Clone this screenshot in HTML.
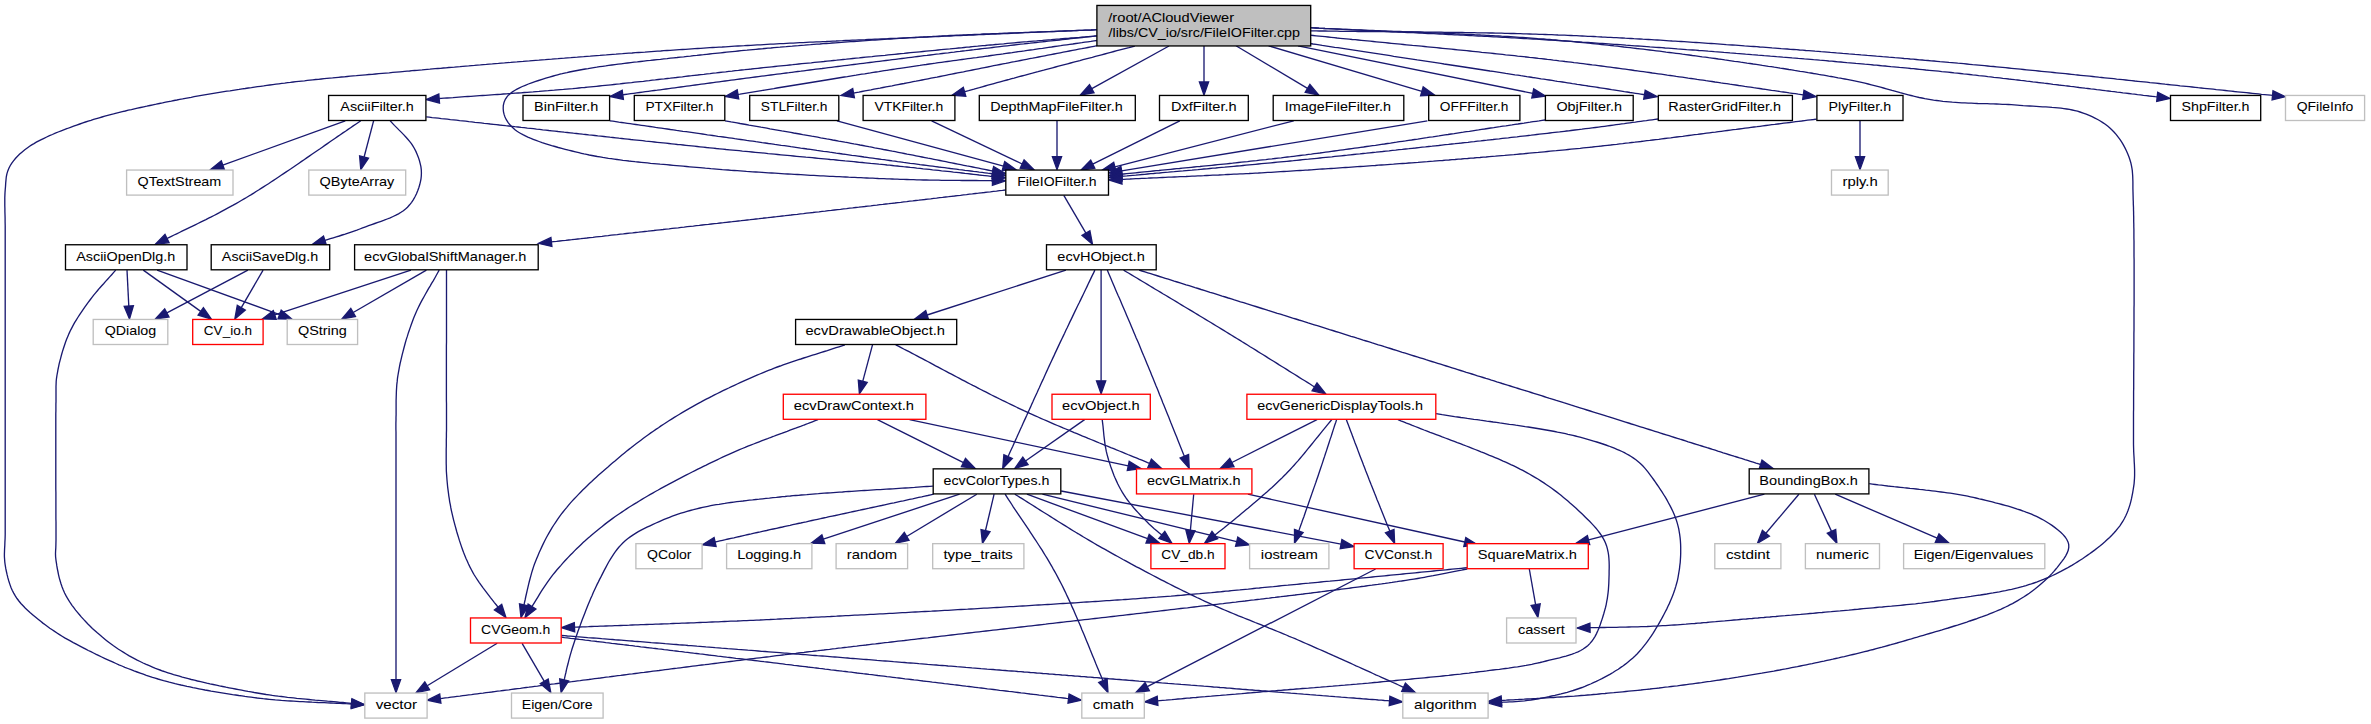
<!DOCTYPE html>
<html><head><meta charset="utf-8"><style>
html,body{margin:0;padding:0;background:#fff;}
body{width:2371px;height:724px;overflow:hidden;}
svg{display:block;}
.e path{fill:none;stroke:#191970;stroke-width:1.33;}
.e polygon{fill:#191970;stroke:#191970;stroke-width:1.33;stroke-linejoin:miter;}
.n rect{fill:#fff;stroke-width:1.33;}
.t text{font-family:"Liberation Sans",sans-serif;font-size:13.30px;fill:#000;stroke:#000;stroke-width:0.05px;}
</style></head><body>
<svg width="2371" height="724" viewBox="0 0 2371 724">
<g class="e">
<path d="M1097.0,29.7 L1094.0,29.8 L1091.0,30.0 L1088.1,30.1 L1085.2,30.2 L1082.4,30.3 L1079.6,30.4 L1076.8,30.5 L1074.0,30.7 L1071.2,30.8 L1068.4,30.9 L1065.7,31.0 L1062.9,31.1 L1060.2,31.2 L1057.4,31.3 L1054.6,31.5 L1051.8,31.6 L1048.9,31.7 L1046.1,31.8 L1043.2,31.9 L1040.2,32.0 L1037.2,32.2 L1034.2,32.3 L1031.1,32.4 L1027.9,32.6 L1024.7,32.7 L1021.4,32.9 L1018.1,33.0 L1014.6,33.1 L1011.1,33.3 L1007.5,33.5 L1003.8,33.6 L1000.0,33.8 L997.8,33.9 L995.5,34.0 L993.2,34.1 L990.9,34.2 L988.6,34.3 L986.2,34.4 L983.8,34.5 L981.3,34.6 L978.9,34.7 L976.4,34.8 L973.8,35.0 L971.3,35.1 L968.7,35.2 L966.1,35.3 L963.5,35.4 L960.8,35.5 L958.1,35.6 L955.4,35.7 L952.7,35.9 L949.9,36.0 L947.1,36.1 L944.3,36.2 L941.5,36.3 L938.7,36.5 L935.8,36.6 L932.9,36.7 L930.0,36.8 L927.1,37.0 L924.1,37.1 L921.2,37.2 L918.2,37.3 L915.2,37.5 L912.2,37.6 L909.1,37.7 L906.1,37.9 L903.0,38.0 L900.0,38.1 L896.9,38.3 L893.8,38.4 L890.6,38.5 L887.5,38.7 L884.4,38.8 L881.2,38.9 L878.0,39.1 L874.8,39.2 L871.7,39.4 L868.5,39.5 L865.2,39.7 L862.0,39.8 L858.8,39.9 L855.6,40.1 L852.3,40.2 L849.1,40.4 L845.8,40.5 L842.5,40.7 L839.3,40.8 L836.0,41.0 L832.7,41.1 L829.4,41.3 L826.2,41.5 L822.9,41.6 L819.6,41.8 L816.3,41.9 L813.0,42.1 L809.7,42.2 L806.4,42.4 L803.1,42.6 L799.8,42.7 L796.5,42.9 L793.2,43.1 L789.9,43.2 L786.6,43.4 L783.4,43.6 L780.1,43.7 L776.8,43.9 L773.5,44.1 L770.3,44.2 L767.0,44.4 L763.7,44.6 L760.5,44.8 L757.2,44.9 L754.0,45.1 L750.8,45.3 L747.6,45.5 L744.3,45.7 L741.1,45.8 L738.0,46.0 L734.8,46.2 L731.6,46.4 L728.4,46.6 L725.3,46.8 L722.2,47.0 L719.0,47.1 L715.9,47.3 L712.8,47.5 L709.8,47.7 L706.7,47.9 L703.7,48.1 L700.7,48.3 L697.7,48.5 L694.7,48.7 L691.7,48.9 L688.6,49.1 L685.5,49.3 L682.5,49.5 L679.4,49.7 L676.3,49.9 L673.2,50.1 L670.1,50.3 L667.0,50.5 L663.8,50.7 L660.7,51.0 L657.5,51.2 L654.4,51.4 L651.2,51.6 L648.0,51.8 L644.9,52.1 L641.7,52.3 L638.5,52.5 L635.3,52.7 L632.1,53.0 L628.9,53.2 L625.7,53.4 L622.5,53.7 L619.2,53.9 L616.0,54.2 L612.8,54.4 L609.6,54.6 L606.3,54.9 L603.1,55.1 L599.9,55.4 L596.7,55.6 L593.4,55.8 L590.2,56.1 L587.0,56.3 L583.7,56.6 L580.5,56.8 L577.3,57.1 L574.1,57.3 L570.8,57.6 L567.6,57.8 L564.4,58.1 L561.2,58.3 L558.0,58.6 L554.8,58.8 L551.6,59.1 L548.4,59.3 L545.2,59.6 L542.0,59.8 L538.9,60.1 L535.7,60.3 L532.5,60.6 L529.4,60.9 L526.2,61.1 L523.1,61.4 L520.0,61.6 L516.9,61.9 L513.8,62.1 L510.7,62.4 L507.6,62.6 L504.5,62.9 L501.5,63.1 L498.4,63.4 L495.4,63.6 L492.3,63.9 L489.3,64.1 L486.3,64.4 L483.4,64.6 L480.4,64.9 L477.4,65.1 L474.5,65.4 L471.6,65.6 L468.7,65.9 L465.8,66.1 L462.9,66.3 L460.0,66.6 L457.2,66.8 L454.4,67.1 L451.6,67.3 L448.8,67.5 L446.0,67.8 L443.3,68.0 L440.6,68.3 L437.8,68.5 L435.2,68.7 L432.5,68.9 L429.9,69.2 L427.2,69.4 L424.6,69.6 L422.1,69.9 L419.5,70.1 L417.0,70.3 L414.5,70.5 L412.0,70.7 L409.6,71.0 L407.1,71.2 L404.7,71.4 L402.4,71.6 L400.0,71.8 L396.3,72.1 L392.7,72.4 L389.2,72.8 L385.7,73.1 L382.2,73.4 L378.8,73.7 L375.5,74.0 L372.2,74.3 L368.9,74.5 L365.7,74.8 L362.6,75.1 L359.4,75.4 L356.3,75.7 L353.3,75.9 L350.2,76.2 L347.2,76.5 L344.3,76.8 L341.3,77.0 L338.4,77.3 L335.5,77.6 L332.6,77.9 L329.8,78.1 L326.9,78.4 L324.1,78.7 L321.3,79.0 L318.4,79.3 L315.6,79.5 L312.8,79.8 L310.0,80.1 L307.3,80.4 L304.5,80.8 L301.7,81.1 L298.9,81.4 L296.0,81.7 L293.2,82.0 L290.4,82.4 L287.6,82.7 L284.7,83.1 L281.8,83.4 L278.9,83.8 L276.0,84.2 L272.9,84.6 L269.8,85.0 L266.8,85.4 L263.7,85.9 L260.6,86.3 L257.5,86.7 L254.5,87.1 L251.4,87.6 L248.3,88.0 L245.2,88.5 L242.2,88.9 L239.1,89.4 L236.1,89.8 L233.0,90.3 L230.0,90.8 L226.9,91.2 L223.9,91.7 L220.9,92.2 L217.9,92.7 L214.9,93.2 L211.9,93.7 L208.9,94.2 L205.9,94.7 L202.9,95.2 L200.0,95.7 L197.1,96.2 L194.1,96.7 L191.2,97.3 L188.3,97.8 L185.4,98.3 L182.6,98.9 L179.7,99.4 L176.9,100.0 L174.1,100.5 L171.3,101.1 L168.5,101.6 L165.7,102.2 L162.5,102.9 L159.4,103.5 L156.2,104.2 L153.0,104.8 L149.9,105.5 L146.8,106.2 L143.7,106.8 L140.6,107.5 L137.5,108.2 L134.4,108.9 L131.4,109.6 L128.3,110.2 L125.3,111.0 L122.3,111.7 L119.4,112.4 L116.4,113.1 L113.5,113.9 L110.6,114.6 L107.7,115.4 L104.8,116.2 L102.0,117.0 L99.2,117.8 L96.4,118.6 L93.6,119.4 L90.9,120.3 L88.2,121.1 L85.5,122.0 L82.9,122.9 L79.8,124.0 L76.7,125.1 L73.6,126.2 L70.5,127.3 L67.4,128.5 L64.3,129.6 L61.2,130.8 L58.2,132.0 L55.3,133.2 L52.4,134.5 L49.5,135.7 L46.7,137.0 L44.0,138.3 L41.3,139.6 L38.8,140.9 L36.3,142.2 L34.0,143.6 L31.7,144.9 L29.6,146.3 L27.6,147.7 L24.8,149.8 L22.2,151.9 L19.7,154.1 L17.5,156.3 L15.4,158.5 L13.5,160.8 L11.8,163.1 L10.3,165.5 L9.0,168.0 L7.8,170.9 L6.9,173.8 L6.3,176.8 L6.0,179.9 L5.7,183.1 L5.5,186.5 L5.2,190.0 L5.0,192.6 L4.9,195.1 L4.8,197.6 L4.8,200.2 L4.8,202.8 L4.8,205.5 L4.9,208.4 L4.9,211.4 L5.0,214.6 L5.1,218.0 L5.1,221.7 L5.2,225.7 L5.2,230.0 L5.2,231.6 L5.2,233.4 L5.2,235.2 L5.2,237.1 L5.2,239.1 L5.2,241.1 L5.2,243.2 L5.2,245.4 L5.2,247.7 L5.2,250.0 L5.2,252.4 L5.2,254.9 L5.2,257.4 L5.2,260.0 L5.2,262.7 L5.2,265.4 L5.2,268.2 L5.2,271.0 L5.2,273.9 L5.2,276.9 L5.2,279.8 L5.2,282.9 L5.2,286.0 L5.2,289.1 L5.2,292.3 L5.2,295.5 L5.2,298.8 L5.2,302.1 L5.2,305.4 L5.2,308.8 L5.2,312.2 L5.2,315.6 L5.2,319.1 L5.2,322.6 L5.2,326.1 L5.2,329.6 L5.2,333.2 L5.2,336.8 L5.2,340.4 L5.2,344.0 L5.2,347.7 L5.2,351.4 L5.2,355.0 L5.2,358.7 L5.2,362.4 L5.2,366.1 L5.2,369.8 L5.2,373.5 L5.2,377.2 L5.2,381.0 L5.2,384.7 L5.2,388.4 L5.2,392.1 L5.2,395.8 L5.2,399.5 L5.2,403.2 L5.2,406.9 L5.2,410.5 L5.2,414.2 L5.2,417.8 L5.2,421.4 L5.2,425.0 L5.2,428.6 L5.2,432.1 L5.2,435.7 L5.2,439.2 L5.2,442.6 L5.2,446.1 L5.2,449.5 L5.2,452.9 L5.2,456.2 L5.2,459.5 L5.2,462.8 L5.2,466.0 L5.2,469.2 L5.2,472.3 L5.2,475.4 L5.2,478.4 L5.2,481.4 L5.2,484.4 L5.2,487.3 L5.2,490.1 L5.2,492.9 L5.2,495.6 L5.2,498.3 L5.2,500.9 L5.2,503.4 L5.2,505.9 L5.2,508.3 L5.2,510.7 L5.2,512.9 L5.2,515.1 L5.2,517.3 L5.2,519.3 L5.2,521.3 L5.2,523.2 L5.2,525.0 L5.2,526.8 L5.2,528.4 L5.2,530.0 L5.2,534.5 L5.1,538.5 L4.9,542.1 L4.8,545.4 L4.6,548.4 L4.5,551.2 L4.4,553.9 L4.4,556.6 L4.6,559.3 L4.8,562.1 L5.2,565.0 L5.7,568.2 L6.4,571.5 L7.1,574.7 L7.9,577.9 L8.8,581.0 L9.8,584.1 L10.9,587.2 L12.2,590.2 L13.7,593.1 L15.3,595.9 L17.0,598.5 L18.9,601.0 L20.9,603.5 L23.1,605.8 L25.4,608.2 L27.8,610.4 L30.3,612.7 L32.9,614.9 L35.4,617.0 L38.1,619.2 L40.7,621.3 L42.9,623.1 L45.2,624.8 L47.5,626.5 L49.8,628.2 L52.2,629.8 L54.6,631.4 L57.0,633.0 L59.5,634.6 L62.1,636.2 L64.7,637.8 L67.5,639.3 L70.3,640.9 L73.3,642.6 L76.3,644.2 L78.6,645.4 L80.9,646.6 L83.3,647.9 L85.8,649.2 L88.3,650.5 L90.9,651.7 L93.5,653.0 L96.2,654.4 L98.9,655.7 L101.7,657.0 L104.5,658.3 L107.3,659.6 L110.2,660.9 L113.1,662.2 L116.0,663.5 L118.9,664.8 L121.9,666.0 L124.9,667.3 L127.9,668.5 L131.0,669.7 L134.0,670.9 L137.1,672.0 L140.2,673.1 L143.3,674.2 L146.3,675.3 L149.4,676.3 L152.5,677.3 L155.2,678.1 L158.0,679.0 L160.8,679.8 L163.6,680.6 L166.5,681.3 L169.3,682.1 L172.2,682.8 L175.1,683.6 L178.0,684.3 L181.0,685.0 L183.9,685.6 L186.9,686.3 L189.9,686.9 L192.9,687.6 L195.9,688.2 L198.9,688.8 L201.9,689.4 L205.0,690.0 L208.0,690.5 L211.1,691.1 L214.2,691.6 L217.2,692.1 L220.3,692.6 L223.4,693.1 L226.5,693.6 L229.6,694.1 L232.6,694.6 L235.7,695.0 L238.8,695.5 L241.9,695.9 L245.0,696.4 L248.1,696.8 L251.1,697.2 L254.2,697.6 L257.2,698.0 L260.2,698.3 L263.2,698.7 L266.2,699.0 L269.2,699.3 L272.3,699.6 L275.3,699.9 L278.3,700.1 L281.4,700.4 L284.4,700.6 L287.5,700.8 L290.6,701.0 L293.6,701.2 L296.7,701.4 L299.8,701.6 L302.9,701.7 L305.9,701.9 L309.0,702.0 L312.1,702.2 L315.2,702.3 L318.3,702.5 L321.4,702.6 L324.4,702.7 L327.5,702.9 L330.6,703.0 L333.7,703.1 L336.8,703.3 L339.9,703.4 L343.0,703.5 L346.1,703.7 L349.1,703.8 L351.5,704.0"/>
<path d="M1097.0,29.7 L1094.0,29.8 L1091.0,30.0 L1088.0,30.1 L1085.0,30.2 L1082.0,30.3 L1079.0,30.4 L1076.0,30.6 L1073.1,30.7 L1070.1,30.8 L1067.1,30.9 L1064.1,31.0 L1061.1,31.1 L1058.1,31.2 L1055.2,31.4 L1052.2,31.5 L1049.2,31.6 L1046.2,31.7 L1043.3,31.8 L1040.3,31.9 L1037.3,32.0 L1034.3,32.1 L1031.3,32.2 L1028.4,32.3 L1025.4,32.4 L1022.4,32.6 L1019.4,32.7 L1016.5,32.8 L1013.5,32.9 L1010.5,33.0 L1007.5,33.1 L1004.5,33.2 L1001.5,33.3 L998.6,33.5 L995.6,33.6 L992.6,33.7 L989.6,33.8 L986.6,33.9 L983.6,34.0 L980.6,34.2 L977.6,34.3 L974.6,34.4 L971.6,34.6 L968.6,34.7 L965.6,34.8 L962.6,35.0 L959.6,35.1 L956.6,35.2 L953.6,35.4 L950.6,35.5 L947.5,35.7 L944.5,35.8 L941.5,36.0 L938.5,36.1 L935.4,36.3 L932.4,36.5 L929.3,36.6 L926.3,36.8 L923.2,37.0 L920.2,37.1 L917.1,37.3 L914.1,37.5 L911.0,37.7 L908.1,37.9 L905.1,38.1 L902.1,38.3 L899.2,38.4 L896.2,38.6 L893.2,38.8 L890.2,39.0 L887.2,39.2 L884.2,39.4 L881.2,39.6 L878.2,39.8 L875.1,40.0 L872.1,40.2 L869.0,40.4 L866.0,40.6 L862.9,40.8 L859.9,41.0 L856.8,41.3 L853.8,41.5 L850.7,41.7 L847.6,41.9 L844.5,42.1 L841.5,42.4 L838.4,42.6 L835.3,42.8 L832.2,43.0 L829.1,43.3 L826.1,43.5 L823.0,43.7 L819.9,44.0 L816.8,44.2 L813.7,44.4 L810.6,44.7 L807.6,44.9 L804.5,45.2 L801.4,45.4 L798.4,45.7 L795.3,45.9 L792.2,46.2 L789.2,46.4 L786.1,46.7 L783.1,46.9 L780.0,47.2 L777.0,47.4 L773.9,47.7 L770.9,48.0 L767.9,48.2 L764.9,48.5 L761.9,48.8 L758.9,49.0 L755.9,49.3 L752.9,49.6 L749.9,49.9 L747.0,50.2 L744.0,50.4 L741.1,50.7 L738.2,51.0 L735.2,51.3 L732.3,51.6 L729.4,51.9 L726.5,52.2 L723.7,52.5 L720.8,52.8 L718.0,53.1 L715.1,53.4 L712.3,53.7 L709.5,54.0 L706.7,54.3 L703.5,54.7 L700.2,55.0 L696.9,55.4 L693.7,55.7 L690.4,56.1 L687.1,56.4 L683.7,56.8 L680.4,57.1 L677.1,57.5 L673.8,57.8 L670.4,58.2 L667.1,58.6 L663.8,58.9 L660.4,59.3 L657.1,59.6 L653.8,60.0 L650.5,60.4 L647.2,60.7 L643.9,61.1 L640.6,61.5 L637.3,61.9 L634.1,62.2 L630.8,62.6 L627.6,63.0 L624.4,63.4 L621.2,63.8 L618.1,64.2 L614.9,64.6 L611.8,65.0 L608.7,65.4 L605.7,65.9 L602.7,66.3 L599.7,66.7 L596.7,67.2 L593.8,67.6 L590.9,68.1 L588.1,68.6 L585.3,69.0 L582.5,69.5 L579.8,70.0 L577.2,70.5 L574.5,71.0 L572.0,71.5 L569.4,72.0 L567.0,72.6 L564.5,73.1 L562.2,73.7 L559.9,74.2 L557.6,74.8 L555.4,75.4 L553.3,76.0 L549.5,77.1 L545.8,78.2 L542.1,79.3 L538.5,80.5 L535.0,81.6 L531.6,82.8 L528.4,84.0 L525.3,85.3 L522.3,86.5 L519.5,87.8 L517.0,89.2 L514.6,90.5 L512.4,91.9 L510.4,93.4 L508.7,94.9 L507.3,96.4 L505.3,99.3 L504.0,102.4 L503.3,105.5 L503.2,108.7 L503.5,111.8 L504.1,114.4 L505.0,117.0 L506.3,119.7 L508.0,122.3 L509.9,124.8 L512.3,127.3 L515.0,129.7 L516.7,131.0 L518.6,132.3 L520.7,133.5 L522.9,134.7 L525.3,135.9 L527.8,137.1 L530.4,138.2 L533.2,139.3 L536.1,140.4 L539.0,141.5 L542.1,142.6 L545.2,143.6 L548.4,144.6 L551.7,145.6 L555.0,146.5 L558.3,147.5 L561.7,148.4 L565.2,149.3 L568.6,150.2 L572.0,151.0 L575.5,151.9 L578.9,152.7 L581.4,153.3 L584.0,153.9 L586.6,154.4 L589.2,155.0 L591.9,155.5 L594.6,156.0 L597.3,156.5 L600.0,156.9 L602.8,157.4 L605.6,157.8 L608.4,158.3 L611.3,158.7 L614.2,159.1 L617.1,159.5 L620.0,159.9 L622.9,160.3 L625.9,160.6 L628.9,161.0 L631.9,161.3 L635.0,161.7 L638.1,162.0 L641.2,162.3 L644.3,162.6 L647.4,162.9 L650.6,163.3 L653.7,163.6 L656.9,163.9 L660.1,164.2 L663.4,164.4 L666.6,164.7 L669.9,165.0 L673.2,165.3 L676.5,165.6 L679.8,165.9 L683.1,166.2 L686.5,166.5 L689.8,166.8 L693.2,167.1 L696.6,167.4 L700.0,167.7 L702.7,167.9 L705.4,168.2 L708.1,168.4 L710.9,168.7 L713.7,168.9 L716.5,169.1 L719.4,169.3 L722.3,169.6 L725.2,169.8 L728.2,170.0 L731.2,170.3 L734.2,170.5 L737.2,170.7 L740.2,170.9 L743.3,171.1 L746.4,171.4 L749.5,171.6 L752.6,171.8 L755.8,172.0 L758.9,172.2 L762.1,172.4 L765.3,172.6 L768.5,172.8 L771.7,173.0 L774.9,173.2 L778.1,173.4 L781.4,173.6 L784.6,173.8 L787.8,174.0 L791.1,174.2 L794.3,174.4 L797.6,174.5 L800.8,174.7 L804.1,174.9 L807.3,175.1 L810.5,175.3 L813.8,175.4 L817.0,175.6 L820.2,175.8 L823.4,175.9 L826.6,176.1 L829.8,176.3 L833.0,176.4 L836.2,176.6 L839.3,176.7 L842.4,176.9 L845.6,177.0 L848.7,177.2 L851.7,177.3 L854.8,177.4 L857.8,177.6 L860.9,177.7 L863.8,177.9 L866.8,178.0 L869.7,178.1 L872.7,178.2 L875.5,178.3 L878.4,178.5 L881.2,178.6 L884.0,178.7 L886.8,178.8 L889.5,178.9 L892.2,179.0 L894.8,179.1 L897.4,179.2 L900.0,179.3 L903.5,179.4 L906.9,179.5 L910.2,179.6 L913.6,179.7 L916.8,179.8 L920.0,179.9 L923.2,180.0 L926.4,180.0 L929.5,180.1 L932.6,180.2 L935.6,180.2 L938.6,180.2 L941.6,180.3 L944.6,180.3 L947.5,180.4 L950.5,180.4 L953.4,180.4 L956.3,180.4 L959.2,180.4 L962.0,180.5 L964.9,180.5 L967.8,180.5 L970.6,180.5 L973.5,180.5 L976.3,180.5 L979.2,180.6 L982.1,180.6 L984.9,180.6 L987.8,180.6 L990.7,180.6 L992.5,180.7"/>
<path d="M1097.0,35.9 L1094.0,36.2 L1091.0,36.4 L1088.1,36.6 L1085.2,36.9 L1082.3,37.1 L1079.4,37.4 L1076.6,37.6 L1073.8,37.8 L1071.0,38.0 L1068.1,38.3 L1065.3,38.5 L1062.5,38.7 L1059.7,39.0 L1056.9,39.2 L1054.1,39.4 L1051.2,39.7 L1048.3,39.9 L1045.4,40.1 L1042.5,40.4 L1039.6,40.6 L1036.6,40.9 L1033.5,41.1 L1030.4,41.4 L1027.3,41.7 L1024.1,41.9 L1020.9,42.2 L1017.6,42.5 L1014.2,42.8 L1010.8,43.1 L1007.3,43.4 L1003.7,43.8 L1000.0,44.1 L997.7,44.3 L995.3,44.5 L992.9,44.8 L990.4,45.0 L987.9,45.2 L985.4,45.5 L982.9,45.7 L980.3,45.9 L977.7,46.2 L975.0,46.4 L972.3,46.7 L969.6,47.0 L966.9,47.2 L964.1,47.5 L961.3,47.8 L958.5,48.0 L955.7,48.3 L952.8,48.6 L949.9,48.9 L947.0,49.1 L944.0,49.4 L941.1,49.7 L938.1,50.0 L935.1,50.3 L932.1,50.6 L929.0,50.9 L926.0,51.2 L922.9,51.5 L919.8,51.8 L916.7,52.1 L913.6,52.4 L910.4,52.7 L907.3,53.0 L904.1,53.4 L901.0,53.7 L897.8,54.0 L894.6,54.3 L891.4,54.6 L888.2,54.9 L885.0,55.3 L881.8,55.6 L878.6,55.9 L875.4,56.2 L872.1,56.6 L868.9,56.9 L865.7,57.2 L862.4,57.5 L859.2,57.9 L856.0,58.2 L852.7,58.5 L849.5,58.8 L846.3,59.2 L843.1,59.5 L839.8,59.8 L836.6,60.2 L833.4,60.5 L830.2,60.8 L827.0,61.1 L823.9,61.5 L820.7,61.8 L817.5,62.1 L814.4,62.4 L811.2,62.8 L808.1,63.1 L805.0,63.4 L801.9,63.7 L798.8,64.0 L795.8,64.3 L792.7,64.7 L789.7,65.0 L786.7,65.3 L783.7,65.6 L780.7,65.9 L777.8,66.2 L774.9,66.5 L771.9,66.8 L769.1,67.1 L766.2,67.4 L763.4,67.7 L760.6,68.0 L757.8,68.3 L754.5,68.6 L751.3,69.0 L748.1,69.3 L744.8,69.7 L741.6,70.0 L738.4,70.4 L735.2,70.7 L732.1,71.1 L728.9,71.4 L725.7,71.8 L722.6,72.1 L719.4,72.5 L716.3,72.9 L713.2,73.2 L710.1,73.6 L707.0,73.9 L703.9,74.3 L700.8,74.6 L697.7,75.0 L694.6,75.3 L691.6,75.7 L688.5,76.0 L685.4,76.4 L682.4,76.8 L679.4,77.1 L676.3,77.5 L673.3,77.8 L670.3,78.2 L667.3,78.5 L664.3,78.9 L661.3,79.2 L658.3,79.5 L655.3,79.9 L652.3,80.2 L649.3,80.6 L646.4,80.9 L643.4,81.3 L640.4,81.6 L637.5,81.9 L634.5,82.2 L631.6,82.6 L628.6,82.9 L625.7,83.2 L622.7,83.5 L619.8,83.9 L616.9,84.2 L613.9,84.5 L611.0,84.8 L608.1,85.1 L605.2,85.4 L602.2,85.7 L599.3,86.0 L596.4,86.3 L593.5,86.6 L590.6,86.9 L587.6,87.2 L584.7,87.5 L581.8,87.7 L578.9,88.0 L575.8,88.3 L572.7,88.6 L569.6,88.8 L566.5,89.1 L563.5,89.4 L560.4,89.6 L557.3,89.9 L554.3,90.2 L551.2,90.4 L548.2,90.7 L545.2,90.9 L542.2,91.1 L539.1,91.4 L536.1,91.6 L533.1,91.9 L530.1,92.1 L527.1,92.3 L524.1,92.5 L521.1,92.8 L518.2,93.0 L515.2,93.2 L512.2,93.4 L509.2,93.6 L506.3,93.8 L503.3,94.0 L500.3,94.3 L497.4,94.5 L494.4,94.7 L491.4,94.9 L488.5,95.1 L485.5,95.3 L482.6,95.5 L479.6,95.7 L476.7,95.9 L473.7,96.1 L470.8,96.3 L467.8,96.5 L464.8,96.7 L461.9,96.9 L458.9,97.1 L456.0,97.3 L453.0,97.6 L450.0,97.8 L447.1,98.0 L444.1,98.2 L441.1,98.4 L439.2,98.5"/>
<path d="M1097.0,35.9 L1094.0,36.2 L1091.0,36.6 L1088.1,36.9 L1085.1,37.2 L1082.2,37.5 L1079.4,37.8 L1076.5,38.1 L1073.6,38.4 L1070.8,38.7 L1068.0,39.0 L1065.1,39.4 L1062.3,39.7 L1059.5,40.0 L1056.6,40.3 L1053.8,40.6 L1050.9,40.9 L1048.0,41.2 L1045.1,41.5 L1042.2,41.8 L1039.2,42.2 L1036.2,42.5 L1033.1,42.8 L1030.1,43.2 L1026.9,43.5 L1023.8,43.9 L1020.6,44.2 L1017.3,44.6 L1014.0,45.0 L1010.6,45.4 L1007.1,45.8 L1003.6,46.2 L1000.0,46.6 L997.6,46.9 L995.1,47.2 L992.6,47.5 L990.1,47.8 L987.5,48.1 L984.9,48.4 L982.2,48.7 L979.6,49.0 L976.9,49.3 L974.1,49.7 L971.4,50.0 L968.6,50.3 L965.8,50.7 L962.9,51.0 L960.0,51.4 L957.1,51.7 L954.2,52.1 L951.3,52.4 L948.3,52.8 L945.3,53.1 L942.3,53.5 L939.3,53.9 L936.3,54.2 L933.2,54.6 L930.2,55.0 L927.1,55.4 L924.0,55.7 L920.8,56.1 L917.7,56.5 L914.6,56.9 L911.4,57.3 L908.2,57.7 L905.1,58.1 L901.9,58.5 L898.7,58.9 L895.5,59.3 L892.3,59.7 L889.1,60.1 L885.9,60.5 L882.7,60.9 L879.4,61.3 L876.2,61.7 L873.0,62.1 L869.8,62.5 L866.6,62.9 L863.3,63.3 L860.1,63.7 L856.9,64.1 L853.7,64.5 L850.5,64.9 L847.3,65.3 L844.1,65.7 L841.0,66.1 L837.8,66.5 L834.6,66.9 L831.5,67.3 L828.3,67.7 L825.2,68.1 L822.1,68.5 L819.0,68.8 L815.9,69.2 L812.9,69.6 L809.8,70.0 L806.8,70.4 L803.8,70.8 L800.8,71.2 L797.8,71.5 L794.9,71.9 L791.9,72.3 L789.0,72.7 L786.2,73.0 L783.3,73.4 L780.1,73.8 L777.0,74.2 L773.9,74.6 L770.8,75.0 L767.7,75.4 L764.6,75.8 L761.5,76.2 L758.4,76.6 L755.3,77.0 L752.3,77.4 L749.2,77.8 L746.2,78.2 L743.1,78.6 L740.1,79.0 L737.1,79.4 L734.1,79.8 L731.1,80.2 L728.1,80.6 L725.1,81.0 L722.1,81.4 L719.1,81.8 L716.1,82.2 L713.1,82.6 L710.2,83.0 L707.2,83.4 L704.2,83.8 L701.3,84.2 L698.3,84.6 L695.4,85.0 L692.4,85.4 L689.5,85.8 L686.6,86.2 L683.6,86.6 L680.7,87.0 L677.7,87.4 L674.8,87.8 L671.9,88.2 L668.9,88.6 L666.0,89.0 L663.1,89.4 L660.1,89.8 L657.2,90.2 L654.3,90.5 L651.3,90.9 L648.4,91.3 L645.4,91.7 L642.5,92.1 L639.6,92.5 L636.6,92.9 L633.7,93.3 L630.7,93.7 L627.7,94.1 L624.8,94.5 L622.8,94.8"/>
<path d="M1097.0,40.5 L1094.0,40.9 L1090.9,41.4 L1087.9,41.8 L1084.9,42.2 L1081.9,42.7 L1078.8,43.1 L1075.8,43.5 L1072.8,44.0 L1069.8,44.4 L1066.7,44.8 L1063.7,45.2 L1060.7,45.7 L1057.7,46.1 L1054.6,46.5 L1051.6,47.0 L1048.6,47.4 L1045.6,47.8 L1042.5,48.3 L1039.5,48.7 L1036.5,49.1 L1033.5,49.6 L1030.4,50.0 L1027.4,50.4 L1024.4,50.9 L1021.3,51.3 L1018.3,51.7 L1015.2,52.1 L1012.2,52.6 L1009.2,53.0 L1006.1,53.4 L1003.1,53.9 L1000.0,54.3 L997.0,54.7 L994.0,55.1 L991.1,55.5 L988.1,56.0 L985.2,56.4 L982.3,56.8 L979.4,57.2 L976.5,57.6 L973.6,57.9 L970.7,58.3 L967.8,58.7 L964.9,59.1 L962.0,59.5 L959.1,59.9 L956.2,60.3 L953.3,60.7 L950.4,61.1 L947.4,61.5 L944.4,61.9 L941.5,62.3 L938.5,62.7 L935.4,63.2 L932.4,63.6 L929.3,64.0 L926.2,64.5 L923.1,64.9 L919.9,65.4 L916.7,65.8 L913.4,66.3 L910.1,66.8 L906.8,67.3 L903.4,67.8 L900.0,68.3 L897.4,68.7 L894.8,69.1 L892.2,69.5 L889.6,69.9 L886.9,70.3 L884.2,70.7 L881.5,71.1 L878.7,71.6 L876.0,72.0 L873.2,72.4 L870.4,72.9 L867.5,73.3 L864.7,73.8 L861.8,74.2 L859.0,74.7 L856.1,75.2 L853.1,75.6 L850.2,76.1 L847.3,76.6 L844.3,77.0 L841.3,77.5 L838.3,78.0 L835.3,78.5 L832.3,79.0 L829.3,79.5 L826.3,80.0 L823.2,80.5 L820.2,81.0 L817.1,81.5 L814.0,82.0 L811.0,82.5 L807.9,83.0 L804.8,83.5 L801.7,84.0 L798.6,84.5 L795.5,85.0 L792.4,85.5 L789.3,86.0 L786.2,86.5 L783.1,87.0 L780.0,87.5 L776.9,88.0 L773.8,88.6 L770.7,89.1 L767.6,89.6 L764.6,90.1 L761.5,90.6 L758.4,91.1 L755.3,91.6 L752.3,92.1 L749.2,92.6 L746.2,93.1 L743.1,93.6 L740.1,94.1 L737.9,94.4"/>
<path d="M1097.0,45.7 L1094.0,46.3 L1090.9,46.9 L1087.9,47.5 L1084.8,48.1 L1081.7,48.7 L1078.7,49.2 L1075.6,49.8 L1072.5,50.4 L1069.4,51.0 L1066.3,51.6 L1063.2,52.2 L1060.2,52.8 L1057.1,53.4 L1054.0,54.0 L1050.9,54.6 L1047.8,55.2 L1044.8,55.8 L1041.7,56.4 L1038.6,57.0 L1035.6,57.6 L1032.6,58.2 L1029.5,58.7 L1026.5,59.3 L1023.5,59.9 L1020.5,60.5 L1017.5,61.1 L1014.6,61.7 L1011.6,62.2 L1008.7,62.8 L1005.8,63.4 L1002.9,63.9 L1000.0,64.5 L996.8,65.1 L993.7,65.7 L990.6,66.3 L987.5,67.0 L984.5,67.6 L981.5,68.2 L978.4,68.8 L975.4,69.4 L972.4,70.0 L969.5,70.6 L966.5,71.2 L963.5,71.8 L960.6,72.3 L957.6,72.9 L954.7,73.5 L951.7,74.1 L948.8,74.7 L945.8,75.3 L942.9,75.9 L939.9,76.5 L937.0,77.1 L934.0,77.6 L931.0,78.2 L928.0,78.8 L925.0,79.4 L922.0,80.0 L919.0,80.6 L916.0,81.2 L913.1,81.7 L910.1,82.3 L907.1,82.9 L904.1,83.5 L901.1,84.0 L898.1,84.6 L895.1,85.2 L892.1,85.8 L889.0,86.3 L886.0,86.9 L883.0,87.5 L880.0,88.1 L877.0,88.6 L874.0,89.2 L870.9,89.8 L867.9,90.3 L864.9,90.9 L861.9,91.5 L858.9,92.1 L855.9,92.6 L853.6,93.1"/>
<path d="M1134.8,46.0 L1131.9,46.8 L1128.9,47.6 L1126.0,48.3 L1123.0,49.1 L1120.0,49.9 L1116.9,50.7 L1113.9,51.5 L1110.8,52.4 L1107.8,53.2 L1104.7,54.0 L1101.6,54.8 L1098.5,55.6 L1095.4,56.4 L1092.3,57.3 L1089.2,58.1 L1086.1,58.9 L1083.0,59.7 L1079.9,60.6 L1076.8,61.4 L1073.7,62.2 L1070.6,63.0 L1067.6,63.8 L1064.5,64.6 L1061.5,65.4 L1058.5,66.2 L1055.5,67.0 L1052.5,67.8 L1049.6,68.6 L1046.6,69.4 L1043.7,70.2 L1040.9,70.9 L1038.0,71.7 L1035.2,72.4 L1032.4,73.2 L1029.7,73.9 L1027.0,74.6 L1024.3,75.3 L1021.7,76.0 L1019.1,76.7 L1016.6,77.4 L1014.1,78.1 L1011.7,78.7 L1009.3,79.4 L1007.0,80.0 L1003.6,80.9 L1000.2,81.8 L997.0,82.7 L993.9,83.6 L990.9,84.4 L987.9,85.2 L985.1,86.0 L982.2,86.8 L979.4,87.6 L976.7,88.3 L974.0,89.1 L971.3,89.8 L968.6,90.6 L965.9,91.3 L964.5,91.7"/>
<path d="M1169.0,46.0 L1091.8,88.7"/>
<path d="M1204.0,45.8 L1204.0,82.0"/>
<path d="M1236.0,45.8 L1307.5,88.4"/>
<path d="M1268.6,45.8 L1421.9,91.3"/>
<path d="M1298.0,45.8 L1532.8,93.4"/>
<path d="M1310.1,43.5 L1313.1,44.0 L1316.1,44.4 L1319.2,44.9 L1322.2,45.4 L1325.3,45.8 L1328.4,46.3 L1331.6,46.8 L1334.7,47.3 L1337.9,47.7 L1341.0,48.2 L1344.2,48.7 L1347.5,49.2 L1350.7,49.7 L1353.9,50.2 L1357.2,50.7 L1360.5,51.2 L1363.7,51.7 L1367.0,52.2 L1370.3,52.7 L1373.6,53.2 L1377.0,53.7 L1380.3,54.2 L1383.6,54.7 L1387.0,55.2 L1390.3,55.7 L1393.7,56.3 L1397.0,56.8 L1400.4,57.3 L1403.8,57.8 L1407.1,58.3 L1410.5,58.8 L1413.9,59.3 L1417.2,59.9 L1420.6,60.4 L1424.0,60.9 L1427.3,61.4 L1430.7,61.9 L1434.1,62.4 L1437.4,62.9 L1440.8,63.4 L1444.1,64.0 L1447.5,64.5 L1450.8,65.0 L1454.1,65.5 L1457.5,66.0 L1460.8,66.5 L1464.1,67.0 L1467.3,67.5 L1470.6,68.0 L1473.9,68.5 L1477.1,69.0 L1480.4,69.5 L1483.6,70.0 L1486.8,70.5 L1490.0,71.0 L1493.2,71.4 L1496.3,71.9 L1499.5,72.4 L1502.6,72.9 L1505.7,73.4 L1508.8,73.8 L1511.8,74.3 L1514.9,74.8 L1517.9,75.2 L1520.9,75.7 L1523.8,76.1 L1526.8,76.6 L1529.7,77.0 L1532.6,77.5 L1535.5,77.9 L1538.3,78.3 L1541.1,78.8 L1543.9,79.2 L1546.6,79.6 L1549.4,80.0 L1552.1,80.4 L1554.7,80.9 L1557.3,81.3 L1559.9,81.6 L1562.5,82.0 L1565.0,82.4 L1567.5,82.8 L1569.9,83.2 L1572.4,83.6 L1574.7,83.9 L1577.1,84.3 L1579.4,84.6 L1581.6,85.0 L1583.8,85.3 L1586.0,85.6 L1588.1,86.0 L1590.2,86.3 L1592.3,86.6 L1594.3,86.9 L1596.2,87.2 L1598.1,87.5 L1600.0,87.8 L1604.1,88.4 L1607.9,89.0 L1611.5,89.6 L1615.0,90.1 L1618.2,90.6 L1621.4,91.1 L1624.3,91.6 L1627.2,92.0 L1630.0,92.5 L1632.8,92.9 L1635.4,93.3 L1638.1,93.7 L1640.7,94.1 L1643.3,94.5 L1644.5,94.7"/>
<path d="M1310.1,35.2 L1313.1,35.5 L1316.1,35.8 L1319.1,36.1 L1322.1,36.4 L1325.1,36.7 L1328.1,37.0 L1331.1,37.3 L1334.1,37.6 L1337.1,38.0 L1340.1,38.3 L1343.1,38.6 L1346.2,38.9 L1349.2,39.2 L1352.2,39.5 L1355.2,39.7 L1358.2,40.0 L1361.2,40.3 L1364.2,40.6 L1367.2,40.9 L1370.3,41.2 L1373.3,41.5 L1376.3,41.8 L1379.3,42.1 L1382.3,42.4 L1385.3,42.7 L1388.3,43.0 L1391.4,43.3 L1394.4,43.6 L1397.4,43.9 L1400.4,44.2 L1403.4,44.5 L1406.4,44.8 L1409.4,45.1 L1412.5,45.4 L1415.5,45.6 L1418.5,45.9 L1421.5,46.2 L1424.5,46.5 L1427.5,46.8 L1430.5,47.1 L1433.6,47.4 L1436.6,47.7 L1439.6,48.0 L1442.6,48.3 L1445.6,48.6 L1448.6,48.9 L1451.6,49.2 L1454.6,49.5 L1457.6,49.8 L1460.7,50.1 L1463.7,50.4 L1466.7,50.7 L1469.7,51.0 L1472.7,51.3 L1475.7,51.6 L1478.7,51.9 L1481.7,52.3 L1484.7,52.6 L1487.7,52.9 L1490.7,53.2 L1493.7,53.5 L1496.7,53.8 L1499.7,54.1 L1502.6,54.4 L1505.6,54.8 L1508.6,55.1 L1511.6,55.4 L1514.6,55.7 L1517.6,56.1 L1520.6,56.4 L1523.5,56.7 L1526.5,57.0 L1529.5,57.4 L1532.5,57.7 L1535.5,58.0 L1538.4,58.4 L1541.4,58.7 L1544.4,59.0 L1547.3,59.4 L1550.3,59.7 L1553.3,60.1 L1556.2,60.4 L1559.2,60.8 L1562.1,61.1 L1565.1,61.5 L1568.0,61.8 L1571.0,62.2 L1574.0,62.6 L1577.1,62.9 L1580.1,63.3 L1583.1,63.7 L1586.2,64.1 L1589.2,64.5 L1592.2,64.9 L1595.2,65.2 L1598.3,65.6 L1601.3,66.0 L1604.3,66.4 L1607.3,66.8 L1610.3,67.2 L1613.3,67.6 L1616.4,68.0 L1619.4,68.4 L1622.4,68.8 L1625.4,69.2 L1628.4,69.6 L1631.4,70.0 L1634.4,70.5 L1637.4,70.9 L1640.4,71.3 L1643.4,71.7 L1646.4,72.1 L1649.4,72.5 L1652.3,73.0 L1655.3,73.4 L1658.3,73.8 L1661.3,74.2 L1664.3,74.6 L1667.3,75.1 L1670.3,75.5 L1673.2,75.9 L1676.2,76.4 L1679.2,76.8 L1682.2,77.2 L1685.2,77.6 L1688.2,78.1 L1691.1,78.5 L1694.1,78.9 L1697.1,79.4 L1700.1,79.8 L1703.0,80.2 L1706.0,80.7 L1709.0,81.1 L1712.0,81.5 L1714.9,82.0 L1717.9,82.4 L1720.9,82.9 L1723.9,83.3 L1726.8,83.7 L1729.8,84.2 L1732.8,84.6 L1735.8,85.0 L1738.7,85.5 L1741.7,85.9 L1744.7,86.4 L1747.7,86.8 L1750.6,87.2 L1753.6,87.7 L1756.6,88.1 L1759.6,88.5 L1762.5,89.0 L1765.5,89.4 L1768.5,89.8 L1771.5,90.3 L1774.4,90.7 L1777.4,91.1 L1780.4,91.6 L1783.4,92.0 L1786.4,92.4 L1789.3,92.9 L1792.3,93.3 L1795.3,93.7 L1798.3,94.2 L1801.3,94.6 L1803.3,94.9"/>
<path d="M1310.1,27.7 L1313.1,27.9 L1316.1,28.0 L1319.1,28.2 L1322.1,28.3 L1325.0,28.5 L1328.0,28.6 L1331.0,28.8 L1334.0,28.9 L1336.9,29.1 L1339.9,29.2 L1342.8,29.4 L1345.8,29.5 L1348.7,29.7 L1351.7,29.8 L1354.6,29.9 L1357.6,30.1 L1360.5,30.2 L1363.5,30.4 L1366.4,30.5 L1369.3,30.7 L1372.3,30.8 L1375.2,30.9 L1378.1,31.1 L1381.1,31.2 L1384.0,31.4 L1386.9,31.5 L1389.9,31.6 L1392.8,31.8 L1395.7,31.9 L1398.7,32.1 L1401.6,32.2 L1404.5,32.3 L1407.4,32.5 L1410.4,32.6 L1413.3,32.7 L1416.2,32.9 L1419.2,33.0 L1422.1,33.2 L1425.0,33.3 L1428.0,33.5 L1430.9,33.6 L1433.9,33.7 L1436.8,33.9 L1439.8,34.0 L1442.7,34.2 L1445.7,34.3 L1448.6,34.5 L1451.6,34.6 L1454.5,34.8 L1457.5,34.9 L1460.5,35.1 L1463.4,35.2 L1466.4,35.4 L1469.4,35.5 L1472.4,35.7 L1475.4,35.8 L1478.4,36.0 L1481.3,36.1 L1484.4,36.3 L1487.4,36.4 L1490.4,36.6 L1493.4,36.8 L1496.4,36.9 L1499.4,37.1 L1502.5,37.3 L1505.5,37.4 L1508.6,37.6 L1511.6,37.8 L1514.7,37.9 L1517.7,38.1 L1520.8,38.3 L1523.9,38.5 L1527.0,38.7 L1530.1,38.8 L1533.2,39.0 L1536.3,39.2 L1539.4,39.4 L1542.5,39.6 L1545.6,39.8 L1548.8,40.0 L1551.9,40.2 L1555.1,40.4 L1558.2,40.6 L1561.4,40.8 L1564.6,41.0 L1567.8,41.2 L1571.0,41.4 L1573.8,41.6 L1576.6,41.8 L1579.4,42.0 L1582.3,42.2 L1585.1,42.3 L1588.0,42.5 L1590.8,42.7 L1593.7,42.9 L1596.6,43.1 L1599.5,43.3 L1602.4,43.5 L1605.3,43.7 L1608.2,43.9 L1611.1,44.1 L1614.1,44.3 L1617.0,44.5 L1620.0,44.7 L1622.9,44.9 L1625.9,45.2 L1628.9,45.4 L1631.9,45.6 L1634.8,45.8 L1637.8,46.0 L1640.8,46.2 L1643.9,46.4 L1646.9,46.6 L1649.9,46.9 L1652.9,47.1 L1656.0,47.3 L1659.0,47.5 L1662.0,47.7 L1665.1,48.0 L1668.2,48.2 L1671.2,48.4 L1674.3,48.6 L1677.3,48.9 L1680.4,49.1 L1683.5,49.3 L1686.6,49.6 L1689.7,49.8 L1692.8,50.0 L1695.8,50.2 L1698.9,50.5 L1702.0,50.7 L1705.1,50.9 L1708.2,51.2 L1711.3,51.4 L1714.4,51.7 L1717.5,51.9 L1720.7,52.1 L1723.8,52.4 L1726.9,52.6 L1730.0,52.9 L1733.1,53.1 L1736.2,53.4 L1739.3,53.6 L1742.4,53.8 L1745.6,54.1 L1748.7,54.3 L1751.8,54.6 L1754.9,54.8 L1758.0,55.1 L1761.1,55.3 L1764.2,55.6 L1767.3,55.8 L1770.4,56.1 L1773.5,56.3 L1776.6,56.6 L1779.7,56.8 L1782.8,57.1 L1785.9,57.3 L1789.0,57.6 L1792.1,57.9 L1795.2,58.1 L1798.3,58.4 L1801.3,58.6 L1804.4,58.9 L1807.5,59.1 L1810.5,59.4 L1813.6,59.7 L1816.7,59.9 L1819.7,60.2 L1822.8,60.4 L1825.8,60.7 L1828.8,61.0 L1831.9,61.2 L1834.9,61.5 L1837.9,61.8 L1840.9,62.0 L1843.9,62.3 L1846.9,62.6 L1849.9,62.8 L1852.9,63.1 L1855.9,63.4 L1858.8,63.6 L1861.8,63.9 L1864.7,64.2 L1867.7,64.4 L1870.6,64.7 L1873.5,65.0 L1876.5,65.2 L1879.4,65.5 L1882.3,65.8 L1885.2,66.0 L1888.0,66.3 L1890.9,66.6 L1893.8,66.8 L1896.6,67.1 L1899.5,67.4 L1902.3,67.6 L1905.1,67.9 L1907.9,68.2 L1910.7,68.5 L1913.5,68.7 L1916.3,69.0 L1919.5,69.3 L1922.7,69.6 L1925.9,70.0 L1929.1,70.3 L1932.3,70.6 L1935.4,70.9 L1938.6,71.2 L1941.7,71.6 L1944.8,71.9 L1948.0,72.2 L1951.1,72.5 L1954.2,72.9 L1957.3,73.2 L1960.4,73.5 L1963.5,73.9 L1966.5,74.2 L1969.6,74.5 L1972.6,74.9 L1975.7,75.2 L1978.7,75.6 L1981.8,75.9 L1984.8,76.2 L1987.8,76.6 L1990.8,76.9 L1993.8,77.3 L1996.8,77.6 L1999.8,77.9 L2002.8,78.3 L2005.8,78.6 L2008.8,79.0 L2011.8,79.3 L2014.7,79.7 L2017.7,80.0 L2020.7,80.4 L2023.6,80.7 L2026.6,81.1 L2029.5,81.4 L2032.5,81.8 L2035.4,82.1 L2038.3,82.5 L2041.3,82.8 L2044.2,83.2 L2047.1,83.5 L2050.1,83.9 L2053.0,84.3 L2055.9,84.6 L2058.8,85.0 L2061.7,85.3 L2064.7,85.7 L2067.6,86.0 L2070.5,86.4 L2073.4,86.7 L2076.3,87.1 L2079.2,87.5 L2082.1,87.8 L2085.0,88.2 L2087.9,88.5 L2090.8,88.9 L2093.7,89.2 L2096.7,89.6 L2099.6,89.9 L2102.5,90.3 L2105.4,90.7 L2108.3,91.0 L2111.2,91.4 L2114.1,91.7 L2117.1,92.1 L2120.0,92.4 L2122.9,92.8 L2125.8,93.1 L2128.7,93.5 L2131.7,93.9 L2134.6,94.2 L2137.5,94.6 L2140.5,94.9 L2143.4,95.3 L2146.4,95.6 L2149.3,96.0 L2152.3,96.3 L2155.2,96.7 L2157.2,96.9"/>
<path d="M1310.1,30.8 L1313.1,30.9 L1316.2,30.9 L1319.2,31.0 L1322.2,31.0 L1325.2,31.0 L1328.2,31.1 L1331.2,31.1 L1334.2,31.2 L1337.2,31.2 L1340.2,31.3 L1343.2,31.3 L1346.2,31.3 L1349.2,31.4 L1352.2,31.4 L1355.2,31.4 L1358.1,31.5 L1361.1,31.5 L1364.1,31.5 L1367.1,31.6 L1370.0,31.6 L1373.0,31.6 L1376.0,31.6 L1378.9,31.7 L1381.9,31.7 L1384.9,31.7 L1387.8,31.7 L1390.8,31.8 L1393.8,31.8 L1396.7,31.8 L1399.7,31.8 L1402.6,31.9 L1405.6,31.9 L1408.6,31.9 L1411.5,31.9 L1414.5,32.0 L1417.5,32.0 L1420.4,32.0 L1423.4,32.1 L1426.4,32.1 L1429.4,32.1 L1432.3,32.1 L1435.3,32.2 L1438.3,32.2 L1441.3,32.2 L1444.3,32.3 L1447.2,32.3 L1450.2,32.4 L1453.2,32.4 L1456.2,32.4 L1459.2,32.5 L1462.2,32.5 L1465.2,32.6 L1468.3,32.6 L1471.3,32.7 L1474.3,32.7 L1477.3,32.8 L1480.3,32.8 L1483.4,32.9 L1486.4,32.9 L1489.5,33.0 L1492.5,33.0 L1495.6,33.1 L1498.6,33.2 L1501.7,33.2 L1504.8,33.3 L1507.8,33.4 L1510.9,33.5 L1514.0,33.5 L1517.1,33.6 L1520.2,33.7 L1523.3,33.8 L1526.5,33.9 L1529.6,34.0 L1532.7,34.1 L1535.9,34.2 L1539.0,34.3 L1542.2,34.4 L1545.3,34.5 L1548.5,34.6 L1551.7,34.7 L1554.9,34.8 L1558.1,35.0 L1561.3,35.1 L1564.5,35.2 L1567.8,35.4 L1571.0,35.5 L1573.8,35.6 L1576.6,35.7 L1579.4,35.9 L1582.2,36.0 L1585.0,36.1 L1587.9,36.3 L1590.7,36.4 L1593.6,36.5 L1596.4,36.7 L1599.2,36.8 L1602.1,37.0 L1605.0,37.1 L1607.8,37.3 L1610.7,37.4 L1613.6,37.6 L1616.5,37.7 L1619.4,37.9 L1622.3,38.0 L1625.2,38.2 L1628.1,38.3 L1631.0,38.5 L1633.9,38.7 L1636.8,38.8 L1639.7,39.0 L1642.7,39.2 L1645.6,39.3 L1648.5,39.5 L1651.5,39.7 L1654.4,39.9 L1657.4,40.0 L1660.3,40.2 L1663.3,40.4 L1666.3,40.6 L1669.2,40.8 L1672.2,41.0 L1675.2,41.1 L1678.2,41.3 L1681.1,41.5 L1684.1,41.7 L1687.1,41.9 L1690.1,42.1 L1693.1,42.3 L1696.1,42.5 L1699.1,42.7 L1702.1,42.9 L1705.1,43.1 L1708.1,43.3 L1711.2,43.5 L1714.2,43.7 L1717.2,43.9 L1720.2,44.1 L1723.3,44.3 L1726.3,44.6 L1729.3,44.8 L1732.4,45.0 L1735.4,45.2 L1738.4,45.4 L1741.5,45.6 L1744.5,45.9 L1747.6,46.1 L1750.6,46.3 L1753.7,46.5 L1756.7,46.7 L1759.8,47.0 L1762.8,47.2 L1765.9,47.4 L1769.0,47.6 L1772.0,47.9 L1775.1,48.1 L1778.1,48.3 L1781.2,48.6 L1784.3,48.8 L1787.3,49.0 L1790.4,49.3 L1793.5,49.5 L1796.6,49.7 L1799.6,50.0 L1802.7,50.2 L1805.8,50.5 L1808.8,50.7 L1811.9,50.9 L1815.0,51.2 L1818.1,51.4 L1821.1,51.7 L1824.2,51.9 L1827.3,52.1 L1830.4,52.4 L1833.5,52.6 L1836.5,52.9 L1839.6,53.1 L1842.7,53.4 L1845.8,53.6 L1848.8,53.9 L1851.9,54.1 L1855.0,54.4 L1858.1,54.6 L1861.1,54.9 L1864.2,55.1 L1867.3,55.4 L1870.4,55.6 L1873.4,55.9 L1876.5,56.2 L1879.6,56.4 L1882.6,56.7 L1885.7,56.9 L1888.8,57.2 L1891.8,57.4 L1894.9,57.7 L1898.0,57.9 L1901.0,58.2 L1904.1,58.5 L1907.1,58.7 L1910.2,59.0 L1913.2,59.2 L1916.3,59.5 L1919.3,59.8 L1922.2,60.0 L1925.2,60.3 L1928.1,60.5 L1931.1,60.8 L1934.0,61.0 L1937.0,61.3 L1940.0,61.6 L1942.9,61.8 L1945.9,62.1 L1948.9,62.4 L1951.8,62.6 L1954.8,62.9 L1957.8,63.2 L1960.8,63.4 L1963.7,63.7 L1966.7,64.0 L1969.7,64.3 L1972.7,64.6 L1975.7,64.8 L1978.6,65.1 L1981.6,65.4 L1984.6,65.7 L1987.6,66.0 L1990.6,66.3 L1993.6,66.5 L1996.5,66.8 L1999.5,67.1 L2002.5,67.4 L2005.5,67.7 L2008.5,68.0 L2011.5,68.3 L2014.5,68.6 L2017.5,68.9 L2020.5,69.2 L2023.5,69.5 L2026.5,69.8 L2029.5,70.1 L2032.5,70.4 L2035.5,70.7 L2038.5,71.0 L2041.5,71.3 L2044.5,71.6 L2047.5,71.9 L2050.5,72.2 L2053.5,72.5 L2056.5,72.8 L2059.5,73.1 L2062.5,73.4 L2065.5,73.7 L2068.5,74.0 L2071.5,74.3 L2074.6,74.7 L2077.6,75.0 L2080.6,75.3 L2083.6,75.6 L2086.6,75.9 L2089.6,76.2 L2092.6,76.5 L2095.6,76.8 L2098.7,77.2 L2101.7,77.5 L2104.7,77.8 L2107.7,78.1 L2110.7,78.4 L2113.7,78.7 L2116.7,79.1 L2119.8,79.4 L2122.8,79.7 L2125.8,80.0 L2128.8,80.3 L2131.8,80.6 L2134.8,81.0 L2137.9,81.3 L2140.9,81.6 L2143.9,81.9 L2146.9,82.2 L2149.9,82.6 L2152.9,82.9 L2156.0,83.2 L2159.0,83.5 L2162.0,83.8 L2165.0,84.2 L2168.0,84.5 L2171.0,84.8 L2174.1,85.1 L2177.1,85.4 L2180.1,85.8 L2183.1,86.1 L2186.1,86.4 L2189.2,86.7 L2192.2,87.0 L2195.2,87.3 L2198.2,87.7 L2201.2,88.0 L2204.2,88.3 L2207.2,88.6 L2210.3,88.9 L2213.3,89.2 L2216.3,89.6 L2219.3,89.9 L2222.3,90.2 L2225.3,90.5 L2228.3,90.8 L2231.4,91.1 L2234.4,91.5 L2237.4,91.8 L2240.4,92.1 L2243.4,92.4 L2246.4,92.7 L2249.4,93.0 L2252.4,93.3 L2255.4,93.6 L2258.5,93.9 L2261.5,94.3 L2264.5,94.6 L2267.5,94.9 L2270.5,95.2 L2272.6,95.4"/>
<path d="M1310.1,27.7 L1313.1,27.9 L1316.1,28.0 L1319.1,28.2 L1322.1,28.3 L1325.1,28.5 L1328.1,28.6 L1331.1,28.7 L1334.1,28.9 L1337.1,29.0 L1340.1,29.1 L1343.0,29.3 L1346.0,29.4 L1349.0,29.5 L1352.0,29.7 L1355.0,29.8 L1358.0,29.9 L1361.0,30.0 L1364.0,30.1 L1367.0,30.3 L1369.9,30.4 L1372.9,30.5 L1375.9,30.6 L1378.9,30.7 L1381.9,30.9 L1384.9,31.0 L1387.9,31.1 L1390.9,31.2 L1393.8,31.3 L1396.8,31.4 L1399.8,31.5 L1402.8,31.7 L1405.8,31.8 L1408.8,31.9 L1411.8,32.0 L1414.8,32.1 L1417.7,32.2 L1420.7,32.3 L1423.7,32.5 L1426.7,32.6 L1429.7,32.7 L1432.7,32.8 L1435.7,32.9 L1438.7,33.1 L1441.7,33.2 L1444.6,33.3 L1447.6,33.4 L1450.6,33.6 L1453.6,33.7 L1456.6,33.8 L1459.6,34.0 L1462.6,34.1 L1465.6,34.3 L1468.6,34.4 L1471.6,34.5 L1474.6,34.7 L1477.6,34.8 L1480.6,35.0 L1483.6,35.1 L1486.6,35.3 L1489.6,35.5 L1492.6,35.6 L1495.6,35.8 L1498.6,36.0 L1501.6,36.2 L1504.6,36.3 L1507.6,36.5 L1510.6,36.7 L1513.6,36.9 L1516.6,37.1 L1519.6,37.3 L1522.6,37.5 L1525.6,37.7 L1528.7,37.9 L1531.7,38.1 L1534.7,38.3 L1537.7,38.6 L1540.7,38.8 L1543.7,39.0 L1546.8,39.3 L1549.8,39.5 L1552.8,39.8 L1555.8,40.0 L1558.9,40.3 L1561.9,40.6 L1564.9,40.8 L1568.0,41.1 L1571.0,41.4 L1574.0,41.7 L1577.0,42.0 L1580.0,42.3 L1583.0,42.6 L1586.1,42.9 L1589.1,43.2 L1592.2,43.5 L1595.3,43.8 L1598.4,44.2 L1601.5,44.5 L1604.7,44.8 L1607.8,45.2 L1611.0,45.5 L1614.2,45.9 L1617.4,46.2 L1620.6,46.6 L1623.8,47.0 L1627.0,47.3 L1630.2,47.7 L1633.5,48.1 L1636.7,48.5 L1640.0,48.8 L1643.2,49.2 L1646.5,49.6 L1649.7,50.0 L1653.0,50.4 L1656.3,50.8 L1659.6,51.2 L1662.8,51.6 L1666.1,52.1 L1669.4,52.5 L1672.7,52.9 L1676.0,53.3 L1679.3,53.7 L1682.5,54.2 L1685.8,54.6 L1689.1,55.0 L1692.4,55.5 L1695.7,55.9 L1698.9,56.3 L1702.2,56.8 L1705.4,57.2 L1708.7,57.7 L1711.9,58.1 L1715.2,58.5 L1718.4,59.0 L1721.6,59.4 L1724.8,59.9 L1728.0,60.3 L1731.2,60.8 L1734.4,61.3 L1737.5,61.7 L1740.7,62.2 L1743.8,62.6 L1747.0,63.1 L1750.1,63.5 L1753.2,64.0 L1756.2,64.4 L1759.3,64.9 L1762.3,65.4 L1765.4,65.8 L1768.4,66.3 L1771.4,66.7 L1774.3,67.2 L1777.3,67.6 L1780.2,68.1 L1783.1,68.5 L1786.0,69.0 L1788.9,69.5 L1791.7,69.9 L1794.5,70.4 L1797.3,70.8 L1800.1,71.3 L1802.8,71.7 L1805.5,72.1 L1808.2,72.6 L1810.9,73.0 L1813.5,73.5 L1816.1,73.9 L1818.7,74.4 L1821.2,74.8 L1823.7,75.2 L1826.2,75.6 L1828.7,76.1 L1831.1,76.5 L1833.5,76.9 L1835.8,77.3 L1838.1,77.8 L1840.4,78.2 L1842.6,78.6 L1844.8,79.0 L1847.0,79.4 L1850.8,80.1 L1854.5,80.9 L1858.0,81.6 L1861.5,82.4 L1864.9,83.2 L1868.2,84.0 L1871.4,84.8 L1874.5,85.6 L1877.5,86.4 L1880.5,87.2 L1883.5,88.0 L1886.4,88.8 L1889.2,89.6 L1892.0,90.4 L1894.8,91.1 L1897.5,91.9 L1900.2,92.7 L1902.9,93.4 L1905.6,94.1 L1908.3,94.8 L1911.0,95.5 L1913.7,96.2 L1916.5,96.8 L1919.2,97.5 L1922.0,98.0 L1924.8,98.6 L1927.7,99.1 L1930.6,99.6 L1933.6,100.1 L1936.7,100.5 L1939.8,100.9 L1942.9,101.3 L1946.0,101.6 L1949.2,101.9 L1952.3,102.2 L1955.5,102.4 L1958.6,102.6 L1961.8,102.8 L1965.0,102.9 L1968.2,103.1 L1971.3,103.2 L1974.5,103.3 L1977.7,103.5 L1980.8,103.6 L1984.0,103.6 L1987.1,103.7 L1990.2,103.8 L1993.3,103.9 L1996.4,104.0 L1999.4,104.1 L2002.4,104.3 L2005.4,104.4 L2008.4,104.5 L2011.3,104.7 L2014.2,104.9 L2017.1,105.1 L2019.9,105.3 L2023.2,105.6 L2026.5,105.8 L2029.7,106.0 L2033.0,106.2 L2036.2,106.4 L2039.4,106.6 L2042.6,106.8 L2045.8,106.9 L2048.9,107.1 L2052.0,107.4 L2055.0,107.6 L2058.0,107.9 L2061.0,108.2 L2063.9,108.6 L2066.7,109.0 L2069.5,109.4 L2072.2,110.0 L2074.9,110.6 L2077.5,111.2 L2080.0,112.0 L2083.2,113.1 L2086.2,114.2 L2089.2,115.4 L2092.1,116.7 L2094.9,118.1 L2097.7,119.5 L2100.3,121.0 L2102.8,122.6 L2105.3,124.3 L2107.6,126.1 L2109.9,128.0 L2112.0,130.0 L2114.2,132.2 L2116.3,134.6 L2118.2,137.1 L2120.1,139.7 L2121.9,142.4 L2123.5,145.2 L2125.1,148.1 L2126.5,151.0 L2127.8,153.9 L2129.0,157.0 L2130.0,160.0 L2130.8,162.7 L2131.4,165.4 L2131.9,168.0 L2132.3,170.6 L2132.5,173.3 L2132.7,176.0 L2132.8,178.8 L2132.9,181.8 L2132.9,184.9 L2132.9,188.3 L2133.0,191.9 L2133.1,195.8 L2133.2,200.0 L2133.3,201.8 L2133.3,203.7 L2133.4,205.6 L2133.5,207.7 L2133.5,209.8 L2133.6,212.0 L2133.6,214.3 L2133.7,216.7 L2133.7,219.1 L2133.7,221.6 L2133.8,224.2 L2133.8,226.8 L2133.9,229.6 L2133.9,232.3 L2133.9,235.2 L2133.9,238.1 L2134.0,241.0 L2134.0,244.0 L2134.0,247.1 L2134.0,250.2 L2134.0,253.3 L2134.0,256.5 L2134.1,259.8 L2134.1,263.1 L2134.1,266.4 L2134.1,269.7 L2134.1,273.1 L2134.1,276.5 L2134.1,280.0 L2134.1,283.4 L2134.1,286.9 L2134.1,290.4 L2134.1,294.0 L2134.1,297.5 L2134.1,301.1 L2134.1,304.7 L2134.0,308.3 L2134.0,311.9 L2134.0,315.5 L2134.0,319.1 L2134.0,322.7 L2134.0,326.3 L2134.0,329.9 L2133.9,333.5 L2133.9,337.1 L2133.9,340.6 L2133.9,344.2 L2133.9,347.8 L2133.9,351.3 L2133.8,354.8 L2133.8,358.3 L2133.8,361.8 L2133.8,365.2 L2133.8,368.6 L2133.7,372.0 L2133.7,375.4 L2133.7,378.7 L2133.7,382.0 L2133.7,385.2 L2133.7,388.4 L2133.6,391.6 L2133.6,394.7 L2133.6,397.7 L2133.6,400.7 L2133.6,403.7 L2133.6,406.6 L2133.6,409.4 L2133.5,412.2 L2133.5,414.9 L2133.5,417.6 L2133.5,420.1 L2133.5,422.7 L2133.5,425.1 L2133.5,427.5 L2133.5,429.8 L2133.5,432.0 L2133.5,434.1 L2133.5,436.2 L2133.5,438.1 L2133.5,440.0 L2133.5,444.2 L2133.6,448.1 L2133.7,451.7 L2133.9,455.2 L2134.1,458.4 L2134.2,461.5 L2134.4,464.5 L2134.5,467.3 L2134.6,470.1 L2134.6,472.8 L2134.6,475.5 L2134.5,478.2 L2134.3,480.9 L2134.1,483.6 L2133.7,486.4 L2133.2,489.5 L2132.7,492.6 L2132.1,495.7 L2131.5,498.7 L2130.8,501.6 L2130.0,504.6 L2129.1,507.4 L2128.1,510.3 L2127.0,513.1 L2125.8,515.8 L2124.4,518.5 L2122.9,521.2 L2121.3,523.7 L2119.7,526.1 L2117.8,528.4 L2115.9,530.7 L2113.9,533.0 L2111.8,535.2 L2109.6,537.4 L2107.3,539.6 L2104.9,541.8 L2102.4,543.9 L2099.9,546.0 L2097.3,548.0 L2094.6,550.1 L2091.9,552.1 L2089.6,553.8 L2087.3,555.4 L2084.9,557.0 L2082.5,558.7 L2080.0,560.3 L2077.5,561.9 L2074.9,563.5 L2072.3,565.1 L2069.6,566.6 L2066.9,568.2 L2064.1,569.7 L2061.3,571.2 L2058.4,572.6 L2055.5,574.1 L2052.6,575.5 L2049.6,576.8 L2046.5,578.1 L2043.5,579.4 L2040.3,580.7 L2037.2,581.9 L2034.0,583.0 L2031.4,583.9 L2028.7,584.7 L2026.0,585.6 L2023.2,586.4 L2020.4,587.1 L2017.5,587.9 L2014.6,588.6 L2011.6,589.3 L2008.6,589.9 L2005.5,590.6 L2002.5,591.2 L1999.4,591.8 L1996.2,592.3 L1993.1,592.9 L1990.0,593.4 L1986.8,594.0 L1983.6,594.5 L1980.4,595.0 L1977.2,595.4 L1974.1,595.9 L1970.9,596.4 L1967.7,596.8 L1964.6,597.3 L1961.4,597.7 L1958.3,598.1 L1955.2,598.5 L1952.1,598.9 L1949.1,599.4 L1946.1,599.8 L1943.1,600.2 L1940.2,600.6 L1937.3,601.0 L1934.1,601.5 L1930.9,601.9 L1927.7,602.3 L1924.6,602.7 L1921.5,603.1 L1918.5,603.4 L1915.5,603.8 L1912.4,604.1 L1909.4,604.4 L1906.5,604.7 L1903.5,605.0 L1900.5,605.3 L1897.5,605.6 L1894.5,605.9 L1891.5,606.2 L1888.5,606.4 L1885.5,606.7 L1882.4,607.0 L1879.3,607.2 L1876.2,607.5 L1873.1,607.8 L1869.9,608.1 L1866.6,608.4 L1863.3,608.7 L1860.0,609.0 L1857.3,609.3 L1854.5,609.5 L1851.7,609.8 L1848.8,610.1 L1846.0,610.3 L1843.1,610.6 L1840.1,610.9 L1837.2,611.1 L1834.2,611.4 L1831.2,611.7 L1828.2,611.9 L1825.2,612.2 L1822.1,612.5 L1819.1,612.7 L1816.0,613.0 L1812.9,613.3 L1809.9,613.5 L1806.8,613.8 L1803.7,614.1 L1800.6,614.4 L1797.5,614.6 L1794.4,614.9 L1791.3,615.2 L1788.2,615.4 L1785.1,615.7 L1782.1,615.9 L1779.0,616.2 L1775.9,616.5 L1772.9,616.7 L1769.9,617.0 L1766.9,617.2 L1763.9,617.5 L1761.0,617.7 L1758.0,618.0 L1755.1,618.2 L1752.2,618.5 L1749.4,618.7 L1746.3,619.0 L1743.1,619.2 L1740.0,619.5 L1736.9,619.8 L1733.9,620.0 L1730.8,620.3 L1727.7,620.6 L1724.7,620.9 L1721.7,621.1 L1718.6,621.4 L1715.6,621.7 L1712.6,621.9 L1709.6,622.2 L1706.7,622.5 L1703.7,622.7 L1700.7,623.0 L1697.8,623.2 L1694.8,623.5 L1691.9,623.7 L1688.9,623.9 L1686.0,624.2 L1683.0,624.4 L1680.1,624.6 L1677.2,624.8 L1674.2,625.0 L1671.3,625.2 L1668.4,625.4 L1665.5,625.6 L1662.5,625.7 L1659.6,625.9 L1656.5,626.1 L1653.4,626.2 L1650.3,626.3 L1647.2,626.5 L1644.1,626.6 L1641.0,626.7 L1637.9,626.8 L1634.9,626.9 L1631.8,626.9 L1628.8,627.0 L1625.7,627.1 L1622.7,627.2 L1619.6,627.2 L1616.6,627.3 L1613.5,627.3 L1610.5,627.4 L1607.4,627.4 L1604.4,627.5 L1601.4,627.5 L1598.3,627.6 L1595.3,627.6 L1592.2,627.7 L1590.0,627.7"/>
<path d="M426.2,116.9 L429.2,117.2 L432.2,117.6 L435.2,117.9 L438.3,118.2 L441.3,118.6 L444.3,118.9 L447.4,119.2 L450.4,119.6 L453.5,119.9 L456.5,120.2 L459.6,120.6 L462.6,120.9 L465.7,121.2 L468.8,121.6 L471.8,121.9 L474.9,122.3 L478.0,122.6 L481.0,122.9 L484.1,123.3 L487.2,123.6 L490.3,124.0 L493.3,124.3 L496.4,124.6 L499.5,125.0 L502.6,125.3 L505.7,125.7 L508.8,126.0 L511.8,126.3 L514.9,126.7 L518.0,127.0 L521.1,127.4 L524.2,127.7 L527.3,128.1 L530.4,128.4 L533.5,128.7 L536.5,129.1 L539.6,129.4 L542.7,129.8 L545.8,130.1 L548.9,130.5 L551.9,130.8 L555.0,131.1 L558.1,131.5 L561.2,131.8 L564.2,132.2 L567.3,132.5 L570.4,132.8 L573.4,133.2 L576.5,133.5 L579.5,133.8 L582.6,134.2 L585.6,134.5 L588.7,134.9 L591.7,135.2 L594.8,135.5 L597.8,135.9 L600.8,136.2 L603.9,136.5 L606.9,136.8 L609.9,137.2 L612.9,137.5 L615.9,137.8 L618.9,138.2 L621.9,138.5 L624.9,138.8 L627.9,139.1 L630.8,139.5 L633.8,139.8 L636.8,140.1 L639.7,140.4 L642.7,140.7 L645.6,141.1 L648.6,141.4 L651.5,141.7 L654.4,142.0 L657.3,142.3 L660.2,142.6 L663.1,142.9 L666.0,143.2 L668.9,143.5 L671.8,143.8 L674.6,144.1 L677.5,144.5 L680.3,144.7 L683.2,145.0 L686.0,145.3 L688.8,145.6 L691.6,145.9 L694.4,146.2 L697.2,146.5 L700.0,146.8 L703.3,147.1 L706.5,147.5 L709.8,147.8 L713.1,148.1 L716.3,148.5 L719.6,148.8 L722.9,149.1 L726.1,149.5 L729.4,149.8 L732.6,150.1 L735.9,150.4 L739.1,150.7 L742.4,151.1 L745.6,151.4 L748.8,151.7 L752.1,152.0 L755.3,152.3 L758.5,152.6 L761.7,152.9 L764.9,153.2 L768.1,153.6 L771.3,153.9 L774.5,154.2 L777.7,154.5 L780.9,154.8 L784.0,155.1 L787.2,155.4 L790.3,155.7 L793.5,156.0 L796.6,156.3 L799.7,156.6 L802.8,156.9 L805.9,157.2 L809.0,157.4 L812.1,157.7 L815.1,158.0 L818.2,158.3 L821.2,158.6 L824.3,158.9 L827.3,159.2 L830.3,159.5 L833.3,159.7 L836.2,160.0 L839.2,160.3 L842.1,160.6 L845.1,160.9 L848.0,161.1 L850.9,161.4 L853.8,161.7 L856.6,162.0 L859.5,162.3 L862.3,162.5 L865.1,162.8 L867.9,163.1 L870.7,163.4 L873.5,163.6 L876.2,163.9 L878.9,164.2 L881.6,164.4 L884.3,164.7 L887.0,165.0 L889.6,165.2 L892.3,165.5 L894.9,165.8 L897.4,166.0 L900.0,166.3 L903.5,166.7 L906.9,167.0 L910.2,167.4 L913.6,167.7 L916.8,168.1 L920.1,168.4 L923.2,168.8 L926.4,169.1 L929.5,169.4 L932.6,169.8 L935.6,170.1 L938.7,170.4 L941.6,170.8 L944.6,171.1 L947.6,171.4 L950.5,171.7 L953.4,172.1 L956.3,172.4 L959.2,172.7 L962.0,173.0 L964.9,173.4 L967.8,173.7 L970.6,174.0 L973.5,174.3 L976.3,174.6 L979.2,175.0 L982.1,175.3 L984.9,175.6 L987.8,175.9 L990.7,176.3 L992.6,176.5"/>
<path d="M345.3,120.8 L222.8,165.2"/>
<path d="M360.8,120.8 L358.3,122.5 L355.7,124.2 L353.2,125.9 L350.6,127.7 L348.1,129.4 L345.5,131.2 L342.9,132.9 L340.3,134.7 L337.8,136.4 L335.2,138.2 L332.6,140.0 L330.0,141.8 L327.4,143.6 L324.8,145.4 L322.3,147.2 L319.7,149.0 L317.1,150.7 L314.5,152.5 L311.9,154.3 L309.3,156.1 L306.7,157.9 L304.1,159.7 L301.6,161.4 L299.0,163.2 L296.4,165.0 L293.9,166.7 L291.3,168.5 L288.7,170.2 L286.2,171.9 L283.6,173.6 L281.1,175.3 L278.6,177.0 L276.0,178.7 L273.5,180.4 L271.0,182.0 L268.5,183.7 L266.0,185.3 L263.5,186.9 L261.1,188.4 L258.6,190.0 L256.1,191.5 L253.7,193.1 L251.3,194.6 L248.9,196.0 L246.5,197.5 L244.1,198.9 L241.7,200.3 L238.8,202.0 L236.0,203.6 L233.2,205.2 L230.4,206.7 L227.6,208.2 L224.9,209.7 L222.1,211.2 L219.4,212.7 L216.7,214.1 L214.0,215.5 L211.3,216.9 L208.6,218.2 L205.9,219.6 L203.2,220.9 L200.6,222.2 L197.9,223.5 L195.2,224.8 L192.6,226.1 L189.9,227.4 L187.3,228.6 L184.7,229.9 L182.0,231.2 L179.4,232.5 L176.7,233.8 L174.1,235.0 L171.4,236.3 L168.8,237.6 L167.0,238.5"/>
<path d="M373.6,120.8 L364.1,157.0"/>
<path d="M390.2,120.8 L392.3,123.1 L394.4,125.4 L396.7,127.6 L398.9,129.9 L401.2,132.1 L403.4,134.4 L405.6,136.7 L407.6,139.0 L409.6,141.3 L411.4,143.7 L413.0,146.1 L414.4,148.5 L415.9,151.4 L417.2,154.4 L418.4,157.4 L419.4,160.5 L420.2,163.6 L420.9,166.7 L421.3,169.8 L421.4,172.9 L421.3,176.0 L421.0,178.8 L420.4,181.8 L419.7,184.8 L418.8,187.8 L417.7,190.8 L416.5,193.8 L415.0,196.7 L413.4,199.6 L411.6,202.3 L409.6,204.8 L407.5,207.2 L405.5,209.0 L403.4,210.7 L401.0,212.3 L398.5,213.8 L395.9,215.2 L393.1,216.5 L390.2,217.8 L387.2,219.0 L384.2,220.2 L381.1,221.3 L377.9,222.4 L374.8,223.5 L371.7,224.6 L368.6,225.7 L365.6,226.8 L362.6,227.9 L359.8,229.0 L356.9,230.1 L354.0,231.1 L351.1,232.1 L348.1,233.1 L345.2,234.1 L342.2,235.0 L339.3,236.0 L336.3,236.9 L333.3,237.8 L330.3,238.7 L327.4,239.6 L324.9,240.4"/>
<path d="M609.9,120.8 L612.9,121.2 L615.8,121.6 L618.8,122.1 L621.6,122.5 L624.5,122.9 L627.4,123.3 L630.2,123.7 L633.0,124.1 L635.8,124.5 L638.6,124.9 L641.4,125.3 L644.2,125.7 L647.1,126.1 L649.9,126.5 L652.7,126.9 L655.6,127.4 L658.5,127.8 L661.4,128.2 L664.4,128.6 L667.3,129.0 L670.4,129.5 L673.4,129.9 L676.5,130.4 L679.7,130.8 L682.9,131.3 L686.2,131.7 L689.6,132.2 L693.0,132.7 L696.4,133.2 L700.0,133.7 L702.4,134.0 L704.9,134.4 L707.4,134.8 L710.0,135.1 L712.6,135.5 L715.2,135.9 L717.9,136.3 L720.6,136.6 L723.4,137.0 L726.2,137.4 L729.0,137.8 L731.9,138.2 L734.8,138.7 L737.7,139.1 L740.7,139.5 L743.7,139.9 L746.7,140.4 L749.7,140.8 L752.8,141.2 L755.9,141.7 L759.0,142.1 L762.1,142.6 L765.3,143.0 L768.4,143.5 L771.6,143.9 L774.8,144.4 L778.0,144.8 L781.2,145.3 L784.4,145.7 L787.7,146.2 L790.9,146.7 L794.2,147.1 L797.4,147.6 L800.7,148.1 L803.9,148.5 L807.2,149.0 L810.4,149.4 L813.7,149.9 L816.9,150.4 L820.1,150.8 L823.4,151.3 L826.6,151.7 L829.8,152.2 L833.0,152.6 L836.2,153.1 L839.3,153.5 L842.5,154.0 L845.6,154.4 L848.7,154.8 L851.8,155.3 L854.9,155.7 L858.0,156.1 L861.0,156.5 L864.0,157.0 L867.0,157.4 L869.9,157.8 L872.8,158.2 L875.7,158.6 L878.6,159.0 L881.4,159.4 L884.2,159.7 L886.9,160.1 L889.6,160.5 L892.3,160.9 L894.9,161.2 L897.5,161.6 L900.0,161.9 L903.5,162.4 L906.9,162.8 L910.2,163.3 L913.6,163.7 L916.8,164.1 L920.0,164.6 L923.2,165.0 L926.4,165.4 L929.5,165.8 L932.6,166.2 L935.6,166.6 L938.6,167.0 L941.6,167.3 L944.6,167.7 L947.5,168.1 L950.5,168.5 L953.4,168.8 L956.3,169.2 L959.2,169.6 L962.0,169.9 L964.9,170.3 L967.8,170.6 L970.6,171.0 L973.5,171.4 L976.3,171.7 L979.2,172.1 L982.1,172.4 L984.9,172.8 L987.8,173.2 L990.7,173.5 L992.6,173.8"/>
<path d="M725.1,120.8 L728.1,121.3 L731.1,121.9 L734.1,122.4 L737.1,122.9 L740.1,123.5 L743.0,124.0 L746.0,124.5 L749.0,125.1 L752.0,125.6 L755.0,126.1 L758.0,126.6 L760.9,127.2 L763.9,127.7 L766.9,128.2 L769.9,128.8 L772.9,129.3 L775.8,129.8 L778.8,130.3 L781.8,130.9 L784.8,131.4 L787.8,131.9 L790.8,132.4 L793.7,133.0 L796.7,133.5 L799.7,134.0 L802.7,134.6 L805.7,135.1 L808.7,135.6 L811.7,136.2 L814.7,136.7 L817.7,137.2 L820.7,137.8 L823.7,138.3 L826.7,138.9 L829.7,139.4 L832.7,140.0 L835.7,140.5 L838.7,141.1 L841.8,141.6 L844.8,142.2 L847.8,142.7 L850.9,143.3 L853.9,143.9 L857.0,144.4 L860.0,145.0 L862.9,145.5 L865.8,146.1 L868.8,146.7 L871.7,147.2 L874.6,147.8 L877.6,148.3 L880.5,148.9 L883.5,149.5 L886.4,150.0 L889.4,150.6 L892.3,151.2 L895.3,151.7 L898.2,152.3 L901.2,152.9 L904.2,153.5 L907.1,154.1 L910.1,154.6 L913.1,155.2 L916.0,155.8 L919.0,156.4 L922.0,157.0 L925.0,157.6 L927.9,158.2 L930.9,158.7 L933.9,159.3 L936.9,159.9 L939.9,160.5 L942.9,161.1 L945.9,161.7 L948.8,162.3 L951.8,162.9 L954.8,163.5 L957.8,164.1 L960.8,164.7 L963.8,165.3 L966.8,165.9 L969.7,166.4 L972.7,167.0 L975.7,167.6 L978.7,168.2 L981.7,168.8 L984.7,169.4 L987.6,170.0 L990.6,170.6 L992.7,171.0"/>
<path d="M837.0,120.8 L1003.5,166.2"/>
<path d="M931.6,120.8 L1022.2,164.0"/>
<path d="M1057.0,120.8 L1057.0,156.6"/>
<path d="M1179.8,120.8 L1092.7,164.2"/>
<path d="M1293.7,120.8 L1114.9,166.8"/>
<path d="M1427.4,120.8 L1121.6,170.9"/>
<path d="M1545.1,120.0 L1542.1,120.4 L1539.1,120.9 L1536.1,121.3 L1533.1,121.7 L1530.1,122.2 L1527.1,122.6 L1524.1,123.1 L1521.1,123.5 L1518.0,124.0 L1515.0,124.4 L1512.0,124.9 L1509.0,125.3 L1505.9,125.8 L1502.9,126.2 L1499.9,126.7 L1496.8,127.1 L1493.8,127.6 L1490.7,128.0 L1487.7,128.5 L1484.6,129.0 L1481.6,129.4 L1478.6,129.9 L1475.5,130.3 L1472.5,130.8 L1469.4,131.3 L1466.4,131.7 L1463.3,132.2 L1460.3,132.6 L1457.2,133.1 L1454.2,133.6 L1451.1,134.0 L1448.1,134.5 L1445.0,134.9 L1442.0,135.4 L1438.9,135.9 L1435.9,136.3 L1432.8,136.8 L1429.8,137.2 L1426.8,137.7 L1423.7,138.1 L1420.7,138.6 L1417.7,139.1 L1414.6,139.5 L1411.6,140.0 L1408.6,140.4 L1405.5,140.9 L1402.5,141.3 L1399.5,141.7 L1396.5,142.2 L1393.5,142.6 L1390.5,143.1 L1387.5,143.5 L1384.5,144.0 L1381.5,144.4 L1378.5,144.8 L1375.5,145.3 L1372.5,145.7 L1369.6,146.1 L1366.6,146.5 L1363.6,147.0 L1360.7,147.4 L1357.7,147.8 L1354.7,148.2 L1351.8,148.6 L1348.9,149.0 L1345.9,149.4 L1343.0,149.8 L1340.1,150.2 L1337.2,150.6 L1334.3,151.0 L1331.4,151.4 L1328.5,151.8 L1325.6,152.2 L1322.7,152.6 L1319.9,153.0 L1317.0,153.3 L1314.1,153.7 L1311.3,154.1 L1308.5,154.4 L1305.6,154.8 L1302.8,155.1 L1300.0,155.5 L1296.8,155.9 L1293.7,156.3 L1290.5,156.7 L1287.4,157.0 L1284.3,157.4 L1281.2,157.8 L1278.1,158.1 L1275.0,158.5 L1271.9,158.9 L1268.8,159.2 L1265.8,159.6 L1262.7,159.9 L1259.7,160.2 L1256.6,160.6 L1253.6,160.9 L1250.6,161.2 L1247.6,161.6 L1244.5,161.9 L1241.5,162.2 L1238.5,162.5 L1235.5,162.8 L1232.6,163.2 L1229.6,163.5 L1226.6,163.8 L1223.6,164.1 L1220.7,164.4 L1217.7,164.7 L1214.7,165.0 L1211.8,165.3 L1208.8,165.6 L1205.9,165.9 L1203.0,166.2 L1200.0,166.5 L1197.1,166.7 L1194.1,167.0 L1191.2,167.3 L1188.3,167.6 L1185.3,167.9 L1182.4,168.2 L1179.5,168.5 L1176.6,168.7 L1173.6,169.0 L1170.7,169.3 L1167.8,169.6 L1164.8,169.9 L1161.9,170.2 L1159.0,170.5 L1156.1,170.7 L1153.1,171.0 L1150.2,171.3 L1147.3,171.6 L1144.3,171.9 L1141.4,172.2 L1138.4,172.5 L1135.5,172.8 L1132.5,173.1 L1129.6,173.4 L1126.6,173.7 L1123.7,174.0 L1121.7,174.2"/>
<path d="M1658.0,119.0 L1655.0,119.4 L1652.1,119.8 L1649.2,120.2 L1646.4,120.6 L1643.6,120.9 L1640.8,121.3 L1638.1,121.7 L1635.3,122.1 L1632.6,122.4 L1629.9,122.8 L1627.2,123.2 L1624.4,123.6 L1621.7,123.9 L1618.9,124.3 L1616.1,124.7 L1613.3,125.1 L1610.4,125.5 L1607.5,125.9 L1604.6,126.3 L1601.6,126.7 L1598.5,127.1 L1595.4,127.5 L1592.1,127.9 L1588.9,128.3 L1585.5,128.7 L1582.0,129.2 L1578.4,129.6 L1574.8,130.0 L1571.0,130.5 L1568.8,130.8 L1566.6,131.0 L1564.3,131.3 L1562.0,131.6 L1559.6,131.9 L1557.2,132.1 L1554.8,132.4 L1552.3,132.7 L1549.8,133.0 L1547.2,133.3 L1544.6,133.6 L1542.0,133.9 L1539.4,134.2 L1536.7,134.5 L1534.0,134.8 L1531.2,135.2 L1528.5,135.5 L1525.7,135.8 L1522.8,136.1 L1520.0,136.4 L1517.1,136.8 L1514.2,137.1 L1511.2,137.4 L1508.3,137.8 L1505.3,138.1 L1502.3,138.4 L1499.3,138.8 L1496.2,139.1 L1493.1,139.5 L1490.0,139.8 L1486.9,140.2 L1483.8,140.5 L1480.7,140.9 L1477.5,141.2 L1474.3,141.6 L1471.2,141.9 L1468.0,142.3 L1464.7,142.6 L1461.5,143.0 L1458.3,143.3 L1455.0,143.7 L1451.8,144.0 L1448.5,144.4 L1445.2,144.7 L1441.9,145.1 L1438.7,145.5 L1435.4,145.8 L1432.1,146.2 L1428.8,146.5 L1425.5,146.9 L1422.2,147.2 L1418.8,147.6 L1415.5,148.0 L1412.2,148.3 L1408.9,148.7 L1405.6,149.0 L1402.3,149.4 L1399.0,149.7 L1395.7,150.1 L1392.4,150.4 L1389.1,150.8 L1385.9,151.1 L1382.6,151.5 L1379.3,151.8 L1376.1,152.2 L1372.8,152.5 L1369.6,152.8 L1366.4,153.2 L1363.1,153.5 L1359.9,153.9 L1356.8,154.2 L1353.6,154.5 L1350.4,154.8 L1347.3,155.2 L1344.2,155.5 L1341.1,155.8 L1338.0,156.1 L1334.9,156.4 L1331.9,156.8 L1328.9,157.1 L1325.9,157.4 L1322.9,157.7 L1319.9,158.0 L1317.0,158.3 L1314.1,158.6 L1311.2,158.9 L1308.4,159.2 L1305.6,159.4 L1302.8,159.7 L1300.0,160.0 L1296.7,160.3 L1293.4,160.7 L1290.2,161.0 L1286.9,161.3 L1283.7,161.6 L1280.5,161.9 L1277.3,162.2 L1274.1,162.5 L1271.0,162.8 L1267.8,163.1 L1264.6,163.4 L1261.5,163.7 L1258.4,164.0 L1255.3,164.3 L1252.2,164.6 L1249.1,164.9 L1246.0,165.2 L1243.0,165.5 L1239.9,165.8 L1236.9,166.0 L1233.8,166.3 L1230.8,166.6 L1227.8,166.9 L1224.7,167.2 L1221.7,167.4 L1218.7,167.7 L1215.7,168.0 L1212.8,168.2 L1209.8,168.5 L1206.8,168.8 L1203.8,169.0 L1200.8,169.3 L1197.9,169.6 L1194.9,169.8 L1192.0,170.1 L1189.0,170.3 L1186.1,170.6 L1183.1,170.9 L1180.2,171.1 L1177.2,171.4 L1174.3,171.7 L1171.3,171.9 L1168.4,172.2 L1165.4,172.4 L1162.5,172.7 L1159.5,173.0 L1156.6,173.2 L1153.6,173.5 L1150.7,173.7 L1147.7,174.0 L1144.7,174.3 L1141.8,174.5 L1138.8,174.8 L1135.8,175.1 L1132.8,175.3 L1129.9,175.6 L1126.9,175.9 L1123.9,176.1 L1121.7,176.3"/>
<path d="M1816.6,119.1 L1813.6,119.5 L1810.6,119.8 L1807.6,120.2 L1804.6,120.6 L1801.6,121.0 L1798.7,121.3 L1795.7,121.7 L1792.7,122.1 L1789.7,122.5 L1786.7,122.8 L1783.8,123.2 L1780.8,123.6 L1777.8,124.0 L1774.8,124.4 L1771.8,124.7 L1768.9,125.1 L1765.9,125.5 L1762.9,125.9 L1760.0,126.3 L1757.0,126.7 L1754.0,127.0 L1751.0,127.4 L1748.1,127.8 L1745.1,128.2 L1742.1,128.6 L1739.2,129.0 L1736.2,129.4 L1733.2,129.7 L1730.3,130.1 L1727.3,130.5 L1724.3,130.9 L1721.3,131.3 L1718.4,131.7 L1715.4,132.1 L1712.4,132.4 L1709.5,132.8 L1706.5,133.2 L1703.5,133.6 L1700.5,134.0 L1697.6,134.4 L1694.6,134.7 L1691.6,135.1 L1688.6,135.5 L1685.7,135.9 L1682.7,136.3 L1679.7,136.6 L1676.7,137.0 L1673.7,137.4 L1670.7,137.8 L1667.8,138.1 L1664.8,138.5 L1661.8,138.9 L1658.8,139.3 L1655.8,139.6 L1652.8,140.0 L1649.8,140.4 L1646.8,140.7 L1643.8,141.1 L1640.8,141.5 L1637.8,141.8 L1634.8,142.2 L1631.8,142.5 L1628.8,142.9 L1625.8,143.2 L1622.7,143.6 L1619.7,143.9 L1616.7,144.3 L1613.7,144.6 L1610.6,145.0 L1607.6,145.3 L1604.6,145.6 L1601.5,146.0 L1598.5,146.3 L1595.5,146.6 L1592.4,147.0 L1589.4,147.3 L1586.3,147.6 L1583.3,147.9 L1580.2,148.3 L1577.1,148.6 L1574.1,148.9 L1571.0,149.2 L1568.1,149.5 L1565.1,149.8 L1562.2,150.1 L1559.2,150.4 L1556.2,150.7 L1553.2,150.9 L1550.3,151.2 L1547.3,151.5 L1544.3,151.8 L1541.2,152.1 L1538.2,152.4 L1535.2,152.6 L1532.2,152.9 L1529.1,153.2 L1526.1,153.5 L1523.0,153.8 L1520.0,154.0 L1516.9,154.3 L1513.9,154.6 L1510.8,154.8 L1507.7,155.1 L1504.7,155.4 L1501.6,155.6 L1498.5,155.9 L1495.4,156.2 L1492.3,156.4 L1489.2,156.7 L1486.1,157.0 L1483.1,157.2 L1480.0,157.5 L1476.9,157.7 L1473.8,158.0 L1470.7,158.2 L1467.6,158.5 L1464.5,158.7 L1461.3,159.0 L1458.2,159.2 L1455.1,159.5 L1452.0,159.7 L1448.9,160.0 L1445.8,160.2 L1442.7,160.5 L1439.6,160.7 L1436.5,160.9 L1433.4,161.2 L1430.3,161.4 L1427.2,161.7 L1424.2,161.9 L1421.1,162.1 L1418.0,162.4 L1414.9,162.6 L1411.8,162.8 L1408.8,163.0 L1405.7,163.3 L1402.6,163.5 L1399.6,163.7 L1396.5,163.9 L1393.5,164.2 L1390.4,164.4 L1387.4,164.6 L1384.3,164.8 L1381.3,165.0 L1378.3,165.2 L1375.3,165.5 L1372.3,165.7 L1369.3,165.9 L1366.3,166.1 L1363.3,166.3 L1360.3,166.5 L1357.3,166.7 L1354.4,166.9 L1351.4,167.1 L1348.5,167.3 L1345.5,167.5 L1342.6,167.7 L1339.7,167.9 L1336.8,168.1 L1333.9,168.3 L1331.0,168.5 L1328.1,168.7 L1325.3,168.9 L1322.4,169.0 L1319.6,169.2 L1316.7,169.4 L1313.9,169.6 L1311.1,169.8 L1308.3,170.0 L1305.5,170.1 L1302.8,170.3 L1300.0,170.5 L1296.7,170.7 L1293.4,170.9 L1290.2,171.1 L1286.9,171.3 L1283.7,171.5 L1280.5,171.7 L1277.3,171.9 L1274.1,172.1 L1271.0,172.3 L1267.8,172.4 L1264.7,172.6 L1261.5,172.8 L1258.4,173.0 L1255.3,173.1 L1252.2,173.3 L1249.1,173.5 L1246.0,173.6 L1243.0,173.8 L1239.9,173.9 L1236.9,174.1 L1233.8,174.2 L1230.8,174.4 L1227.8,174.5 L1224.7,174.7 L1221.7,174.8 L1218.7,175.0 L1215.7,175.1 L1212.8,175.2 L1209.8,175.4 L1206.8,175.5 L1203.8,175.7 L1200.9,175.8 L1197.9,175.9 L1194.9,176.1 L1192.0,176.2 L1189.0,176.3 L1186.1,176.5 L1183.1,176.6 L1180.2,176.7 L1177.2,176.9 L1174.3,177.0 L1171.3,177.1 L1168.4,177.2 L1165.4,177.4 L1162.5,177.5 L1159.5,177.6 L1156.6,177.8 L1153.6,177.9 L1150.7,178.0 L1147.7,178.2 L1144.7,178.3 L1141.8,178.4 L1138.8,178.6 L1135.8,178.7 L1132.8,178.8 L1129.9,179.0 L1126.9,179.1 L1123.9,179.3 L1121.8,179.4"/>
<path d="M1860.0,120.8 L1860.0,156.6"/>
<path d="M1005.5,190.0 L1002.5,190.4 L999.5,190.7 L996.5,191.1 L993.4,191.4 L990.4,191.8 L987.4,192.1 L984.4,192.5 L981.4,192.8 L978.4,193.2 L975.4,193.5 L972.4,193.9 L969.5,194.2 L966.5,194.6 L963.5,194.9 L960.5,195.3 L957.5,195.6 L954.5,196.0 L951.5,196.3 L948.6,196.7 L945.6,197.0 L942.6,197.4 L939.6,197.7 L936.6,198.1 L933.7,198.4 L930.7,198.8 L927.7,199.1 L924.7,199.5 L921.7,199.8 L918.8,200.2 L915.8,200.5 L912.8,200.9 L909.8,201.2 L906.8,201.6 L903.8,201.9 L900.8,202.3 L897.9,202.6 L894.9,203.0 L891.9,203.3 L888.9,203.7 L885.9,204.0 L882.9,204.4 L879.9,204.7 L876.9,205.1 L873.9,205.4 L870.8,205.8 L867.8,206.1 L864.8,206.5 L861.8,206.8 L858.8,207.2 L855.7,207.5 L852.7,207.9 L849.7,208.2 L846.6,208.6 L843.6,208.9 L840.5,209.3 L837.5,209.6 L834.4,210.0 L831.3,210.4 L828.3,210.7 L825.2,211.1 L822.1,211.4 L819.0,211.8 L815.9,212.1 L812.9,212.5 L809.7,212.8 L806.6,213.2 L803.5,213.6 L800.4,213.9 L797.3,214.3 L794.1,214.6 L791.0,215.0 L788.1,215.3 L785.2,215.7 L782.3,216.0 L779.4,216.3 L776.5,216.7 L773.6,217.0 L770.7,217.3 L767.8,217.7 L764.8,218.0 L761.9,218.3 L759.0,218.7 L756.0,219.0 L753.1,219.3 L750.1,219.7 L747.2,220.0 L744.2,220.3 L741.2,220.7 L738.3,221.0 L735.3,221.3 L732.3,221.7 L729.3,222.0 L726.3,222.3 L723.4,222.7 L720.4,223.0 L717.4,223.4 L714.4,223.7 L711.4,224.0 L708.4,224.4 L705.4,224.7 L702.3,225.0 L699.3,225.4 L696.3,225.7 L693.3,226.1 L690.3,226.4 L687.3,226.7 L684.2,227.1 L681.2,227.4 L678.2,227.8 L675.1,228.1 L672.1,228.4 L669.1,228.8 L666.0,229.1 L663.0,229.5 L660.0,229.8 L656.9,230.1 L653.9,230.5 L650.8,230.8 L647.8,231.2 L644.8,231.5 L641.7,231.8 L638.7,232.2 L635.6,232.5 L632.6,232.9 L629.5,233.2 L626.5,233.5 L623.4,233.9 L620.4,234.2 L617.3,234.6 L614.3,234.9 L611.2,235.2 L608.2,235.6 L605.2,235.9 L602.1,236.3 L599.1,236.6 L596.0,236.9 L593.0,237.3 L589.9,237.6 L586.9,238.0 L583.9,238.3 L580.8,238.7 L577.8,239.0 L574.8,239.3 L571.7,239.7 L568.7,240.0 L565.7,240.4 L562.6,240.7 L559.6,241.0 L556.6,241.4 L553.6,241.7 L551.4,241.9"/>
<path d="M1063.8,195.4 L1085.9,233.1"/>
<path d="M115.7,270.1 L113.7,272.4 L111.7,274.7 L109.7,276.9 L107.6,279.2 L105.6,281.4 L103.6,283.7 L101.5,286.0 L99.5,288.2 L97.6,290.5 L95.6,292.9 L93.7,295.2 L91.8,297.6 L90.0,300.0 L88.2,302.4 L86.4,304.9 L84.6,307.4 L82.9,309.9 L81.2,312.4 L79.5,314.9 L77.8,317.5 L76.2,320.1 L74.6,322.7 L73.1,325.4 L71.7,328.1 L70.3,330.8 L69.0,333.6 L67.8,336.4 L66.6,339.3 L65.5,342.2 L64.5,345.2 L63.5,348.3 L62.5,351.4 L61.6,354.5 L60.8,357.6 L60.0,360.7 L59.2,363.7 L58.6,366.7 L58.0,369.5 L57.5,372.3 L57.0,375.0 L56.5,378.3 L56.2,381.2 L56.1,383.9 L56.0,386.6 L56.0,389.4 L56.0,392.5 L56.0,395.9 L56.0,400.0 L56.0,401.9 L55.9,403.9 L55.9,406.1 L55.9,408.5 L55.9,411.0 L55.8,413.6 L55.8,416.3 L55.8,419.2 L55.8,422.1 L55.8,425.2 L55.8,428.3 L55.8,431.6 L55.8,434.9 L55.8,438.3 L55.8,441.7 L55.8,445.2 L55.8,448.8 L55.8,452.4 L55.8,456.0 L55.8,459.7 L55.8,463.4 L55.8,467.0 L55.8,470.7 L55.8,474.4 L55.8,478.1 L55.8,481.8 L55.8,485.4 L55.8,489.0 L55.9,492.6 L55.9,496.1 L55.9,499.6 L55.9,503.0 L55.9,506.3 L55.9,509.6 L55.9,512.7 L55.9,515.8 L55.9,518.8 L56.0,521.7 L56.0,524.4 L56.0,527.1 L56.0,529.6 L56.0,532.0 L56.0,534.2 L56.0,536.3 L56.0,538.2 L56.0,540.0 L55.9,544.4 L55.8,547.9 L55.6,551.0 L55.5,553.8 L55.6,556.8 L56.0,560.3 L56.4,562.9 L56.8,565.7 L57.3,568.6 L57.9,571.5 L58.5,574.6 L59.2,577.6 L60.1,580.7 L61.0,583.8 L62.1,586.9 L63.3,590.0 L64.6,593.0 L66.1,595.9 L67.4,598.2 L68.9,600.6 L70.4,603.0 L72.0,605.3 L73.8,607.7 L75.6,610.1 L77.5,612.4 L79.5,614.8 L81.5,617.1 L83.6,619.4 L85.8,621.7 L87.9,624.0 L90.2,626.2 L92.4,628.4 L94.7,630.5 L97.0,632.6 L99.4,634.6 L101.7,636.6 L104.0,638.5 L106.4,640.4 L108.7,642.2 L111.1,644.0 L113.5,645.8 L116.0,647.5 L118.5,649.2 L121.0,650.8 L123.6,652.4 L126.2,654.0 L128.8,655.6 L131.6,657.1 L134.4,658.6 L137.2,660.1 L140.1,661.5 L143.1,663.0 L146.2,664.4 L149.3,665.7 L152.5,667.1 L154.9,668.1 L157.5,669.1 L160.0,670.0 L162.6,671.0 L165.3,671.9 L168.0,672.8 L170.8,673.7 L173.6,674.6 L176.5,675.4 L179.4,676.2 L182.3,677.1 L185.3,677.9 L188.3,678.7 L191.3,679.5 L194.4,680.2 L197.5,681.0 L200.6,681.7 L203.7,682.4 L206.8,683.2 L210.0,683.9 L213.2,684.5 L216.3,685.2 L219.5,685.9 L222.7,686.5 L225.9,687.2 L229.1,687.8 L232.3,688.4 L235.4,689.0 L238.6,689.6 L241.7,690.2 L244.9,690.8 L248.0,691.4 L251.1,691.9 L254.2,692.5 L257.2,693.0 L260.2,693.5 L263.2,694.0 L266.2,694.5 L269.2,694.9 L272.3,695.4 L275.3,695.8 L278.3,696.2 L281.4,696.5 L284.4,696.9 L287.5,697.3 L290.5,697.6 L293.6,697.9 L296.7,698.3 L299.8,698.6 L302.8,698.9 L305.9,699.2 L309.0,699.5 L312.1,699.8 L315.2,700.1 L318.3,700.3 L321.3,700.6 L324.4,700.9 L327.5,701.2 L330.6,701.4 L333.7,701.7 L336.8,702.0 L339.9,702.3 L343.0,702.5 L346.1,702.8 L349.1,703.1 L351.6,703.4"/>
<path d="M127.0,270.1 L128.8,306.0"/>
<path d="M143.3,270.1 L200.7,311.4"/>
<path d="M157.1,270.1 L279.6,314.6"/>
<path d="M247.9,270.1 L166.9,312.9"/>
<path d="M263.1,270.1 L241.3,307.7"/>
<path d="M410.9,270.1 L274.7,314.9"/>
<path d="M426.4,270.1 L353.2,312.5"/>
<path d="M439.2,270.1 L437.7,272.8 L436.2,275.5 L434.7,278.2 L433.2,280.8 L431.6,283.4 L430.1,286.1 L428.5,288.7 L427.0,291.4 L425.5,294.0 L424.0,296.7 L422.5,299.4 L421.0,302.1 L419.6,304.9 L418.2,307.7 L416.9,310.5 L415.6,313.4 L414.4,316.3 L413.3,319.0 L412.3,321.8 L411.2,324.7 L410.2,327.6 L409.2,330.5 L408.2,333.4 L407.3,336.4 L406.3,339.4 L405.4,342.5 L404.6,345.5 L403.8,348.5 L403.0,351.6 L402.2,354.6 L401.5,357.6 L400.8,360.6 L400.1,363.5 L399.5,366.5 L399.0,369.4 L398.5,372.2 L398.0,375.0 L397.5,378.2 L397.2,381.4 L396.8,384.6 L396.6,387.8 L396.4,391.0 L396.3,394.2 L396.2,397.4 L396.1,400.5 L396.1,403.5 L396.1,406.5 L396.1,409.4 L396.1,412.2 L396.1,414.9 L396.0,417.5 L396.0,420.0 L395.9,423.5 L395.9,426.4 L395.9,429.1 L396.0,432.0 L396.0,435.5 L396.0,440.0 L396.0,441.4 L396.0,442.8 L396.0,444.3 L396.0,445.9 L396.0,447.6 L396.0,449.3 L396.0,451.1 L396.0,453.0 L396.0,455.0 L396.0,457.0 L396.0,459.1 L396.0,461.2 L396.0,463.4 L396.0,465.7 L396.0,468.0 L396.0,470.4 L396.0,472.9 L396.0,475.4 L396.0,477.9 L396.0,480.6 L396.0,483.2 L396.0,485.9 L396.0,488.7 L396.0,491.5 L396.0,494.4 L396.0,497.3 L396.0,500.2 L396.0,503.2 L396.0,506.2 L396.0,509.3 L396.0,512.4 L396.0,515.5 L396.0,518.7 L396.0,521.9 L396.0,525.2 L396.0,528.4 L396.0,531.7 L396.0,535.1 L396.0,538.4 L396.0,541.8 L396.0,545.2 L396.0,548.6 L396.0,552.0 L396.0,555.5 L396.0,559.0 L396.0,562.5 L396.0,566.0 L396.0,569.5 L396.0,573.0 L396.0,576.5 L396.0,580.1 L396.0,583.6 L396.0,587.2 L396.0,590.8 L396.0,594.3 L396.0,597.9 L396.0,601.5 L396.0,605.0 L396.0,608.6 L396.0,612.2 L396.0,615.7 L396.0,619.3 L396.0,622.8 L396.0,626.3 L396.0,629.9 L396.0,633.4 L396.0,636.9 L396.0,640.3 L396.0,643.8 L396.0,647.2 L396.0,650.6 L396.0,654.0 L396.0,657.4 L396.0,660.8 L396.0,664.1 L396.0,667.4 L396.0,670.6 L396.0,673.9 L396.0,677.1 L396.0,679.6"/>
<path d="M446.5,270.1 L446.5,273.2 L446.5,276.1 L446.5,279.0 L446.5,282.1 L446.5,285.7 L446.5,290.0 L446.5,291.8 L446.5,293.7 L446.5,295.7 L446.5,297.9 L446.5,300.2 L446.5,302.7 L446.5,305.2 L446.5,307.9 L446.5,310.6 L446.5,313.5 L446.5,316.4 L446.5,319.4 L446.5,322.5 L446.5,325.7 L446.5,328.9 L446.5,332.2 L446.5,335.5 L446.5,338.9 L446.5,342.3 L446.4,345.8 L446.4,349.2 L446.4,352.7 L446.4,356.3 L446.4,359.8 L446.4,363.3 L446.4,366.8 L446.4,370.3 L446.4,373.8 L446.4,377.3 L446.4,380.7 L446.4,384.1 L446.4,387.5 L446.4,390.8 L446.4,394.1 L446.4,397.3 L446.4,400.4 L446.5,403.5 L446.5,406.5 L446.5,409.4 L446.5,412.2 L446.5,414.9 L446.5,417.5 L446.5,420.0 L446.5,423.5 L446.5,427.0 L446.5,430.3 L446.4,433.6 L446.4,436.9 L446.3,440.0 L446.3,443.1 L446.3,446.2 L446.2,449.1 L446.2,452.1 L446.2,455.0 L446.2,457.9 L446.2,460.7 L446.2,463.5 L446.3,466.3 L446.3,469.0 L446.4,471.8 L446.6,474.5 L446.8,477.3 L447.0,480.0 L447.3,483.3 L447.6,486.5 L448.0,489.6 L448.4,492.7 L448.8,495.8 L449.3,498.8 L449.7,501.8 L450.3,504.7 L450.8,507.7 L451.4,510.6 L452.1,513.6 L452.8,516.6 L453.5,519.6 L454.3,522.7 L455.1,525.6 L455.9,528.5 L456.7,531.5 L457.6,534.5 L458.5,537.4 L459.4,540.4 L460.4,543.4 L461.4,546.4 L462.4,549.3 L463.5,552.3 L464.7,555.3 L465.9,558.2 L467.2,561.1 L468.5,564.0 L469.9,566.9 L471.4,569.8 L472.8,572.4 L474.3,575.0 L475.9,577.5 L477.6,580.1 L479.3,582.6 L481.1,585.1 L482.9,587.6 L484.8,590.1 L486.7,592.6 L488.6,595.1 L490.5,597.6 L492.5,600.1 L494.4,602.6 L496.4,605.0 L498.0,607.1"/>
<path d="M1065.9,270.1 L927.1,315.0"/>
<path d="M1094.9,270.1 L1093.6,272.9 L1092.2,275.6 L1090.9,278.4 L1089.6,281.1 L1088.3,283.8 L1087.0,286.6 L1085.7,289.3 L1084.4,292.0 L1083.1,294.7 L1081.8,297.4 L1080.5,300.1 L1079.2,302.8 L1077.8,305.5 L1076.5,308.2 L1075.2,310.9 L1073.9,313.6 L1072.6,316.4 L1071.3,319.1 L1069.9,321.9 L1068.6,324.7 L1067.3,327.5 L1065.9,330.3 L1064.6,333.2 L1063.2,336.1 L1061.8,339.0 L1060.4,341.9 L1059.0,344.9 L1057.6,347.9 L1056.2,350.9 L1055.0,353.4 L1053.9,355.9 L1052.7,358.4 L1051.5,361.0 L1050.3,363.5 L1049.1,366.1 L1047.9,368.8 L1046.7,371.4 L1045.5,374.0 L1044.3,376.7 L1043.1,379.4 L1041.8,382.1 L1040.6,384.8 L1039.4,387.5 L1038.1,390.2 L1036.9,393.0 L1035.6,395.7 L1034.3,398.5 L1033.1,401.3 L1031.8,404.1 L1030.6,406.9 L1029.3,409.7 L1028.0,412.5 L1026.8,415.3 L1025.5,418.1 L1024.2,420.9 L1022.9,423.7 L1021.7,426.5 L1020.4,429.3 L1019.1,432.2 L1017.8,435.0 L1016.6,437.8 L1015.3,440.6 L1014.0,443.4 L1012.8,446.2 L1011.5,449.0 L1010.2,451.8 L1009.0,454.6 L1008.1,456.6"/>
<path d="M1101.1,270.1 L1101.1,380.8"/>
<path d="M1107.3,270.1 L1108.5,272.9 L1109.7,275.8 L1110.9,278.6 L1112.1,281.4 L1113.3,284.3 L1114.5,287.1 L1115.7,289.9 L1116.9,292.7 L1118.1,295.5 L1119.4,298.3 L1120.6,301.1 L1121.8,303.9 L1123.0,306.7 L1124.2,309.5 L1125.4,312.3 L1126.6,315.2 L1127.8,318.0 L1129.0,320.8 L1130.2,323.6 L1131.4,326.5 L1132.6,329.3 L1133.8,332.2 L1135.0,335.0 L1136.2,337.9 L1137.5,340.8 L1138.7,343.6 L1139.9,346.5 L1141.1,349.4 L1142.3,352.4 L1143.5,355.3 L1144.8,358.2 L1146.0,361.2 L1147.1,363.9 L1148.2,366.6 L1149.4,369.4 L1150.5,372.1 L1151.6,374.9 L1152.7,377.6 L1153.9,380.4 L1155.0,383.2 L1156.1,386.0 L1157.3,388.8 L1158.4,391.6 L1159.5,394.4 L1160.7,397.2 L1161.8,400.0 L1162.9,402.9 L1164.1,405.7 L1165.2,408.5 L1166.4,411.4 L1167.5,414.2 L1168.7,417.1 L1169.8,419.9 L1170.9,422.8 L1172.1,425.7 L1173.2,428.5 L1174.4,431.4 L1175.5,434.2 L1176.7,437.1 L1177.8,440.0 L1178.9,442.8 L1180.1,445.7 L1181.2,448.5 L1182.4,451.4 L1183.5,454.2 L1184.4,456.3"/>
<path d="M1123.6,270.1 L1126.2,271.7 L1128.9,273.3 L1131.5,274.9 L1134.2,276.5 L1136.8,278.0 L1139.4,279.6 L1142.1,281.2 L1144.7,282.8 L1147.4,284.4 L1150.0,286.0 L1152.7,287.6 L1155.3,289.2 L1158.0,290.8 L1160.7,292.4 L1163.3,294.0 L1166.0,295.5 L1168.6,297.1 L1171.3,298.7 L1173.9,300.3 L1176.6,301.9 L1179.2,303.5 L1181.8,305.1 L1184.5,306.7 L1187.1,308.3 L1189.8,309.9 L1192.4,311.4 L1195.0,313.0 L1197.7,314.6 L1200.3,316.2 L1202.9,317.8 L1205.5,319.4 L1208.2,321.0 L1210.8,322.5 L1213.4,324.1 L1216.0,325.7 L1218.6,327.3 L1221.2,328.9 L1223.7,330.4 L1226.3,332.0 L1228.9,333.6 L1231.6,335.2 L1234.2,336.9 L1236.9,338.5 L1239.6,340.1 L1242.2,341.8 L1244.8,343.4 L1247.5,345.0 L1250.1,346.7 L1252.7,348.3 L1255.4,349.9 L1258.0,351.6 L1260.6,353.2 L1263.2,354.8 L1265.8,356.4 L1268.4,358.1 L1271.0,359.7 L1273.6,361.3 L1276.2,362.9 L1278.8,364.6 L1281.4,366.2 L1284.0,367.8 L1286.6,369.4 L1289.2,371.1 L1291.8,372.7 L1294.4,374.3 L1297.0,375.9 L1299.6,377.6 L1302.2,379.2 L1304.8,380.8 L1307.4,382.4 L1310.0,384.0 L1312.6,385.7 L1314.6,386.9"/>
<path d="M1139.1,270.1 L1142.0,271.0 L1144.9,271.9 L1147.8,272.8 L1150.7,273.7 L1153.6,274.6 L1156.5,275.5 L1159.5,276.5 L1162.4,277.4 L1165.3,278.3 L1168.3,279.2 L1171.2,280.1 L1174.2,281.1 L1177.2,282.0 L1180.1,282.9 L1183.1,283.8 L1186.1,284.8 L1189.1,285.7 L1192.1,286.6 L1195.1,287.6 L1198.1,288.5 L1201.1,289.5 L1204.1,290.4 L1207.1,291.3 L1210.1,292.3 L1213.1,293.2 L1216.2,294.2 L1219.2,295.1 L1222.2,296.1 L1225.3,297.0 L1228.3,298.0 L1231.4,298.9 L1234.4,299.9 L1237.5,300.8 L1240.5,301.8 L1243.6,302.7 L1246.6,303.7 L1249.7,304.6 L1252.8,305.6 L1255.8,306.5 L1258.9,307.5 L1262.0,308.5 L1265.0,309.4 L1268.1,310.4 L1271.2,311.3 L1274.3,312.3 L1277.3,313.3 L1280.4,314.2 L1283.5,315.2 L1286.6,316.1 L1289.6,317.1 L1292.7,318.1 L1295.8,319.0 L1298.9,320.0 L1302.0,320.9 L1305.0,321.9 L1308.1,322.9 L1311.2,323.8 L1314.3,324.8 L1317.3,325.7 L1320.4,326.7 L1323.5,327.7 L1326.5,328.6 L1329.6,329.6 L1332.7,330.5 L1335.7,331.5 L1338.8,332.4 L1341.9,333.4 L1344.9,334.3 L1348.0,335.3 L1351.0,336.3 L1354.1,337.2 L1357.1,338.2 L1360.2,339.1 L1363.2,340.1 L1366.2,341.0 L1369.3,341.9 L1372.3,342.9 L1375.3,343.8 L1378.3,344.8 L1381.4,345.7 L1384.4,346.7 L1387.4,347.6 L1390.4,348.5 L1393.4,349.5 L1396.4,350.4 L1399.4,351.3 L1402.3,352.3 L1405.3,353.2 L1408.3,354.1 L1411.3,355.1 L1414.2,356.0 L1417.2,356.9 L1420.1,357.8 L1423.1,358.7 L1426.0,359.7 L1428.9,360.6 L1431.8,361.5 L1434.8,362.4 L1437.7,363.3 L1440.6,364.2 L1443.5,365.1 L1446.3,366.0 L1449.2,366.9 L1452.1,367.8 L1454.9,368.7 L1457.8,369.6 L1460.6,370.5 L1463.5,371.4 L1466.3,372.3 L1469.1,373.1 L1471.9,374.0 L1474.7,374.9 L1477.5,375.8 L1480.3,376.6 L1483.1,377.5 L1485.9,378.4 L1488.6,379.2 L1491.4,380.1 L1494.1,380.9 L1496.8,381.8 L1499.5,382.6 L1502.2,383.5 L1504.9,384.3 L1507.6,385.2 L1510.3,386.0 L1512.9,386.8 L1515.6,387.7 L1518.2,388.5 L1520.9,389.3 L1523.5,390.1 L1526.1,390.9 L1528.7,391.7 L1531.2,392.5 L1533.8,393.3 L1536.4,394.1 L1538.9,394.9 L1541.4,395.7 L1543.9,396.5 L1546.4,397.3 L1548.9,398.1 L1551.4,398.8 L1553.9,399.6 L1556.3,400.4 L1558.7,401.1 L1561.2,401.9 L1563.6,402.7 L1566.0,403.4 L1568.3,404.1 L1570.7,404.9 L1573.0,405.6 L1575.4,406.4 L1577.7,407.1 L1580.0,407.8 L1583.5,408.9 L1586.9,410.0 L1590.2,411.0 L1593.6,412.1 L1596.9,413.1 L1600.2,414.1 L1603.5,415.1 L1606.7,416.2 L1609.9,417.2 L1613.1,418.2 L1616.2,419.1 L1619.3,420.1 L1622.4,421.1 L1625.5,422.1 L1628.5,423.0 L1631.5,424.0 L1634.5,424.9 L1637.5,425.8 L1640.5,426.8 L1643.4,427.7 L1646.3,428.6 L1649.2,429.5 L1652.1,430.4 L1654.9,431.3 L1657.8,432.2 L1660.6,433.1 L1663.4,434.0 L1666.2,434.8 L1669.0,435.7 L1671.8,436.6 L1674.6,437.5 L1677.3,438.3 L1680.0,439.2 L1682.8,440.0 L1685.5,440.9 L1688.2,441.8 L1690.9,442.6 L1693.6,443.5 L1696.3,444.3 L1699.0,445.2 L1701.7,446.0 L1704.4,446.8 L1707.1,447.7 L1709.8,448.5 L1712.5,449.4 L1715.2,450.2 L1717.8,451.1 L1720.5,451.9 L1723.2,452.8 L1725.9,453.6 L1728.6,454.5 L1731.3,455.3 L1734.0,456.2 L1736.7,457.0 L1739.5,457.9 L1742.2,458.7 L1744.9,459.6 L1747.7,460.4 L1750.4,461.3 L1753.2,462.2 L1756.0,463.1 L1758.8,463.9 L1760.6,464.5"/>
<path d="M872.5,344.8 L862.8,381.2"/>
<path d="M844.9,344.8 L842.0,345.8 L839.0,346.8 L836.1,347.7 L833.1,348.7 L830.2,349.6 L827.3,350.6 L824.3,351.5 L821.4,352.4 L818.4,353.4 L815.5,354.3 L812.5,355.2 L809.6,356.1 L806.6,357.1 L803.7,358.0 L800.8,359.0 L797.8,359.9 L794.9,360.9 L791.9,361.9 L789.0,362.9 L786.1,363.9 L783.1,364.9 L780.2,366.0 L777.3,367.0 L774.3,368.1 L771.4,369.3 L768.5,370.4 L765.5,371.6 L762.6,372.8 L759.8,374.0 L757.0,375.2 L754.2,376.4 L751.4,377.6 L748.6,378.8 L745.7,380.1 L742.9,381.4 L740.1,382.7 L737.2,384.0 L734.4,385.3 L731.5,386.6 L728.7,388.0 L725.8,389.3 L723.0,390.7 L720.2,392.1 L717.4,393.5 L714.5,394.9 L711.7,396.4 L708.9,397.8 L706.2,399.2 L703.4,400.7 L700.7,402.2 L697.9,403.6 L695.2,405.1 L692.6,406.6 L689.9,408.1 L687.3,409.6 L684.7,411.1 L682.1,412.6 L679.5,414.2 L677.0,415.7 L674.3,417.4 L671.6,419.1 L668.9,420.8 L666.3,422.5 L663.6,424.2 L661.0,425.9 L658.5,427.7 L655.9,429.4 L653.3,431.2 L650.8,432.9 L648.3,434.7 L645.8,436.5 L643.4,438.3 L640.9,440.2 L638.5,442.0 L636.1,443.8 L633.6,445.7 L631.3,447.6 L628.9,449.4 L626.5,451.3 L624.2,453.2 L621.9,455.1 L619.6,457.0 L617.3,458.9 L615.0,460.9 L612.7,462.8 L610.4,464.8 L608.0,466.9 L605.6,468.9 L603.3,471.0 L601.0,473.0 L598.6,475.1 L596.3,477.2 L594.0,479.3 L591.7,481.5 L589.4,483.6 L587.2,485.7 L584.9,487.9 L582.7,490.0 L580.6,492.2 L578.5,494.4 L576.4,496.6 L574.3,498.8 L572.3,500.9 L570.3,503.1 L568.4,505.3 L566.6,507.6 L564.7,509.8 L563.0,512.0 L561.3,514.2 L559.3,516.9 L557.4,519.6 L555.6,522.3 L553.8,525.0 L552.1,527.6 L550.5,530.3 L548.9,533.1 L547.4,535.8 L545.9,538.5 L544.5,541.3 L543.1,544.1 L541.8,546.9 L540.5,549.7 L539.2,552.5 L538.0,555.4 L536.8,558.3 L535.6,561.3 L534.5,564.1 L533.5,566.9 L532.6,569.8 L531.7,572.6 L530.9,575.6 L530.1,578.5 L529.3,581.5 L528.6,584.4 L527.9,587.4 L527.2,590.4 L526.5,593.5 L525.8,596.5 L525.2,599.5 L524.5,602.5 L524.0,604.9"/>
<path d="M895.7,344.8 L898.4,346.2 L901.1,347.6 L903.7,349.0 L906.4,350.3 L909.1,351.7 L911.7,353.1 L914.4,354.5 L917.0,355.9 L919.7,357.3 L922.3,358.7 L925.0,360.1 L927.7,361.5 L930.3,362.9 L933.0,364.3 L935.6,365.8 L938.2,367.2 L940.9,368.6 L943.5,370.0 L946.2,371.4 L948.8,372.8 L951.5,374.2 L954.2,375.6 L956.8,377.0 L959.5,378.4 L962.1,379.8 L964.8,381.2 L967.4,382.6 L970.1,384.0 L972.8,385.4 L975.5,386.7 L978.1,388.1 L980.8,389.5 L983.5,390.9 L986.2,392.2 L988.9,393.6 L991.6,395.0 L994.3,396.3 L997.0,397.7 L999.7,399.0 L1002.4,400.4 L1005.2,401.7 L1007.9,403.0 L1010.7,404.4 L1013.4,405.7 L1016.2,407.0 L1018.9,408.3 L1021.7,409.6 L1024.4,410.9 L1027.1,412.1 L1029.8,413.4 L1032.6,414.6 L1035.3,415.8 L1038.0,417.0 L1040.8,418.3 L1043.5,419.5 L1046.3,420.7 L1049.1,421.9 L1051.8,423.1 L1054.6,424.3 L1057.4,425.5 L1060.2,426.7 L1063.0,427.9 L1065.8,429.0 L1068.6,430.2 L1071.4,431.4 L1074.2,432.6 L1077.0,433.7 L1079.8,434.9 L1082.6,436.1 L1085.4,437.2 L1088.2,438.4 L1091.0,439.5 L1093.9,440.7 L1096.7,441.8 L1099.5,443.0 L1102.3,444.1 L1105.2,445.3 L1108.0,446.4 L1110.8,447.6 L1113.7,448.7 L1116.5,449.9 L1119.3,451.0 L1122.2,452.2 L1125.0,453.3 L1127.8,454.5 L1130.6,455.6 L1133.5,456.8 L1136.3,457.9 L1139.1,459.1 L1141.9,460.2 L1144.8,461.4 L1147.6,462.6 L1149.6,463.4"/>
<path d="M818.0,419.6 L815.2,420.7 L812.4,421.8 L809.6,422.9 L806.8,424.0 L804.0,425.0 L801.2,426.1 L798.4,427.1 L795.6,428.2 L792.8,429.2 L790.0,430.2 L787.2,431.3 L784.4,432.3 L781.6,433.4 L778.8,434.4 L776.0,435.4 L773.2,436.5 L770.4,437.5 L767.6,438.6 L764.8,439.6 L762.0,440.7 L759.2,441.8 L756.4,442.9 L753.6,444.0 L750.7,445.1 L747.9,446.2 L745.1,447.4 L742.3,448.5 L739.5,449.7 L736.7,450.9 L733.9,452.1 L731.1,453.3 L728.3,454.6 L725.4,455.9 L722.6,457.2 L719.8,458.5 L717.1,459.8 L714.4,461.1 L711.7,462.4 L709.0,463.7 L706.2,465.1 L703.4,466.4 L700.6,467.8 L697.8,469.2 L695.0,470.6 L692.2,472.0 L689.3,473.5 L686.5,474.9 L683.6,476.4 L680.8,477.8 L677.9,479.3 L675.1,480.8 L672.3,482.3 L669.4,483.8 L666.6,485.4 L663.8,486.9 L661.0,488.4 L658.2,490.0 L655.4,491.5 L652.7,493.1 L649.9,494.7 L647.2,496.2 L644.6,497.8 L641.9,499.4 L639.3,501.0 L636.7,502.6 L634.1,504.1 L631.5,505.7 L629.0,507.3 L626.6,508.9 L624.2,510.5 L621.8,512.1 L619.4,513.7 L617.1,515.2 L614.9,516.8 L612.7,518.4 L610.0,520.4 L607.3,522.4 L604.7,524.4 L602.2,526.4 L599.6,528.4 L597.2,530.4 L594.7,532.4 L592.3,534.4 L590.0,536.5 L587.6,538.5 L585.4,540.6 L583.1,542.6 L580.9,544.7 L578.8,546.7 L576.6,548.8 L574.5,550.9 L572.5,553.0 L570.4,555.0 L568.4,557.1 L566.4,559.2 L564.5,561.3 L562.6,563.4 L560.7,565.6 L558.8,567.7 L557.0,569.8 L555.0,572.2 L553.0,574.7 L551.1,577.2 L549.3,579.7 L547.5,582.2 L545.8,584.7 L544.1,587.2 L542.4,589.7 L540.8,592.2 L539.3,594.7 L537.7,597.3 L536.1,599.8 L534.6,602.3 L533.0,604.9 L532.0,606.5"/>
<path d="M877.4,419.6 L963.5,462.6"/>
<path d="M909.5,419.6 L1128.3,465.9"/>
<path d="M1084.6,419.6 L1025.5,461.0"/>
<path d="M1102.2,419.6 L1102.6,422.8 L1103.0,426.0 L1103.3,429.1 L1103.6,432.3 L1103.9,435.5 L1104.3,438.7 L1104.7,441.9 L1105.1,445.1 L1105.7,448.2 L1106.3,451.4 L1107.1,454.6 L1107.9,457.5 L1108.7,460.4 L1109.7,463.4 L1110.6,466.3 L1111.7,469.3 L1112.8,472.2 L1113.9,475.2 L1115.1,478.1 L1116.4,480.9 L1117.7,483.8 L1119.1,486.5 L1120.6,489.3 L1122.1,491.9 L1123.8,494.6 L1125.6,497.4 L1127.5,500.0 L1129.5,502.6 L1131.6,505.2 L1133.7,507.7 L1135.9,510.2 L1138.1,512.6 L1140.3,515.0 L1142.5,517.3 L1144.7,519.6 L1146.9,521.8 L1149.3,524.2 L1151.8,526.5 L1154.2,528.7 L1156.7,530.8 L1159.3,532.9 L1161.8,534.9 L1161.8,535.0"/>
<path d="M1317.0,419.6 L1231.9,462.5"/>
<path d="M1331.8,419.6 L1329.8,422.0 L1327.8,424.4 L1325.8,426.8 L1323.9,429.2 L1321.9,431.6 L1319.9,434.1 L1318.0,436.5 L1316.0,438.9 L1314.0,441.4 L1312.1,443.8 L1310.1,446.2 L1308.1,448.7 L1306.1,451.1 L1304.2,453.5 L1302.2,455.9 L1300.2,458.2 L1298.2,460.6 L1296.1,462.9 L1294.1,465.2 L1292.1,467.4 L1290.0,469.7 L1288.0,471.8 L1285.9,474.0 L1283.6,476.3 L1281.4,478.6 L1279.0,480.8 L1276.7,483.0 L1274.4,485.2 L1272.0,487.4 L1269.6,489.5 L1267.2,491.7 L1264.8,493.8 L1262.4,495.8 L1260.1,497.9 L1257.7,499.9 L1255.3,502.0 L1252.9,503.9 L1250.6,505.9 L1248.3,507.9 L1246.0,509.8 L1243.7,511.7 L1241.5,513.5 L1239.3,515.4 L1236.7,517.6 L1234.1,519.7 L1231.6,521.8 L1229.1,523.8 L1226.6,525.8 L1224.2,527.8 L1221.7,529.7 L1219.3,531.6 L1216.9,533.5 L1214.9,535.1"/>
<path d="M1336.6,419.6 L1335.7,422.5 L1334.7,425.3 L1333.8,428.1 L1332.9,430.9 L1332.0,433.8 L1331.1,436.6 L1330.1,439.4 L1329.2,442.2 L1328.3,445.0 L1327.4,447.8 L1326.5,450.6 L1325.5,453.5 L1324.6,456.4 L1323.6,459.2 L1322.7,462.1 L1321.7,465.1 L1320.7,468.0 L1319.7,471.0 L1318.7,474.0 L1317.8,476.7 L1316.8,479.5 L1315.9,482.3 L1314.9,485.1 L1313.9,487.9 L1312.9,490.7 L1311.9,493.6 L1310.9,496.5 L1309.9,499.4 L1308.9,502.3 L1307.9,505.2 L1306.9,508.1 L1305.8,511.0 L1304.8,514.0 L1303.8,516.9 L1302.7,519.8 L1301.7,522.8 L1300.6,525.7 L1299.6,528.6 L1298.8,530.9"/>
<path d="M1346.3,419.6 L1347.4,422.5 L1348.5,425.3 L1349.5,428.1 L1350.6,430.9 L1351.7,433.8 L1352.7,436.6 L1353.8,439.4 L1354.8,442.2 L1355.9,445.0 L1357.0,447.8 L1358.0,450.6 L1359.1,453.5 L1360.2,456.4 L1361.3,459.2 L1362.4,462.1 L1363.5,465.1 L1364.7,468.0 L1365.8,471.0 L1367.0,474.0 L1368.1,476.7 L1369.1,479.5 L1370.2,482.3 L1371.3,485.1 L1372.5,487.9 L1373.6,490.7 L1374.7,493.6 L1375.9,496.5 L1377.0,499.4 L1378.2,502.3 L1379.4,505.2 L1380.5,508.1 L1381.7,511.0 L1382.9,514.0 L1384.1,516.9 L1385.2,519.8 L1386.4,522.8 L1387.6,525.7 L1388.8,528.6 L1389.8,531.1"/>
<path d="M1398.0,419.6 L1400.8,420.8 L1403.6,421.9 L1406.5,423.1 L1409.4,424.2 L1412.3,425.4 L1415.2,426.5 L1418.2,427.7 L1421.1,428.8 L1424.1,430.0 L1427.1,431.1 L1430.1,432.3 L1433.1,433.4 L1436.2,434.6 L1439.2,435.7 L1442.2,436.9 L1445.2,438.0 L1448.3,439.2 L1451.3,440.3 L1454.3,441.4 L1457.3,442.6 L1460.3,443.7 L1463.3,444.9 L1466.3,446.0 L1469.3,447.2 L1472.2,448.3 L1475.2,449.5 L1478.1,450.6 L1481.0,451.8 L1483.9,452.9 L1486.7,454.1 L1489.5,455.3 L1492.3,456.4 L1495.1,457.6 L1497.8,458.7 L1500.5,459.9 L1503.1,461.1 L1505.7,462.2 L1508.3,463.4 L1510.8,464.6 L1513.3,465.7 L1515.8,466.9 L1518.2,468.1 L1520.5,469.3 L1522.8,470.4 L1525.0,471.6 L1527.2,472.8 L1529.3,474.0 L1532.4,475.8 L1535.4,477.6 L1538.3,479.3 L1541.1,481.1 L1543.9,482.9 L1546.5,484.7 L1549.2,486.5 L1551.7,488.3 L1554.2,490.1 L1556.6,491.9 L1559.0,493.8 L1561.3,495.6 L1563.5,497.4 L1565.7,499.2 L1567.9,501.0 L1570.0,502.9 L1572.1,504.7 L1574.1,506.5 L1576.1,508.3 L1578.1,510.2 L1580.0,512.0 L1582.5,514.3 L1584.9,516.7 L1587.2,519.0 L1589.6,521.3 L1591.8,523.6 L1593.9,525.9 L1596.0,528.2 L1597.9,530.6 L1599.7,533.0 L1601.4,535.4 L1602.9,537.9 L1604.3,540.4 L1605.5,543.0 L1606.6,545.9 L1607.4,548.9 L1608.1,552.0 L1608.6,555.2 L1608.9,558.3 L1609.1,561.5 L1609.2,564.8 L1609.2,568.0 L1609.1,571.2 L1609.1,574.4 L1609.0,577.6 L1608.9,580.6 L1608.8,583.6 L1608.6,586.6 L1608.4,589.6 L1608.1,592.6 L1607.7,595.6 L1607.3,598.6 L1606.7,601.6 L1606.2,604.6 L1605.5,607.5 L1604.7,610.4 L1603.9,613.3 L1603.0,616.2 L1602.1,619.1 L1601.1,622.0 L1600.1,625.0 L1599.0,627.9 L1597.8,630.8 L1596.5,633.6 L1595.1,636.3 L1593.5,638.9 L1591.8,641.3 L1589.8,643.6 L1587.7,645.7 L1585.5,647.4 L1583.2,649.0 L1580.7,650.5 L1578.0,651.8 L1575.1,653.0 L1572.2,654.1 L1569.1,655.1 L1566.0,656.1 L1562.7,656.9 L1559.5,657.8 L1556.1,658.6 L1552.8,659.4 L1549.4,660.2 L1546.1,661.0 L1542.8,661.8 L1540.1,662.5 L1537.3,663.1 L1534.6,663.7 L1531.8,664.3 L1529.0,664.8 L1526.1,665.4 L1523.3,665.8 L1520.4,666.3 L1517.5,666.8 L1514.5,667.2 L1511.6,667.6 L1508.6,668.1 L1505.5,668.5 L1502.5,668.9 L1499.4,669.3 L1496.2,669.6 L1493.1,670.0 L1489.9,670.4 L1486.6,670.9 L1483.3,671.3 L1480.0,671.7 L1477.3,672.0 L1474.6,672.4 L1471.8,672.7 L1469.0,673.1 L1466.2,673.4 L1463.4,673.7 L1460.5,674.1 L1457.6,674.4 L1454.7,674.7 L1451.7,675.0 L1448.7,675.4 L1445.7,675.7 L1442.7,676.0 L1439.7,676.3 L1436.6,676.6 L1433.6,676.9 L1430.5,677.2 L1427.4,677.5 L1424.3,677.8 L1421.2,678.1 L1418.0,678.4 L1414.9,678.7 L1411.7,679.0 L1408.6,679.3 L1405.4,679.6 L1402.2,679.9 L1399.1,680.2 L1395.9,680.5 L1392.7,680.8 L1389.5,681.1 L1386.3,681.4 L1383.2,681.7 L1380.0,682.0 L1377.1,682.3 L1374.2,682.5 L1371.3,682.8 L1368.4,683.1 L1365.5,683.3 L1362.6,683.6 L1359.6,683.8 L1356.7,684.1 L1353.7,684.3 L1350.7,684.6 L1347.7,684.8 L1344.7,685.1 L1341.7,685.3 L1338.7,685.6 L1335.7,685.8 L1332.7,686.1 L1329.7,686.3 L1326.6,686.6 L1323.6,686.8 L1320.5,687.1 L1317.5,687.3 L1314.5,687.6 L1311.4,687.8 L1308.4,688.1 L1305.3,688.3 L1302.3,688.5 L1299.2,688.8 L1296.2,689.0 L1293.1,689.3 L1290.1,689.5 L1287.1,689.8 L1284.0,690.0 L1281.0,690.3 L1278.0,690.5 L1275.0,690.8 L1272.0,691.0 L1269.0,691.3 L1266.0,691.5 L1263.0,691.7 L1260.0,692.0 L1256.9,692.3 L1253.9,692.5 L1250.8,692.8 L1247.8,693.0 L1244.7,693.3 L1241.7,693.6 L1238.6,693.8 L1235.6,694.1 L1232.5,694.3 L1229.5,694.6 L1226.4,694.9 L1223.4,695.1 L1220.4,695.4 L1217.3,695.6 L1214.3,695.9 L1211.3,696.2 L1208.2,696.4 L1205.2,696.7 L1202.2,696.9 L1199.1,697.2 L1196.1,697.5 L1193.1,697.7 L1190.0,698.0 L1187.0,698.2 L1184.0,698.5 L1181.0,698.8 L1177.9,699.0 L1174.9,699.3 L1171.9,699.6 L1168.9,699.8 L1165.8,700.1 L1162.8,700.3 L1159.8,700.6 L1157.6,700.8"/>
<path d="M1436.1,413.7 L1439.1,414.2 L1442.2,414.7 L1445.2,415.1 L1448.3,415.6 L1451.4,416.1 L1454.6,416.6 L1457.7,417.0 L1460.9,417.5 L1464.1,417.9 L1467.3,418.4 L1470.5,418.8 L1473.8,419.3 L1477.0,419.7 L1480.3,420.2 L1483.5,420.6 L1486.7,421.1 L1490.0,421.5 L1493.2,422.0 L1496.5,422.4 L1499.7,422.9 L1503.0,423.3 L1506.2,423.8 L1509.4,424.3 L1512.6,424.7 L1515.8,425.2 L1518.9,425.6 L1522.1,426.1 L1525.2,426.6 L1528.3,427.0 L1531.3,427.5 L1534.4,428.0 L1537.4,428.5 L1540.4,429.0 L1543.3,429.5 L1546.2,430.0 L1549.1,430.5 L1552.0,431.0 L1554.7,431.5 L1557.5,432.1 L1560.2,432.6 L1562.9,433.1 L1565.5,433.7 L1568.0,434.3 L1570.5,434.8 L1573.0,435.4 L1575.4,436.0 L1577.7,436.6 L1580.0,437.2 L1583.5,438.2 L1586.9,439.1 L1590.3,440.1 L1593.6,441.1 L1596.8,442.0 L1599.9,443.0 L1602.9,444.0 L1605.9,445.0 L1608.8,446.0 L1611.6,447.1 L1614.3,448.2 L1616.9,449.3 L1619.5,450.4 L1622.0,451.5 L1624.4,452.7 L1626.7,454.0 L1628.9,455.2 L1631.1,456.5 L1633.2,457.9 L1635.9,459.8 L1638.3,461.8 L1640.6,463.7 L1642.7,465.8 L1644.6,467.9 L1646.5,470.1 L1648.3,472.4 L1650.1,474.8 L1652.0,477.3 L1653.9,480.0 L1655.4,482.2 L1657.0,484.5 L1658.7,486.9 L1660.3,489.3 L1662.0,491.9 L1663.6,494.5 L1665.3,497.2 L1666.9,499.9 L1668.4,502.7 L1670.0,505.6 L1671.4,508.4 L1672.8,511.3 L1674.1,514.2 L1675.2,517.1 L1676.3,520.0 L1677.2,522.9 L1678.0,525.8 L1678.7,528.7 L1679.2,531.7 L1679.7,534.7 L1680.1,537.7 L1680.4,540.8 L1680.6,543.9 L1680.7,547.0 L1680.7,550.1 L1680.7,553.2 L1680.6,556.4 L1680.4,559.5 L1680.2,562.6 L1679.8,565.7 L1679.5,568.7 L1679.0,571.7 L1678.5,574.7 L1678.0,577.6 L1677.4,580.6 L1676.6,583.5 L1675.8,586.4 L1674.9,589.3 L1673.9,592.2 L1672.9,595.1 L1671.7,597.9 L1670.5,600.8 L1669.3,603.6 L1668.0,606.3 L1666.7,609.1 L1665.3,611.8 L1663.9,614.5 L1662.5,617.1 L1661.1,619.7 L1659.6,622.3 L1658.0,625.1 L1656.3,627.9 L1654.7,630.6 L1653.0,633.4 L1651.2,636.1 L1649.4,638.7 L1647.5,641.3 L1645.6,643.9 L1643.6,646.4 L1641.6,648.9 L1639.5,651.3 L1637.3,653.7 L1635.0,656.0 L1632.6,658.2 L1630.4,660.1 L1628.1,662.0 L1625.7,663.9 L1623.3,665.7 L1620.8,667.4 L1618.3,669.2 L1615.6,670.8 L1613.0,672.5 L1610.3,674.1 L1607.5,675.6 L1604.7,677.1 L1601.9,678.6 L1599.1,680.0 L1596.3,681.4 L1593.4,682.7 L1590.6,684.0 L1587.7,685.2 L1584.9,686.4 L1582.0,687.5 L1579.1,688.5 L1576.2,689.5 L1573.2,690.5 L1570.2,691.4 L1567.2,692.3 L1564.1,693.1 L1561.0,693.9 L1558.0,694.6 L1554.9,695.4 L1551.8,696.0 L1548.8,696.7 L1545.8,697.3 L1542.7,697.9 L1539.8,698.5 L1536.8,699.0 L1533.9,699.5 L1530.8,700.0 L1527.7,700.4 L1524.6,700.8 L1521.5,701.1 L1518.5,701.4 L1515.5,701.6 L1512.5,701.8 L1509.5,701.9 L1506.5,702.1 L1503.5,702.2 L1501.4,702.3"/>
<path d="M932.9,486.1 L929.9,486.3 L926.9,486.5 L923.8,486.7 L920.8,486.9 L917.7,487.1 L914.6,487.4 L911.5,487.6 L908.4,487.8 L905.3,488.0 L902.2,488.2 L899.0,488.4 L895.9,488.6 L892.7,488.8 L889.6,489.0 L886.4,489.2 L883.3,489.4 L880.1,489.6 L876.9,489.7 L873.8,489.9 L870.6,490.1 L867.5,490.3 L864.3,490.5 L861.2,490.7 L858.0,490.9 L854.9,491.1 L851.8,491.3 L848.7,491.5 L845.6,491.7 L842.5,492.0 L839.4,492.2 L836.4,492.4 L833.3,492.6 L830.3,492.8 L827.3,493.0 L824.3,493.2 L821.3,493.4 L818.4,493.7 L815.5,493.9 L812.6,494.1 L809.7,494.3 L806.8,494.6 L804.0,494.8 L801.2,495.0 L798.5,495.3 L795.7,495.5 L793.0,495.7 L790.3,496.0 L787.7,496.2 L785.1,496.5 L782.5,496.7 L780.0,497.0 L776.4,497.4 L772.9,497.7 L769.4,498.1 L766.0,498.4 L762.6,498.8 L759.2,499.2 L755.9,499.5 L752.6,499.9 L749.4,500.2 L746.2,500.6 L743.0,501.0 L739.9,501.3 L736.8,501.7 L733.8,502.1 L730.7,502.5 L727.8,502.9 L724.8,503.4 L721.9,503.8 L719.0,504.3 L716.2,504.7 L713.4,505.2 L710.7,505.7 L707.9,506.3 L705.3,506.8 L702.6,507.4 L700.0,508.0 L696.6,508.8 L693.4,509.7 L690.2,510.5 L687.0,511.4 L684.0,512.3 L681.0,513.2 L678.0,514.2 L675.2,515.2 L672.3,516.2 L669.5,517.3 L666.8,518.3 L664.1,519.4 L661.4,520.6 L658.7,521.8 L656.0,523.0 L653.0,524.4 L650.0,525.8 L647.0,527.2 L644.0,528.7 L641.1,530.2 L638.3,531.7 L635.5,533.4 L632.8,535.1 L630.2,536.9 L627.6,538.8 L625.2,540.8 L622.8,543.0 L620.8,545.1 L618.8,547.3 L617.0,549.5 L615.2,551.9 L613.5,554.3 L611.9,556.8 L610.3,559.4 L608.7,562.0 L607.2,564.8 L605.7,567.6 L604.2,570.4 L602.7,573.4 L601.2,576.4 L599.6,579.4 L598.4,581.9 L597.1,584.4 L595.9,587.0 L594.6,589.8 L593.3,592.5 L592.1,595.4 L590.8,598.3 L589.6,601.2 L588.3,604.2 L587.1,607.3 L585.9,610.3 L584.7,613.4 L583.5,616.4 L582.3,619.5 L581.2,622.5 L580.1,625.6 L579.0,628.6 L577.9,631.6 L576.9,634.5 L575.9,637.4 L574.9,640.2 L574.0,643.0 L573.1,645.7 L572.1,648.8 L571.2,651.9 L570.3,654.9 L569.5,657.9 L568.7,660.9 L568.0,663.8 L567.2,666.7 L566.5,669.6 L565.9,672.5 L565.2,675.3 L564.6,678.2 L564.1,680.0"/>
<path d="M933.7,494.2 L930.7,494.8 L927.8,495.5 L924.8,496.1 L921.7,496.8 L918.7,497.4 L915.7,498.1 L912.6,498.8 L909.5,499.4 L906.5,500.1 L903.4,500.8 L900.3,501.4 L897.2,502.1 L894.1,502.8 L890.9,503.4 L887.8,504.1 L884.7,504.8 L881.6,505.5 L878.5,506.1 L875.3,506.8 L872.2,507.5 L869.1,508.2 L866.0,508.8 L862.9,509.5 L859.8,510.2 L856.7,510.8 L853.6,511.5 L850.5,512.2 L847.5,512.8 L844.4,513.5 L841.4,514.1 L838.3,514.8 L835.3,515.5 L832.3,516.1 L829.3,516.7 L826.4,517.4 L823.5,518.0 L820.5,518.7 L817.6,519.3 L814.8,519.9 L811.9,520.5 L809.1,521.1 L806.3,521.8 L803.5,522.4 L800.8,523.0 L798.1,523.5 L795.4,524.1 L792.7,524.7 L790.1,525.3 L787.5,525.8 L785.0,526.4 L782.5,527.0 L780.0,527.5 L776.5,528.3 L773.2,529.0 L769.9,529.7 L766.6,530.5 L763.4,531.2 L760.3,531.9 L757.2,532.5 L754.2,533.2 L751.2,533.9 L748.2,534.5 L745.3,535.2 L742.4,535.8 L739.6,536.5 L736.7,537.1 L733.9,537.8 L731.0,538.4 L728.2,539.0 L725.4,539.7 L722.6,540.3 L719.8,540.9 L716.9,541.6 L715.1,542.0"/>
<path d="M959.6,494.2 L823.3,539.1"/>
<path d="M976.8,494.2 L906.6,536.5"/>
<path d="M994.1,494.2 L985.5,530.5"/>
<path d="M1005.1,494.2 L1006.8,496.8 L1008.4,499.4 L1010.1,501.9 L1011.8,504.5 L1013.4,507.1 L1015.1,509.6 L1016.8,512.1 L1018.5,514.6 L1020.2,517.2 L1021.9,519.7 L1023.6,522.2 L1025.3,524.7 L1027.0,527.2 L1028.7,529.7 L1030.4,532.3 L1032.1,534.8 L1033.7,537.3 L1035.4,539.9 L1037.1,542.5 L1038.7,545.0 L1040.4,547.6 L1042.1,550.2 L1043.7,552.9 L1045.3,555.5 L1047.0,558.2 L1048.6,560.9 L1050.2,563.6 L1051.8,566.3 L1053.3,569.1 L1054.9,571.9 L1056.5,574.7 L1058.0,577.6 L1059.3,580.1 L1060.7,582.7 L1062.0,585.3 L1063.3,587.9 L1064.6,590.6 L1065.9,593.2 L1067.1,595.9 L1068.4,598.6 L1069.7,601.4 L1070.9,604.1 L1072.1,606.9 L1073.4,609.6 L1074.6,612.4 L1075.8,615.2 L1077.0,618.0 L1078.3,620.9 L1079.5,623.7 L1080.7,626.5 L1081.8,629.4 L1083.0,632.3 L1084.2,635.1 L1085.4,638.0 L1086.6,640.9 L1087.8,643.8 L1089.0,646.7 L1090.1,649.6 L1091.3,652.5 L1092.5,655.4 L1093.7,658.3 L1094.9,661.2 L1096.0,664.1 L1097.2,666.9 L1098.4,669.8 L1099.6,672.7 L1100.8,675.6 L1102.0,678.4 L1102.9,680.6"/>
<path d="M1014.8,494.2 L1017.4,495.8 L1019.9,497.4 L1022.5,498.9 L1025.0,500.5 L1027.5,502.1 L1030.1,503.7 L1032.6,505.3 L1035.1,506.9 L1037.6,508.5 L1040.1,510.1 L1042.7,511.7 L1045.2,513.2 L1047.7,514.8 L1050.2,516.4 L1052.7,518.0 L1055.3,519.6 L1057.8,521.2 L1060.3,522.8 L1062.9,524.4 L1065.4,525.9 L1068.0,527.5 L1070.5,529.1 L1073.1,530.7 L1075.7,532.3 L1078.3,533.8 L1080.9,535.4 L1083.5,537.0 L1086.1,538.5 L1088.8,540.1 L1091.4,541.6 L1094.1,543.2 L1096.8,544.8 L1099.5,546.3 L1102.1,547.8 L1104.6,549.2 L1107.2,550.7 L1109.8,552.1 L1112.4,553.6 L1115.1,555.1 L1117.7,556.5 L1120.4,558.0 L1123.0,559.5 L1125.7,560.9 L1128.4,562.4 L1131.1,563.9 L1133.8,565.3 L1136.5,566.8 L1139.3,568.2 L1142.0,569.7 L1144.7,571.2 L1147.5,572.6 L1150.2,574.0 L1153.0,575.5 L1155.7,576.9 L1158.5,578.4 L1161.2,579.8 L1164.0,581.2 L1166.7,582.6 L1169.5,584.0 L1172.2,585.4 L1175.0,586.8 L1177.7,588.1 L1180.5,589.5 L1183.2,590.9 L1185.9,592.2 L1188.7,593.5 L1191.4,594.9 L1194.1,596.2 L1196.8,597.5 L1199.5,598.7 L1202.2,600.0 L1205.0,601.3 L1207.9,602.6 L1210.7,603.9 L1213.5,605.1 L1216.3,606.4 L1219.1,607.6 L1221.9,608.8 L1224.6,610.0 L1227.4,611.2 L1230.2,612.3 L1233.0,613.5 L1235.7,614.6 L1238.5,615.8 L1241.3,616.9 L1244.1,618.0 L1246.8,619.1 L1249.6,620.2 L1252.4,621.3 L1255.2,622.5 L1258.0,623.6 L1260.8,624.7 L1263.6,625.8 L1266.4,626.9 L1269.2,628.1 L1272.0,629.2 L1274.9,630.3 L1277.7,631.5 L1280.6,632.7 L1283.4,633.8 L1286.3,635.0 L1289.2,636.3 L1292.1,637.5 L1295.1,638.7 L1298.0,640.0 L1300.7,641.2 L1303.3,642.3 L1306.0,643.5 L1308.7,644.7 L1311.5,645.9 L1314.2,647.1 L1316.9,648.3 L1319.7,649.5 L1322.4,650.7 L1325.2,651.9 L1327.9,653.2 L1330.7,654.4 L1333.5,655.7 L1336.3,656.9 L1339.1,658.2 L1341.9,659.4 L1344.7,660.7 L1347.5,661.9 L1350.3,663.2 L1353.2,664.5 L1356.0,665.8 L1358.8,667.0 L1361.7,668.3 L1364.5,669.6 L1367.3,670.9 L1370.2,672.2 L1373.0,673.5 L1375.8,674.8 L1378.7,676.0 L1381.5,677.3 L1384.4,678.6 L1387.2,679.9 L1390.0,681.2 L1392.9,682.5 L1395.7,683.7 L1398.5,685.0 L1401.4,686.3 L1403.5,687.3"/>
<path d="M1026.9,494.2 L1147.6,538.7"/>
<path d="M1042.4,494.2 L1236.7,541.7"/>
<path d="M1061.1,491.0 L1341.0,544.1"/>
<path d="M1193.7,494.2 L1190.4,530.3"/>
<path d="M1247.9,494.2 L1464.8,542.0"/>
<path d="M1764.4,494.2 L1588.6,539.9"/>
<path d="M1798.9,494.2 L1765.9,533.3"/>
<path d="M1814.4,494.2 L1831.5,531.4"/>
<path d="M1835.2,494.2 L1937.2,538.1"/>
<path d="M1869.2,483.7 L1872.3,484.1 L1875.3,484.5 L1878.4,484.9 L1881.5,485.2 L1884.7,485.6 L1887.8,486.0 L1891.0,486.3 L1894.1,486.7 L1897.3,487.0 L1900.4,487.3 L1903.6,487.7 L1906.8,488.0 L1909.9,488.4 L1913.1,488.7 L1916.3,489.0 L1919.4,489.4 L1922.6,489.7 L1925.7,490.1 L1928.8,490.4 L1932.0,490.8 L1935.1,491.2 L1938.1,491.6 L1941.2,492.0 L1944.3,492.4 L1947.3,492.8 L1950.3,493.2 L1953.3,493.7 L1956.2,494.2 L1959.1,494.7 L1962.0,495.2 L1964.9,495.7 L1967.7,496.2 L1970.5,496.8 L1973.3,497.4 L1976.0,498.0 L1979.3,498.8 L1982.5,499.5 L1985.8,500.3 L1989.0,501.1 L1992.3,501.9 L1995.5,502.8 L1998.8,503.6 L2002.0,504.5 L2005.1,505.3 L2008.3,506.2 L2011.4,507.2 L2014.4,508.1 L2017.4,509.1 L2020.4,510.0 L2023.2,511.0 L2026.0,512.1 L2028.8,513.1 L2031.5,514.2 L2034.0,515.3 L2036.5,516.4 L2038.9,517.6 L2041.2,518.8 L2043.4,520.0 L2045.5,521.2 L2048.7,523.3 L2052.0,525.4 L2055.0,527.6 L2058.0,529.9 L2060.7,532.2 L2063.1,534.6 L2065.1,537.0 L2066.8,539.5 L2068.0,541.9 L2068.7,544.4 L2068.8,547.2 L2068.3,550.0 L2067.2,552.9 L2065.7,555.8 L2063.8,558.8 L2061.7,561.7 L2059.4,564.7 L2057.1,567.6 L2055.5,569.5 L2053.9,571.4 L2052.1,573.4 L2050.2,575.4 L2048.3,577.4 L2046.2,579.3 L2044.1,581.3 L2041.8,583.3 L2039.5,585.3 L2037.1,587.3 L2034.6,589.3 L2032.0,591.2 L2029.3,593.2 L2026.5,595.1 L2023.6,597.0 L2020.7,598.8 L2017.7,600.6 L2014.6,602.4 L2012.5,603.6 L2010.2,604.7 L2008.0,605.9 L2005.6,607.0 L2003.2,608.1 L2000.7,609.3 L1998.1,610.4 L1995.5,611.5 L1992.8,612.6 L1990.1,613.7 L1987.3,614.8 L1984.5,615.8 L1981.6,616.9 L1978.7,617.9 L1975.8,619.0 L1972.8,620.0 L1969.8,621.0 L1966.8,622.1 L1963.7,623.1 L1960.6,624.1 L1957.5,625.1 L1954.4,626.0 L1951.3,627.0 L1948.2,628.0 L1945.1,628.9 L1942.0,629.9 L1938.8,630.8 L1935.7,631.7 L1932.6,632.6 L1929.5,633.5 L1926.4,634.4 L1923.4,635.3 L1920.3,636.2 L1917.3,637.1 L1914.4,637.9 L1911.4,638.8 L1908.5,639.6 L1905.6,640.5 L1902.8,641.3 L1900.0,642.1 L1897.0,643.0 L1894.0,643.8 L1891.0,644.7 L1888.0,645.5 L1885.0,646.3 L1882.1,647.2 L1879.1,647.9 L1876.2,648.7 L1873.3,649.5 L1870.4,650.2 L1867.5,651.0 L1864.6,651.7 L1861.7,652.4 L1858.8,653.1 L1855.9,653.8 L1853.0,654.5 L1850.1,655.2 L1847.2,655.9 L1844.3,656.6 L1841.4,657.2 L1838.6,657.9 L1835.7,658.5 L1832.8,659.2 L1829.8,659.8 L1826.9,660.4 L1824.0,661.1 L1821.1,661.7 L1818.1,662.3 L1815.2,662.9 L1812.2,663.6 L1809.2,664.2 L1806.2,664.8 L1803.2,665.4 L1800.3,666.0 L1797.4,666.6 L1794.5,667.1 L1791.5,667.7 L1788.6,668.3 L1785.6,668.9 L1782.7,669.4 L1779.7,670.0 L1776.7,670.5 L1773.8,671.1 L1770.8,671.6 L1767.8,672.1 L1764.8,672.6 L1761.8,673.2 L1758.8,673.7 L1755.8,674.2 L1752.8,674.7 L1749.8,675.2 L1746.8,675.7 L1743.8,676.2 L1740.7,676.7 L1737.7,677.2 L1734.7,677.6 L1731.7,678.1 L1728.7,678.6 L1725.6,679.0 L1722.6,679.5 L1719.6,680.0 L1716.6,680.4 L1713.6,680.8 L1710.5,681.3 L1707.5,681.7 L1704.5,682.1 L1701.5,682.6 L1698.5,683.0 L1695.5,683.4 L1692.5,683.8 L1689.5,684.2 L1686.5,684.6 L1683.5,685.0 L1680.4,685.4 L1677.4,685.8 L1674.4,686.1 L1671.3,686.5 L1668.3,686.9 L1665.2,687.2 L1662.2,687.6 L1659.1,688.0 L1656.1,688.3 L1653.0,688.6 L1650.0,689.0 L1646.9,689.3 L1643.9,689.6 L1640.9,690.0 L1637.8,690.3 L1634.8,690.6 L1631.8,690.9 L1628.7,691.2 L1625.7,691.5 L1622.7,691.8 L1619.7,692.1 L1616.8,692.4 L1613.8,692.7 L1610.8,692.9 L1607.9,693.2 L1605.0,693.5 L1602.0,693.7 L1599.1,694.0 L1596.2,694.3 L1593.4,694.5 L1590.5,694.8 L1587.7,695.0 L1584.4,695.3 L1581.1,695.5 L1577.8,695.8 L1574.4,696.1 L1570.9,696.3 L1567.5,696.5 L1564.0,696.8 L1560.5,697.0 L1557.0,697.2 L1553.6,697.5 L1550.1,697.7 L1546.7,697.9 L1543.3,698.1 L1539.9,698.3 L1536.6,698.5 L1533.4,698.6 L1530.2,698.8 L1527.1,699.0 L1524.1,699.2 L1521.2,699.3 L1518.4,699.5 L1515.7,699.6 L1513.2,699.8 L1510.7,699.9 L1508.4,700.0 L1506.2,700.2 L1504.2,700.3 L1502.4,700.4 L1501.4,700.5"/>
<path d="M1529.3,569.0 L1535.6,604.7"/>
<path d="M1467.2,567.7 L1464.2,568.0 L1461.1,568.3 L1458.1,568.6 L1455.0,568.9 L1452.0,569.2 L1448.9,569.5 L1445.9,569.8 L1442.8,570.1 L1439.7,570.4 L1436.7,570.7 L1433.6,571.0 L1430.6,571.3 L1427.5,571.6 L1424.4,571.9 L1421.4,572.2 L1418.3,572.5 L1415.2,572.8 L1412.2,573.1 L1409.1,573.4 L1406.0,573.7 L1403.0,574.0 L1399.9,574.3 L1396.8,574.6 L1393.8,574.9 L1390.7,575.2 L1387.6,575.5 L1384.6,575.8 L1381.5,576.1 L1378.4,576.4 L1375.4,576.7 L1372.3,577.0 L1369.3,577.3 L1366.2,577.6 L1363.2,577.9 L1360.1,578.2 L1357.1,578.5 L1354.1,578.8 L1351.0,579.1 L1348.0,579.4 L1344.9,579.7 L1341.9,580.0 L1338.9,580.3 L1335.9,580.6 L1332.9,580.9 L1329.9,581.2 L1326.8,581.4 L1323.8,581.7 L1320.8,582.0 L1317.8,582.3 L1314.9,582.6 L1311.9,582.9 L1308.9,583.2 L1305.9,583.4 L1303.0,583.7 L1300.0,584.0 L1296.9,584.3 L1293.9,584.6 L1290.9,584.9 L1287.9,585.2 L1285.0,585.4 L1282.0,585.7 L1279.1,586.0 L1276.3,586.3 L1273.4,586.6 L1270.6,586.8 L1267.7,587.1 L1264.9,587.4 L1262.1,587.7 L1259.3,588.0 L1256.5,588.2 L1253.7,588.5 L1251.0,588.8 L1248.2,589.1 L1245.4,589.3 L1242.6,589.6 L1239.8,589.9 L1237.1,590.1 L1234.3,590.4 L1231.5,590.7 L1228.7,591.0 L1225.9,591.2 L1223.0,591.5 L1220.2,591.8 L1217.3,592.0 L1214.4,592.3 L1211.5,592.6 L1208.6,592.8 L1205.6,593.1 L1202.7,593.4 L1199.7,593.7 L1196.6,593.9 L1193.6,594.2 L1190.5,594.5 L1187.3,594.7 L1184.2,595.0 L1180.9,595.3 L1177.7,595.5 L1174.4,595.8 L1171.1,596.1 L1167.7,596.3 L1164.2,596.6 L1160.8,596.9 L1157.2,597.2 L1153.6,597.4 L1150.0,597.7 L1147.6,597.9 L1145.3,598.0 L1142.9,598.2 L1140.4,598.4 L1138.0,598.6 L1135.5,598.8 L1133.0,598.9 L1130.4,599.1 L1127.9,599.3 L1125.3,599.5 L1122.7,599.7 L1120.0,599.8 L1117.4,600.0 L1114.7,600.2 L1112.0,600.4 L1109.3,600.6 L1106.5,600.7 L1103.7,600.9 L1101.0,601.1 L1098.1,601.3 L1095.3,601.5 L1092.5,601.7 L1089.6,601.9 L1086.7,602.0 L1083.8,602.2 L1080.9,602.4 L1078.0,602.6 L1075.0,602.8 L1072.0,603.0 L1069.1,603.2 L1066.0,603.4 L1063.0,603.5 L1060.0,603.7 L1057.0,603.9 L1053.9,604.1 L1050.8,604.3 L1047.7,604.5 L1044.6,604.7 L1041.5,604.9 L1038.4,605.0 L1035.3,605.2 L1032.1,605.4 L1029.0,605.6 L1025.8,605.8 L1022.6,606.0 L1019.4,606.2 L1016.3,606.4 L1013.1,606.6 L1009.8,606.7 L1006.6,606.9 L1003.4,607.1 L1000.2,607.3 L996.9,607.5 L993.7,607.7 L990.4,607.9 L987.2,608.1 L983.9,608.2 L980.7,608.4 L977.4,608.6 L974.1,608.8 L970.9,609.0 L967.6,609.2 L964.3,609.3 L961.0,609.5 L957.8,609.7 L954.5,609.9 L951.2,610.1 L947.9,610.3 L944.6,610.4 L941.4,610.6 L938.1,610.8 L934.8,611.0 L931.5,611.2 L928.3,611.3 L925.0,611.5 L921.7,611.7 L918.5,611.9 L915.2,612.0 L912.0,612.2 L908.7,612.4 L905.5,612.6 L902.3,612.7 L899.0,612.9 L895.8,613.1 L892.6,613.3 L889.4,613.4 L886.2,613.6 L883.0,613.8 L879.8,613.9 L876.7,614.1 L873.5,614.3 L870.3,614.4 L867.2,614.6 L864.1,614.8 L861.0,614.9 L857.8,615.1 L854.7,615.2 L851.7,615.4 L848.6,615.6 L845.5,615.7 L842.5,615.9 L839.5,616.0 L836.5,616.2 L833.5,616.3 L830.5,616.5 L827.5,616.6 L824.6,616.8 L821.6,616.9 L818.7,617.1 L815.8,617.2 L813.0,617.4 L810.1,617.5 L807.3,617.7 L804.4,617.8 L801.6,617.9 L798.9,618.1 L796.1,618.2 L793.4,618.3 L790.6,618.5 L787.9,618.6 L785.3,618.7 L782.6,618.9 L780.0,619.0 L776.6,619.2 L773.2,619.3 L769.8,619.5 L766.4,619.6 L763.1,619.8 L759.8,620.0 L756.5,620.1 L753.2,620.3 L750.0,620.4 L746.7,620.6 L743.5,620.7 L740.3,620.8 L737.1,621.0 L733.9,621.1 L730.8,621.2 L727.6,621.4 L724.5,621.5 L721.4,621.6 L718.3,621.8 L715.2,621.9 L712.1,622.0 L709.0,622.1 L706.0,622.3 L702.9,622.4 L699.9,622.5 L696.9,622.6 L693.9,622.8 L690.9,622.9 L687.9,623.0 L684.9,623.1 L681.9,623.2 L679.0,623.3 L676.0,623.4 L673.1,623.5 L670.1,623.7 L667.2,623.8 L664.2,623.9 L661.3,624.0 L658.4,624.1 L655.5,624.2 L652.6,624.3 L649.7,624.4 L646.7,624.5 L643.8,624.6 L640.9,624.7 L638.0,624.8 L635.1,624.9 L632.2,625.0 L629.3,625.2 L626.4,625.3 L623.5,625.4 L620.6,625.5 L617.7,625.6 L614.8,625.7 L611.9,625.8 L609.0,625.9 L606.0,626.0 L603.1,626.1 L600.2,626.2 L597.3,626.3 L594.3,626.4 L591.4,626.5 L588.4,626.7 L585.5,626.8 L582.5,626.9 L579.5,627.0 L576.5,627.1 L574.5,627.2"/>
<path d="M1467.2,569.0 L1464.3,569.5 L1461.5,570.1 L1458.8,570.6 L1456.2,571.1 L1453.6,571.6 L1451.1,572.1 L1448.6,572.6 L1446.2,573.1 L1443.7,573.6 L1441.1,574.1 L1438.6,574.6 L1435.9,575.1 L1433.2,575.7 L1430.4,576.2 L1427.4,576.7 L1424.3,577.3 L1421.0,577.9 L1417.6,578.5 L1413.9,579.1 L1410.0,579.7 L1405.9,580.3 L1401.5,581.0 L1400.0,581.2 L1398.5,581.4 L1397.0,581.7 L1395.4,581.9 L1393.8,582.1 L1392.1,582.4 L1390.4,582.6 L1388.7,582.9 L1387.0,583.1 L1385.2,583.4 L1383.4,583.6 L1381.6,583.9 L1379.7,584.1 L1377.9,584.4 L1375.9,584.6 L1374.0,584.9 L1372.0,585.2 L1370.0,585.4 L1368.0,585.7 L1365.9,586.0 L1363.8,586.3 L1361.7,586.5 L1359.5,586.8 L1357.4,587.1 L1355.2,587.4 L1352.9,587.7 L1350.7,588.0 L1348.4,588.3 L1346.1,588.6 L1343.8,588.9 L1341.4,589.2 L1339.0,589.5 L1336.6,589.8 L1334.2,590.1 L1331.7,590.4 L1329.3,590.7 L1326.8,591.0 L1324.2,591.3 L1321.7,591.7 L1319.1,592.0 L1316.5,592.3 L1313.9,592.6 L1311.3,593.0 L1308.6,593.3 L1305.9,593.6 L1303.2,594.0 L1300.5,594.3 L1297.8,594.6 L1295.0,595.0 L1292.2,595.3 L1289.4,595.6 L1286.6,596.0 L1283.7,596.3 L1280.9,596.7 L1278.0,597.0 L1275.1,597.4 L1272.2,597.7 L1269.2,598.1 L1266.3,598.4 L1263.3,598.8 L1260.3,599.2 L1257.3,599.5 L1254.3,599.9 L1251.3,600.2 L1248.2,600.6 L1245.1,601.0 L1242.0,601.3 L1238.9,601.7 L1235.8,602.1 L1232.7,602.4 L1229.6,602.8 L1226.4,603.2 L1223.2,603.6 L1220.0,603.9 L1216.8,604.3 L1213.6,604.7 L1210.4,605.1 L1207.2,605.5 L1203.9,605.8 L1200.6,606.2 L1197.4,606.6 L1194.1,607.0 L1190.8,607.4 L1187.5,607.8 L1184.2,608.1 L1180.8,608.5 L1177.5,608.9 L1174.1,609.3 L1170.8,609.7 L1167.4,610.1 L1164.0,610.5 L1160.6,610.9 L1157.2,611.3 L1153.8,611.7 L1150.4,612.1 L1147.0,612.5 L1143.6,612.9 L1140.1,613.3 L1136.7,613.7 L1133.3,614.1 L1129.8,614.5 L1126.3,614.9 L1122.9,615.3 L1119.4,615.7 L1115.9,616.1 L1112.5,616.5 L1109.0,616.9 L1105.5,617.3 L1102.0,617.7 L1098.5,618.1 L1095.0,618.5 L1091.5,618.9 L1088.0,619.3 L1084.4,619.7 L1080.9,620.1 L1077.4,620.5 L1073.9,620.9 L1070.4,621.3 L1066.9,621.7 L1063.3,622.1 L1059.8,622.5 L1056.3,622.9 L1052.8,623.3 L1049.2,623.7 L1045.7,624.2 L1042.2,624.6 L1038.6,625.0 L1035.1,625.4 L1031.6,625.8 L1028.1,626.2 L1024.6,626.6 L1021.0,627.0 L1017.5,627.4 L1014.0,627.8 L1010.5,628.2 L1007.0,628.6 L1003.5,629.0 L1000.0,629.4 L996.5,629.8 L993.0,630.2 L989.5,630.6 L986.0,631.0 L982.6,631.4 L979.1,631.8 L975.6,632.2 L972.2,632.6 L968.7,633.0 L965.2,633.4 L961.8,633.8 L958.4,634.2 L954.9,634.6 L951.5,635.0 L948.1,635.4 L944.7,635.8 L941.3,636.2 L937.9,636.6 L934.5,637.0 L931.2,637.4 L927.8,637.8 L924.4,638.1 L921.1,638.5 L917.8,638.9 L914.4,639.3 L911.1,639.7 L907.8,640.1 L904.5,640.5 L901.3,640.8 L898.0,641.2 L894.7,641.6 L891.5,642.0 L888.3,642.4 L885.0,642.7 L881.8,643.1 L878.7,643.5 L875.5,643.9 L872.3,644.2 L869.2,644.6 L866.0,645.0 L862.9,645.3 L859.8,645.7 L856.7,646.1 L853.6,646.4 L850.6,646.8 L847.5,647.2 L844.5,647.5 L841.5,647.9 L838.5,648.2 L835.5,648.6 L832.6,648.9 L829.6,649.3 L826.7,649.6 L823.8,650.0 L820.9,650.3 L818.0,650.7 L815.2,651.0 L812.4,651.4 L809.6,651.7 L806.8,652.0 L804.0,652.4 L801.2,652.7 L798.5,653.0 L795.8,653.4 L793.1,653.7 L790.4,654.0 L787.8,654.3 L785.2,654.7 L782.6,655.0 L780.0,655.3 L776.6,655.7 L773.2,656.1 L769.8,656.6 L766.5,657.0 L763.1,657.4 L759.8,657.8 L756.5,658.2 L753.2,658.6 L749.9,659.0 L746.6,659.4 L743.3,659.9 L740.1,660.3 L736.8,660.7 L733.6,661.1 L730.4,661.5 L727.2,661.9 L724.0,662.3 L720.8,662.7 L717.6,663.1 L714.4,663.5 L711.3,663.9 L708.1,664.3 L705.0,664.7 L701.9,665.0 L698.8,665.4 L695.6,665.8 L692.6,666.2 L689.5,666.6 L686.4,667.0 L683.3,667.4 L680.3,667.8 L677.2,668.2 L674.2,668.5 L671.1,668.9 L668.1,669.3 L665.1,669.7 L662.1,670.1 L659.1,670.5 L656.1,670.8 L653.1,671.2 L650.1,671.6 L647.2,672.0 L644.2,672.4 L641.2,672.7 L638.3,673.1 L635.3,673.5 L632.4,673.9 L629.4,674.2 L626.5,674.6 L623.6,675.0 L620.7,675.4 L617.8,675.7 L614.8,676.1 L611.9,676.5 L609.0,676.9 L606.1,677.2 L603.3,677.6 L600.4,678.0 L597.5,678.3 L594.6,678.7 L591.7,679.1 L588.8,679.5 L586.0,679.8 L583.1,680.2 L580.2,680.6 L577.4,680.9 L574.5,681.3 L571.7,681.7 L568.8,682.0 L565.9,682.4 L563.1,682.8 L560.2,683.1 L557.4,683.5 L554.5,683.9 L551.7,684.2 L548.8,684.6 L546.0,685.0 L543.1,685.3 L540.3,685.7 L537.5,686.1 L534.6,686.4 L531.8,686.8 L528.9,687.2 L526.1,687.5 L523.2,687.9 L520.4,688.3 L517.5,688.6 L514.6,689.0 L511.8,689.4 L508.9,689.8 L506.1,690.1 L503.2,690.5 L500.3,690.9 L497.5,691.2 L494.6,691.6 L491.7,692.0 L488.9,692.3 L486.0,692.7 L483.1,693.1 L480.2,693.4 L477.3,693.8 L474.4,694.2 L471.5,694.6 L468.6,694.9 L465.7,695.3 L462.8,695.7 L459.9,696.1 L457.0,696.4 L454.0,696.8 L451.1,697.2 L448.2,697.6 L445.2,697.9 L442.3,698.3 L440.3,698.6"/>
<path d="M1375.6,569.0 L1147.3,686.6"/>
<path d="M497.2,643.3 L427.2,685.8"/>
<path d="M522.1,643.3 L544.3,681.4"/>
<path d="M561.5,637.2 L564.5,637.6 L567.5,637.9 L570.5,638.3 L573.4,638.6 L576.4,639.0 L579.4,639.4 L582.3,639.7 L585.3,640.1 L588.2,640.4 L591.1,640.8 L594.1,641.1 L597.0,641.5 L600.0,641.8 L602.9,642.2 L605.8,642.6 L608.7,642.9 L611.7,643.3 L614.6,643.6 L617.5,644.0 L620.4,644.3 L623.3,644.7 L626.2,645.0 L629.1,645.4 L632.1,645.7 L635.0,646.1 L637.9,646.4 L640.8,646.8 L643.7,647.1 L646.6,647.5 L649.5,647.8 L652.5,648.2 L655.4,648.5 L658.3,648.9 L661.2,649.2 L664.2,649.6 L667.1,649.9 L670.0,650.3 L673.0,650.7 L675.9,651.0 L678.8,651.4 L681.8,651.7 L684.7,652.1 L687.7,652.4 L690.7,652.8 L693.6,653.2 L696.6,653.5 L699.6,653.9 L702.6,654.2 L705.6,654.6 L708.6,655.0 L711.6,655.3 L714.6,655.7 L717.6,656.1 L720.6,656.4 L723.7,656.8 L726.7,657.2 L729.8,657.5 L732.8,657.9 L735.9,658.3 L739.0,658.6 L742.1,659.0 L745.2,659.4 L748.3,659.8 L751.4,660.1 L754.5,660.5 L757.7,660.9 L760.8,661.3 L764.0,661.7 L767.2,662.0 L770.4,662.4 L773.6,662.8 L776.8,663.2 L780.0,663.6 L782.8,663.9 L785.5,664.3 L788.3,664.6 L791.1,664.9 L793.8,665.3 L796.6,665.6 L799.4,666.0 L802.3,666.3 L805.1,666.6 L807.9,667.0 L810.7,667.3 L813.6,667.7 L816.4,668.0 L819.3,668.4 L822.2,668.7 L825.0,669.1 L827.9,669.4 L830.8,669.8 L833.7,670.1 L836.6,670.5 L839.5,670.8 L842.4,671.2 L845.4,671.5 L848.3,671.9 L851.2,672.2 L854.2,672.6 L857.1,673.0 L860.1,673.3 L863.0,673.7 L866.0,674.0 L869.0,674.4 L871.9,674.7 L874.9,675.1 L877.9,675.5 L880.9,675.8 L883.9,676.2 L886.9,676.6 L889.9,676.9 L892.9,677.3 L895.9,677.7 L898.9,678.0 L901.9,678.4 L905.0,678.8 L908.0,679.1 L911.0,679.5 L914.0,679.9 L917.1,680.2 L920.1,680.6 L923.2,681.0 L926.2,681.3 L929.2,681.7 L932.3,682.1 L935.3,682.4 L938.4,682.8 L941.4,683.2 L944.5,683.6 L947.6,683.9 L950.6,684.3 L953.7,684.7 L956.7,685.0 L959.8,685.4 L962.9,685.8 L965.9,686.2 L969.0,686.5 L972.1,686.9 L975.1,687.3 L978.2,687.7 L981.2,688.0 L984.3,688.4 L987.4,688.8 L990.4,689.1 L993.5,689.5 L996.6,689.9 L999.6,690.3 L1002.7,690.6 L1005.8,691.0 L1008.8,691.4 L1011.9,691.7 L1014.9,692.1 L1018.0,692.5 L1021.0,692.9 L1024.1,693.2 L1027.1,693.6 L1030.2,694.0 L1033.2,694.3 L1036.3,694.7 L1039.3,695.1 L1042.3,695.4 L1045.4,695.8 L1048.4,696.2 L1051.4,696.5 L1054.5,696.9 L1057.5,697.3 L1060.5,697.6 L1063.5,698.0 L1066.5,698.4 L1068.6,698.6"/>
<path d="M561.5,635.5 L564.5,635.7 L567.4,636.0 L570.4,636.2 L573.3,636.4 L576.2,636.7 L579.1,636.9 L582.0,637.1 L584.8,637.3 L587.7,637.6 L590.5,637.8 L593.3,638.0 L596.2,638.2 L599.0,638.4 L601.7,638.7 L604.5,638.9 L607.3,639.1 L610.1,639.3 L612.8,639.5 L615.6,639.8 L618.3,640.0 L621.1,640.2 L623.8,640.4 L626.5,640.6 L629.3,640.8 L632.0,641.0 L634.8,641.3 L637.5,641.5 L640.2,641.7 L643.0,641.9 L645.7,642.1 L648.5,642.3 L651.2,642.6 L654.0,642.8 L656.8,643.0 L659.6,643.2 L662.4,643.4 L665.2,643.7 L668.0,643.9 L670.8,644.1 L673.6,644.3 L676.5,644.5 L679.4,644.8 L682.2,645.0 L685.1,645.2 L688.0,645.5 L691.0,645.7 L693.9,645.9 L696.9,646.2 L699.9,646.4 L702.9,646.6 L705.9,646.9 L709.0,647.1 L712.1,647.3 L715.2,647.6 L718.3,647.8 L721.5,648.1 L724.6,648.3 L727.8,648.6 L731.1,648.8 L734.4,649.1 L737.7,649.4 L741.0,649.6 L744.4,649.9 L747.8,650.2 L751.2,650.4 L754.7,650.7 L758.2,651.0 L761.7,651.3 L765.3,651.5 L768.9,651.8 L772.6,652.1 L776.3,652.4 L780.0,652.7 L782.2,652.9 L784.5,653.1 L786.7,653.2 L789.0,653.4 L791.3,653.6 L793.6,653.8 L795.9,654.0 L798.3,654.1 L800.6,654.3 L803.0,654.5 L805.4,654.7 L807.8,654.9 L810.2,655.1 L812.6,655.3 L815.0,655.5 L817.4,655.7 L819.9,655.8 L822.4,656.0 L824.8,656.2 L827.3,656.4 L829.8,656.6 L832.4,656.8 L834.9,657.0 L837.4,657.2 L840.0,657.4 L842.6,657.6 L845.1,657.8 L847.7,658.0 L850.3,658.3 L853.0,658.5 L855.6,658.7 L858.2,658.9 L860.9,659.1 L863.5,659.3 L866.2,659.5 L868.9,659.7 L871.6,659.9 L874.3,660.1 L877.0,660.4 L879.7,660.6 L882.5,660.8 L885.2,661.0 L888.0,661.2 L890.7,661.4 L893.5,661.7 L896.3,661.9 L899.1,662.1 L901.9,662.3 L904.7,662.5 L907.5,662.8 L910.4,663.0 L913.2,663.2 L916.1,663.4 L918.9,663.7 L921.8,663.9 L924.7,664.1 L927.6,664.4 L930.5,664.6 L933.4,664.8 L936.3,665.0 L939.2,665.3 L942.2,665.5 L945.1,665.7 L948.0,666.0 L951.0,666.2 L954.0,666.4 L956.9,666.7 L959.9,666.9 L962.9,667.1 L965.9,667.4 L968.9,667.6 L971.9,667.9 L974.9,668.1 L977.9,668.3 L981.0,668.6 L984.0,668.8 L987.1,669.1 L990.1,669.3 L993.2,669.5 L996.2,669.8 L999.3,670.0 L1002.4,670.3 L1005.4,670.5 L1008.5,670.8 L1011.6,671.0 L1014.7,671.2 L1017.8,671.5 L1020.9,671.7 L1024.0,672.0 L1027.2,672.2 L1030.3,672.5 L1033.4,672.7 L1036.6,673.0 L1039.7,673.2 L1042.8,673.5 L1046.0,673.7 L1049.1,674.0 L1052.3,674.2 L1055.5,674.5 L1058.6,674.7 L1061.8,675.0 L1065.0,675.2 L1068.2,675.5 L1071.3,675.7 L1074.5,676.0 L1077.7,676.2 L1080.9,676.5 L1084.1,676.7 L1087.3,677.0 L1090.5,677.2 L1093.7,677.5 L1096.9,677.7 L1100.1,678.0 L1103.3,678.2 L1106.6,678.5 L1109.8,678.8 L1113.0,679.0 L1116.2,679.3 L1119.5,679.5 L1122.7,679.8 L1125.9,680.0 L1129.1,680.3 L1132.4,680.5 L1135.6,680.8 L1138.9,681.1 L1142.1,681.3 L1145.3,681.6 L1148.6,681.8 L1151.8,682.1 L1155.1,682.3 L1158.3,682.6 L1161.6,682.9 L1164.8,683.1 L1168.0,683.4 L1171.3,683.6 L1174.5,683.9 L1177.8,684.1 L1181.0,684.4 L1184.3,684.6 L1187.5,684.9 L1190.8,685.2 L1194.0,685.4 L1197.3,685.7 L1200.5,685.9 L1203.8,686.2 L1207.0,686.4 L1210.3,686.7 L1213.5,687.0 L1216.7,687.2 L1220.0,687.5 L1223.2,687.7 L1226.5,688.0 L1229.7,688.2 L1232.9,688.5 L1236.2,688.8 L1239.4,689.0 L1242.6,689.3 L1245.9,689.5 L1249.1,689.8 L1252.3,690.0 L1255.5,690.3 L1258.8,690.5 L1262.0,690.8 L1265.2,691.0 L1268.4,691.3 L1271.6,691.6 L1274.8,691.8 L1278.0,692.1 L1281.2,692.3 L1284.4,692.6 L1287.6,692.8 L1290.8,693.1 L1294.0,693.3 L1297.2,693.6 L1300.4,693.8 L1303.5,694.1 L1306.7,694.3 L1309.9,694.6 L1313.0,694.8 L1316.2,695.1 L1319.4,695.3 L1322.5,695.6 L1325.7,695.8 L1328.8,696.1 L1331.9,696.3 L1335.1,696.6 L1338.2,696.8 L1341.3,697.1 L1344.4,697.3 L1347.5,697.6 L1350.6,697.8 L1353.7,698.0 L1356.8,698.3 L1359.9,698.5 L1363.0,698.8 L1366.1,699.0 L1369.2,699.3 L1372.2,699.5 L1375.3,699.7 L1378.3,700.0 L1381.4,700.2 L1384.4,700.5 L1387.4,700.7 L1389.5,700.9"/>
<polygon points="364.5,704.7 351.3,708.5 351.8,699.4"/>
<polygon points="1005.5,180.8 992.4,185.3 992.6,176.1"/>
<polygon points="426.2,99.5 438.8,94.0 439.5,103.1"/>
<polygon points="609.9,96.5 622.2,90.2 623.4,99.3"/>
<polygon points="725.1,96.5 737.2,89.9 738.7,99.0"/>
<polygon points="840.8,95.5 852.7,88.5 854.4,97.6"/>
<polygon points="952.0,95.2 963.3,87.3 965.8,96.2"/>
<polygon points="1080.4,95.0 1089.5,84.7 1094.0,92.7"/>
<polygon points="1204.0,95.0 1199.4,82.0 1208.6,82.0"/>
<polygon points="1318.7,95.0 1305.2,92.3 1309.9,84.4"/>
<polygon points="1434.4,95.0 1420.6,95.7 1423.2,86.9"/>
<polygon points="1545.5,96.0 1531.8,97.9 1533.7,88.9"/>
<polygon points="1657.3,96.7 1643.7,99.2 1645.2,90.2"/>
<polygon points="1816.2,96.7 1802.7,99.4 1804.0,90.3"/>
<polygon points="2170.1,98.4 2156.7,101.5 2157.7,92.3"/>
<polygon points="2285.5,96.7 2272.1,100.0 2273.0,90.8"/>
<polygon points="1577.0,628.0 1589.9,623.1 1590.1,632.3"/>
<polygon points="1005.5,177.9 992.1,181.0 993.1,171.9"/>
<polygon points="210.6,169.6 221.3,160.8 224.4,169.5"/>
<polygon points="155.4,244.3 165.0,234.4 169.1,242.6"/>
<polygon points="360.8,169.6 359.6,155.9 368.5,158.2"/>
<polygon points="312.5,244.3 323.5,236.0 326.3,244.8"/>
<polygon points="1005.5,175.4 992.0,178.3 993.2,169.2"/>
<polygon points="1005.5,173.5 991.9,175.5 993.6,166.5"/>
<polygon points="1016.0,169.6 1002.2,170.6 1004.7,161.7"/>
<polygon points="1033.9,169.6 1020.2,168.2 1024.1,159.9"/>
<polygon points="1057.0,169.6 1052.4,156.6 1061.6,156.6"/>
<polygon points="1081.1,170.0 1090.7,160.1 1094.8,168.3"/>
<polygon points="1102.3,170.0 1113.7,162.3 1116.0,171.2"/>
<polygon points="1108.8,173.0 1120.9,166.4 1122.4,175.4"/>
<polygon points="1108.8,175.5 1121.3,169.6 1122.2,178.7"/>
<polygon points="1108.8,177.5 1121.3,171.7 1122.2,180.9"/>
<polygon points="1108.8,180.0 1121.6,174.8 1122.0,184.0"/>
<polygon points="1860.0,169.6 1855.4,156.6 1864.6,156.6"/>
<polygon points="538.5,243.4 550.9,237.4 551.9,246.5"/>
<polygon points="1092.5,244.3 1082.0,235.4 1089.9,230.8"/>
<polygon points="364.5,704.7 351.1,707.9 352.0,698.8"/>
<polygon points="129.5,319.0 124.2,306.3 133.4,305.8"/>
<polygon points="211.3,319.0 198.1,315.1 203.4,307.7"/>
<polygon points="291.8,319.0 278.0,318.9 281.2,310.2"/>
<polygon points="155.4,319.0 164.7,308.9 169.0,317.0"/>
<polygon points="234.8,319.0 237.3,305.4 245.3,310.1"/>
<polygon points="262.4,319.0 273.3,310.6 276.2,319.3"/>
<polygon points="341.9,319.0 350.8,308.5 355.5,316.5"/>
<polygon points="396.0,692.6 391.4,679.6 400.6,679.6"/>
<polygon points="505.9,617.5 494.4,609.9 501.7,604.4"/>
<polygon points="914.7,319.0 925.7,310.6 928.5,319.4"/>
<polygon points="1002.7,468.4 1003.9,454.7 1012.3,458.5"/>
<polygon points="1101.1,393.8 1096.5,380.8 1105.7,380.8"/>
<polygon points="1189.2,468.4 1180.1,458.1 1188.6,454.6"/>
<polygon points="1325.6,393.8 1312.1,390.8 1317.0,383.0"/>
<polygon points="1773.0,468.4 1759.2,468.9 1762.0,460.1"/>
<polygon points="859.4,393.8 858.3,380.1 867.2,382.4"/>
<polygon points="521.0,617.5 519.5,603.8 528.5,605.9"/>
<polygon points="1161.6,468.4 1147.8,467.6 1151.4,459.2"/>
<polygon points="525.0,617.5 528.1,604.1 535.9,609.0"/>
<polygon points="975.1,468.4 961.4,466.7 965.5,458.5"/>
<polygon points="1141.0,468.6 1127.3,470.4 1129.2,461.4"/>
<polygon points="1014.8,468.4 1022.8,457.2 1028.1,464.7"/>
<polygon points="1171.9,543.2 1158.9,538.5 1164.8,531.4"/>
<polygon points="1220.3,468.4 1229.8,458.4 1234.0,466.6"/>
<polygon points="1204.7,543.2 1212.0,531.5 1217.7,538.7"/>
<polygon points="1294.5,543.2 1294.5,529.4 1303.1,532.5"/>
<polygon points="1394.6,543.2 1385.5,532.8 1394.0,529.4"/>
<polygon points="1144.6,701.9 1157.2,696.2 1157.9,705.4"/>
<polygon points="1488.4,703.1 1501.1,697.7 1501.7,706.9"/>
<polygon points="561.1,692.6 559.7,678.9 568.6,681.0"/>
<polygon points="702.4,544.8 714.1,537.5 716.1,546.5"/>
<polygon points="811.0,543.2 821.9,534.8 824.8,543.5"/>
<polygon points="895.5,543.2 904.3,532.5 909.0,540.4"/>
<polygon points="982.5,543.2 981.0,529.5 990.0,531.6"/>
<polygon points="1108.0,692.6 1098.7,682.4 1107.1,678.8"/>
<polygon points="1415.4,692.6 1401.7,691.5 1405.4,683.1"/>
<polygon points="1159.8,543.2 1146.0,543.0 1149.2,534.4"/>
<polygon points="1249.3,544.8 1235.6,546.2 1237.8,537.2"/>
<polygon points="1353.8,546.5 1340.2,548.6 1341.9,539.6"/>
<polygon points="1189.2,543.2 1185.8,529.8 1195.0,530.7"/>
<polygon points="1477.5,544.8 1463.8,546.5 1465.8,537.5"/>
<polygon points="1576.0,543.2 1587.4,535.5 1589.7,544.4"/>
<polygon points="1757.5,543.2 1762.4,530.3 1769.4,536.2"/>
<polygon points="1836.9,543.2 1827.3,533.3 1835.7,529.5"/>
<polygon points="1949.1,543.2 1935.3,542.3 1939.0,533.8"/>
<polygon points="1488.4,701.3 1501.1,695.9 1501.7,705.1"/>
<polygon points="1537.9,617.5 1531.1,605.5 1540.2,603.9"/>
<polygon points="561.5,627.7 574.3,622.6 574.7,631.8"/>
<polygon points="427.4,700.2 439.7,694.0 440.9,703.1"/>
<polygon points="1135.7,692.6 1145.1,682.6 1149.4,690.7"/>
<polygon points="416.1,692.6 424.8,681.9 429.6,689.8"/>
<polygon points="550.8,692.6 540.3,683.7 548.2,679.1"/>
<polygon points="1081.5,700.2 1068.0,703.2 1069.1,694.1"/>
<polygon points="1402.5,701.9 1389.2,705.5 1389.9,696.3"/>
</g>
<g class="n">
<rect x="1096.90" y="5.45" width="213.80" height="40.50" style="fill:#bfbfbf" stroke="#000000"/>
<rect x="328.60" y="95.45" width="97.30" height="25.05" stroke="#000000"/>
<rect x="523.00" y="95.45" width="86.60" height="25.05" stroke="#000000"/>
<rect x="634.30" y="95.45" width="90.50" height="25.05" stroke="#000000"/>
<rect x="749.70" y="95.45" width="89.10" height="25.05" stroke="#000000"/>
<rect x="863.10" y="95.45" width="91.80" height="25.05" stroke="#000000"/>
<rect x="979.30" y="95.45" width="156.00" height="25.05" stroke="#000000"/>
<rect x="1159.50" y="95.45" width="88.80" height="25.05" stroke="#000000"/>
<rect x="1273.20" y="95.45" width="130.60" height="25.05" stroke="#000000"/>
<rect x="1428.70" y="95.45" width="91.20" height="25.05" stroke="#000000"/>
<rect x="1545.40" y="95.45" width="87.80" height="25.05" stroke="#000000"/>
<rect x="1658.30" y="95.45" width="134.10" height="25.05" stroke="#000000"/>
<rect x="1816.90" y="95.45" width="86.10" height="25.05" stroke="#000000"/>
<rect x="2170.50" y="95.45" width="90.20" height="25.05" stroke="#000000"/>
<rect x="2285.50" y="95.45" width="79.10" height="25.05" stroke="#bfbfbf"/>
<rect x="126.60" y="170.05" width="106.40" height="25.05" stroke="#bfbfbf"/>
<rect x="308.80" y="170.05" width="96.90" height="25.05" stroke="#bfbfbf"/>
<rect x="1005.80" y="170.05" width="102.70" height="25.05" stroke="#000000"/>
<rect x="1831.50" y="170.05" width="56.70" height="25.05" stroke="#bfbfbf"/>
<rect x="65.50" y="244.75" width="121.50" height="25.05" stroke="#000000"/>
<rect x="211.20" y="244.75" width="118.50" height="25.05" stroke="#000000"/>
<rect x="354.60" y="244.75" width="183.60" height="25.05" stroke="#000000"/>
<rect x="1046.50" y="244.75" width="109.70" height="25.05" stroke="#000000"/>
<rect x="93.20" y="319.45" width="74.60" height="25.05" stroke="#bfbfbf"/>
<rect x="192.70" y="319.45" width="70.40" height="25.05" stroke="#ff0000"/>
<rect x="287.20" y="319.45" width="70.40" height="25.05" stroke="#bfbfbf"/>
<rect x="795.60" y="319.45" width="161.10" height="25.05" stroke="#000000"/>
<rect x="783.30" y="394.25" width="142.60" height="25.05" stroke="#ff0000"/>
<rect x="1052.00" y="394.25" width="98.30" height="25.05" stroke="#ff0000"/>
<rect x="1246.90" y="394.25" width="188.90" height="25.05" stroke="#ff0000"/>
<rect x="933.20" y="468.85" width="127.60" height="25.05" stroke="#000000"/>
<rect x="1136.50" y="468.85" width="115.40" height="25.05" stroke="#ff0000"/>
<rect x="1749.20" y="468.85" width="119.70" height="25.05" stroke="#000000"/>
<rect x="635.90" y="543.65" width="66.20" height="25.05" stroke="#bfbfbf"/>
<rect x="726.60" y="543.65" width="85.30" height="25.05" stroke="#bfbfbf"/>
<rect x="836.10" y="543.65" width="71.50" height="25.05" stroke="#bfbfbf"/>
<rect x="932.70" y="543.65" width="91.20" height="25.05" stroke="#bfbfbf"/>
<rect x="1150.90" y="543.65" width="74.10" height="25.05" stroke="#ff0000"/>
<rect x="1249.60" y="543.65" width="79.30" height="25.05" stroke="#bfbfbf"/>
<rect x="1354.10" y="543.65" width="89.00" height="25.05" stroke="#ff0000"/>
<rect x="1467.20" y="543.65" width="121.10" height="25.05" stroke="#ff0000"/>
<rect x="1714.80" y="543.65" width="66.10" height="25.05" stroke="#bfbfbf"/>
<rect x="1805.40" y="543.65" width="74.10" height="25.05" stroke="#bfbfbf"/>
<rect x="1903.60" y="543.65" width="141.20" height="25.05" stroke="#bfbfbf"/>
<rect x="470.50" y="617.95" width="90.70" height="25.05" stroke="#ff0000"/>
<rect x="1506.60" y="617.95" width="69.40" height="25.05" stroke="#bfbfbf"/>
<rect x="364.80" y="693.05" width="62.30" height="25.05" stroke="#bfbfbf"/>
<rect x="511.50" y="693.05" width="91.60" height="25.05" stroke="#bfbfbf"/>
<rect x="1081.80" y="693.05" width="62.50" height="25.05" stroke="#bfbfbf"/>
<rect x="1402.80" y="693.05" width="85.30" height="25.05" stroke="#bfbfbf"/>
</g>
<g class="t">
<text x="1108.30" y="22.20" textLength="125.84" lengthAdjust="spacingAndGlyphs">/root/ACloudViewer</text><text x="1108.50" y="37.30" textLength="191.53" lengthAdjust="spacingAndGlyphs">/libs/CV_io/src/FileIOFilter.cpp</text>
<text x="340.34" y="111.40" textLength="73.46" lengthAdjust="spacingAndGlyphs">AsciiFilter.h</text>
<text x="534.12" y="111.40" textLength="64.17" lengthAdjust="spacingAndGlyphs">BinFilter.h</text>
<text x="645.41" y="111.40" textLength="67.97" lengthAdjust="spacingAndGlyphs">PTXFilter.h</text>
<text x="760.84" y="111.40" textLength="66.64" lengthAdjust="spacingAndGlyphs">STLFilter.h</text>
<text x="874.42" y="111.40" textLength="68.78" lengthAdjust="spacingAndGlyphs">VTKFilter.h</text>
<text x="990.25" y="111.40" textLength="132.41" lengthAdjust="spacingAndGlyphs">DepthMapFileFilter.h</text>
<text x="1170.93" y="111.40" textLength="65.69" lengthAdjust="spacingAndGlyphs">DxfFilter.h</text>
<text x="1284.80" y="111.40" textLength="106.20" lengthAdjust="spacingAndGlyphs">ImageFileFilter.h</text>
<text x="1439.86" y="111.40" textLength="68.53" lengthAdjust="spacingAndGlyphs">OFFFilter.h</text>
<text x="1556.41" y="111.40" textLength="65.49" lengthAdjust="spacingAndGlyphs">ObjFilter.h</text>
<text x="1668.33" y="111.40" textLength="112.76" lengthAdjust="spacingAndGlyphs">RasterGridFilter.h</text>
<text x="1828.62" y="111.40" textLength="62.49" lengthAdjust="spacingAndGlyphs">PlyFilter.h</text>
<text x="2181.49" y="111.40" textLength="68.00" lengthAdjust="spacingAndGlyphs">ShpFilter.h</text>
<text x="2296.74" y="111.40" textLength="56.61" lengthAdjust="spacingAndGlyphs">QFileInfo</text>
<text x="137.64" y="186.00" textLength="83.66" lengthAdjust="spacingAndGlyphs">QTextStream</text>
<text x="319.50" y="186.00" textLength="74.75" lengthAdjust="spacingAndGlyphs">QByteArray</text>
<text x="1017.29" y="186.00" textLength="79.26" lengthAdjust="spacingAndGlyphs">FileIOFilter.h</text>
<text x="1842.52" y="186.00" textLength="35.23" lengthAdjust="spacingAndGlyphs">rply.h</text>
<text x="76.21" y="260.70" textLength="99.10" lengthAdjust="spacingAndGlyphs">AsciiOpenDlg.h</text>
<text x="221.85" y="260.70" textLength="96.27" lengthAdjust="spacingAndGlyphs">AsciiSaveDlg.h</text>
<text x="364.07" y="260.70" textLength="162.35" lengthAdjust="spacingAndGlyphs">ecvGlobalShiftManager.h</text>
<text x="1057.32" y="260.70" textLength="87.43" lengthAdjust="spacingAndGlyphs">ecvHObject.h</text>
<text x="104.71" y="335.40" textLength="51.53" lengthAdjust="spacingAndGlyphs">QDialog</text>
<text x="203.85" y="335.40" textLength="48.12" lengthAdjust="spacingAndGlyphs">CV_io.h</text>
<text x="297.94" y="335.40" textLength="48.90" lengthAdjust="spacingAndGlyphs">QString</text>
<text x="805.44" y="335.40" textLength="139.61" lengthAdjust="spacingAndGlyphs">ecvDrawableObject.h</text>
<text x="793.76" y="410.20" textLength="120.30" lengthAdjust="spacingAndGlyphs">ecvDrawContext.h</text>
<text x="1062.13" y="410.20" textLength="77.56" lengthAdjust="spacingAndGlyphs">ecvObject.h</text>
<text x="1257.20" y="410.20" textLength="165.88" lengthAdjust="spacingAndGlyphs">ecvGenericDisplayTools.h</text>
<text x="943.52" y="484.80" textLength="105.94" lengthAdjust="spacingAndGlyphs">ecvColorTypes.h</text>
<text x="1147.03" y="484.80" textLength="93.55" lengthAdjust="spacingAndGlyphs">ecvGLMatrix.h</text>
<text x="1759.38" y="484.80" textLength="98.46" lengthAdjust="spacingAndGlyphs">BoundingBox.h</text>
<text x="647.05" y="558.80" textLength="44.47" lengthAdjust="spacingAndGlyphs">QColor</text>
<text x="737.16" y="558.80" textLength="64.02" lengthAdjust="spacingAndGlyphs">Logging.h</text>
<text x="846.83" y="558.80" textLength="50.21" lengthAdjust="spacingAndGlyphs">random</text>
<text x="943.40" y="558.80" textLength="69.50" lengthAdjust="spacingAndGlyphs">type_traits</text>
<text x="1161.24" y="558.80" textLength="53.34" lengthAdjust="spacingAndGlyphs">CV_db.h</text>
<text x="1260.86" y="558.80" textLength="56.93" lengthAdjust="spacingAndGlyphs">iostream</text>
<text x="1364.63" y="558.80" textLength="67.52" lengthAdjust="spacingAndGlyphs">CVConst.h</text>
<text x="1477.75" y="558.80" textLength="99.11" lengthAdjust="spacingAndGlyphs">SquareMatrix.h</text>
<text x="1725.90" y="558.80" textLength="44.16" lengthAdjust="spacingAndGlyphs">cstdint</text>
<text x="1815.98" y="558.80" textLength="52.85" lengthAdjust="spacingAndGlyphs">numeric</text>
<text x="1913.74" y="558.80" textLength="119.55" lengthAdjust="spacingAndGlyphs">Eigen/Eigenvalues</text>
<text x="481.08" y="633.90" textLength="69.09" lengthAdjust="spacingAndGlyphs">CVGeom.h</text>
<text x="1517.90" y="633.90" textLength="46.96" lengthAdjust="spacingAndGlyphs">cassert</text>
<text x="375.73" y="709.00" textLength="41.33" lengthAdjust="spacingAndGlyphs">vector</text>
<text x="521.73" y="709.00" textLength="70.91" lengthAdjust="spacingAndGlyphs">Eigen/Core</text>
<text x="1092.70" y="709.00" textLength="41.11" lengthAdjust="spacingAndGlyphs">cmath</text>
<text x="1414.07" y="709.00" textLength="62.64" lengthAdjust="spacingAndGlyphs">algorithm</text>
</g>
</svg>
</body></html>
